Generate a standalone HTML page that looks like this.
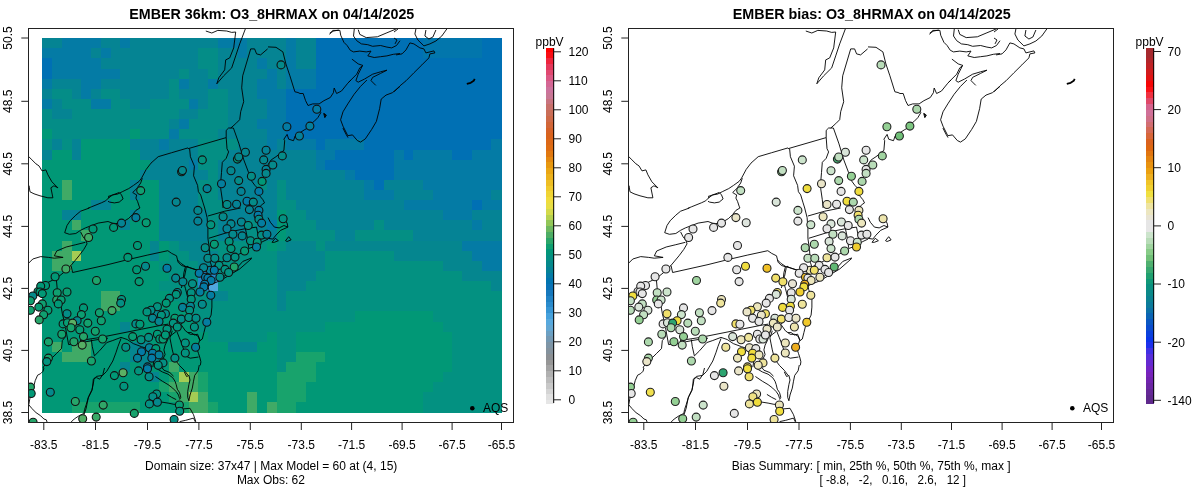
<!DOCTYPE html><html><head><meta charset="utf-8"><style>html,body{margin:0;padding:0;background:#fff;overflow:hidden}svg{display:block;will-change:transform}text{font-family:'Liberation Sans',sans-serif}</style></head><body>
<svg width="1200" height="502" viewBox="0 0 1200 502">
<rect width="1200" height="502" fill="#fff"/>
<defs><clipPath id="clipL"><rect x="28.5" y="28.5" width="485" height="394"/></clipPath><clipPath id="clipR"><rect x="628.5" y="28.5" width="485" height="394"/></clipPath></defs>
<rect shape-rendering="crispEdges" x="42.20" y="38.20" width="10.07" height="10.42" fill="#058493"/>
<rect shape-rendering="crispEdges" x="51.97" y="38.20" width="10.07" height="10.42" fill="#058493"/>
<rect shape-rendering="crispEdges" x="61.73" y="38.20" width="10.07" height="10.42" fill="#047ba5"/>
<rect shape-rendering="crispEdges" x="71.50" y="38.20" width="10.07" height="10.42" fill="#047ba5"/>
<rect shape-rendering="crispEdges" x="81.26" y="38.20" width="10.07" height="10.42" fill="#047ba5"/>
<rect shape-rendering="crispEdges" x="91.03" y="38.20" width="10.07" height="10.42" fill="#047ba5"/>
<rect shape-rendering="crispEdges" x="100.80" y="38.20" width="10.07" height="10.42" fill="#058493"/>
<rect shape-rendering="crispEdges" x="110.56" y="38.20" width="10.07" height="10.42" fill="#058493"/>
<rect shape-rendering="crispEdges" x="120.33" y="38.20" width="10.07" height="10.42" fill="#047ba5"/>
<rect shape-rendering="crispEdges" x="130.09" y="38.20" width="10.07" height="10.42" fill="#058493"/>
<rect shape-rendering="crispEdges" x="139.86" y="38.20" width="10.07" height="10.42" fill="#058493"/>
<rect shape-rendering="crispEdges" x="149.63" y="38.20" width="10.07" height="10.42" fill="#058493"/>
<rect shape-rendering="crispEdges" x="159.39" y="38.20" width="10.07" height="10.42" fill="#058493"/>
<rect shape-rendering="crispEdges" x="169.16" y="38.20" width="10.07" height="10.42" fill="#058493"/>
<rect shape-rendering="crispEdges" x="178.92" y="38.20" width="10.07" height="10.42" fill="#058493"/>
<rect shape-rendering="crispEdges" x="188.69" y="38.20" width="10.07" height="10.42" fill="#058493"/>
<rect shape-rendering="crispEdges" x="198.46" y="38.20" width="10.07" height="10.42" fill="#058493"/>
<rect shape-rendering="crispEdges" x="208.22" y="38.20" width="10.07" height="10.42" fill="#058493"/>
<rect shape-rendering="crispEdges" x="217.99" y="38.20" width="10.07" height="10.42" fill="#047ba5"/>
<rect shape-rendering="crispEdges" x="227.75" y="38.20" width="10.07" height="10.42" fill="#047ba5"/>
<rect shape-rendering="crispEdges" x="237.52" y="38.20" width="10.07" height="10.42" fill="#047ba5"/>
<rect shape-rendering="crispEdges" x="247.29" y="38.20" width="10.07" height="10.42" fill="#058493"/>
<rect shape-rendering="crispEdges" x="257.05" y="38.20" width="10.07" height="10.42" fill="#058493"/>
<rect shape-rendering="crispEdges" x="266.82" y="38.20" width="10.07" height="10.42" fill="#058493"/>
<rect shape-rendering="crispEdges" x="276.58" y="38.20" width="10.07" height="10.42" fill="#058493"/>
<rect shape-rendering="crispEdges" x="286.35" y="38.20" width="10.07" height="10.42" fill="#047ba5"/>
<rect shape-rendering="crispEdges" x="296.11" y="38.20" width="10.07" height="10.42" fill="#058493"/>
<rect shape-rendering="crispEdges" x="305.88" y="38.20" width="10.07" height="10.42" fill="#058493"/>
<rect shape-rendering="crispEdges" x="315.65" y="38.20" width="10.07" height="10.42" fill="#0070b4"/>
<rect shape-rendering="crispEdges" x="325.41" y="38.20" width="10.07" height="10.42" fill="#0070b4"/>
<rect shape-rendering="crispEdges" x="335.18" y="38.20" width="10.07" height="10.42" fill="#0070b4"/>
<rect shape-rendering="crispEdges" x="344.94" y="38.20" width="10.07" height="10.42" fill="#0070b4"/>
<rect shape-rendering="crispEdges" x="354.71" y="38.20" width="10.07" height="10.42" fill="#0070b4"/>
<rect shape-rendering="crispEdges" x="364.48" y="38.20" width="10.07" height="10.42" fill="#0070b4"/>
<rect shape-rendering="crispEdges" x="374.24" y="38.20" width="10.07" height="10.42" fill="#0070b4"/>
<rect shape-rendering="crispEdges" x="384.01" y="38.20" width="10.07" height="10.42" fill="#0070b4"/>
<rect shape-rendering="crispEdges" x="393.77" y="38.20" width="10.07" height="10.42" fill="#0070b4"/>
<rect shape-rendering="crispEdges" x="403.54" y="38.20" width="10.07" height="10.42" fill="#0070b4"/>
<rect shape-rendering="crispEdges" x="413.31" y="38.20" width="10.07" height="10.42" fill="#0070b4"/>
<rect shape-rendering="crispEdges" x="423.07" y="38.20" width="10.07" height="10.42" fill="#0276ac"/>
<rect shape-rendering="crispEdges" x="432.84" y="38.20" width="10.07" height="10.42" fill="#0276ac"/>
<rect shape-rendering="crispEdges" x="442.60" y="38.20" width="10.07" height="10.42" fill="#0276ac"/>
<rect shape-rendering="crispEdges" x="452.37" y="38.20" width="10.07" height="10.42" fill="#0276ac"/>
<rect shape-rendering="crispEdges" x="462.14" y="38.20" width="10.07" height="10.42" fill="#0276ac"/>
<rect shape-rendering="crispEdges" x="471.90" y="38.20" width="10.07" height="10.42" fill="#0276ac"/>
<rect shape-rendering="crispEdges" x="481.67" y="38.20" width="10.07" height="10.42" fill="#0070b4"/>
<rect shape-rendering="crispEdges" x="491.43" y="38.20" width="10.07" height="10.42" fill="#0070b4"/>
<rect shape-rendering="crispEdges" x="42.20" y="48.32" width="10.07" height="10.42" fill="#047ba5"/>
<rect shape-rendering="crispEdges" x="51.97" y="48.32" width="10.07" height="10.42" fill="#047ba5"/>
<rect shape-rendering="crispEdges" x="61.73" y="48.32" width="10.07" height="10.42" fill="#047ba5"/>
<rect shape-rendering="crispEdges" x="71.50" y="48.32" width="10.07" height="10.42" fill="#047ba5"/>
<rect shape-rendering="crispEdges" x="81.26" y="48.32" width="10.07" height="10.42" fill="#047ba5"/>
<rect shape-rendering="crispEdges" x="91.03" y="48.32" width="10.07" height="10.42" fill="#058493"/>
<rect shape-rendering="crispEdges" x="100.80" y="48.32" width="10.07" height="10.42" fill="#047ba5"/>
<rect shape-rendering="crispEdges" x="110.56" y="48.32" width="10.07" height="10.42" fill="#058493"/>
<rect shape-rendering="crispEdges" x="120.33" y="48.32" width="10.07" height="10.42" fill="#058493"/>
<rect shape-rendering="crispEdges" x="130.09" y="48.32" width="10.07" height="10.42" fill="#058493"/>
<rect shape-rendering="crispEdges" x="139.86" y="48.32" width="10.07" height="10.42" fill="#058493"/>
<rect shape-rendering="crispEdges" x="149.63" y="48.32" width="10.07" height="10.42" fill="#058493"/>
<rect shape-rendering="crispEdges" x="159.39" y="48.32" width="10.07" height="10.42" fill="#058493"/>
<rect shape-rendering="crispEdges" x="169.16" y="48.32" width="10.07" height="10.42" fill="#058493"/>
<rect shape-rendering="crispEdges" x="178.92" y="48.32" width="10.07" height="10.42" fill="#058493"/>
<rect shape-rendering="crispEdges" x="188.69" y="48.32" width="10.07" height="10.42" fill="#058493"/>
<rect shape-rendering="crispEdges" x="198.46" y="48.32" width="10.07" height="10.42" fill="#048d87"/>
<rect shape-rendering="crispEdges" x="208.22" y="48.32" width="10.07" height="10.42" fill="#048d87"/>
<rect shape-rendering="crispEdges" x="217.99" y="48.32" width="10.07" height="10.42" fill="#058493"/>
<rect shape-rendering="crispEdges" x="227.75" y="48.32" width="10.07" height="10.42" fill="#058493"/>
<rect shape-rendering="crispEdges" x="237.52" y="48.32" width="10.07" height="10.42" fill="#047ba5"/>
<rect shape-rendering="crispEdges" x="247.29" y="48.32" width="10.07" height="10.42" fill="#058493"/>
<rect shape-rendering="crispEdges" x="257.05" y="48.32" width="10.07" height="10.42" fill="#058493"/>
<rect shape-rendering="crispEdges" x="266.82" y="48.32" width="10.07" height="10.42" fill="#058493"/>
<rect shape-rendering="crispEdges" x="276.58" y="48.32" width="10.07" height="10.42" fill="#058493"/>
<rect shape-rendering="crispEdges" x="286.35" y="48.32" width="10.07" height="10.42" fill="#047ba5"/>
<rect shape-rendering="crispEdges" x="296.11" y="48.32" width="10.07" height="10.42" fill="#058493"/>
<rect shape-rendering="crispEdges" x="305.88" y="48.32" width="10.07" height="10.42" fill="#058493"/>
<rect shape-rendering="crispEdges" x="315.65" y="48.32" width="10.07" height="10.42" fill="#0070b4"/>
<rect shape-rendering="crispEdges" x="325.41" y="48.32" width="10.07" height="10.42" fill="#0070b4"/>
<rect shape-rendering="crispEdges" x="335.18" y="48.32" width="10.07" height="10.42" fill="#0070b4"/>
<rect shape-rendering="crispEdges" x="344.94" y="48.32" width="10.07" height="10.42" fill="#0070b4"/>
<rect shape-rendering="crispEdges" x="354.71" y="48.32" width="10.07" height="10.42" fill="#0070b4"/>
<rect shape-rendering="crispEdges" x="364.48" y="48.32" width="10.07" height="10.42" fill="#0070b4"/>
<rect shape-rendering="crispEdges" x="374.24" y="48.32" width="10.07" height="10.42" fill="#0070b4"/>
<rect shape-rendering="crispEdges" x="384.01" y="48.32" width="10.07" height="10.42" fill="#0070b4"/>
<rect shape-rendering="crispEdges" x="393.77" y="48.32" width="10.07" height="10.42" fill="#0070b4"/>
<rect shape-rendering="crispEdges" x="403.54" y="48.32" width="10.07" height="10.42" fill="#0070b4"/>
<rect shape-rendering="crispEdges" x="413.31" y="48.32" width="10.07" height="10.42" fill="#0070b4"/>
<rect shape-rendering="crispEdges" x="423.07" y="48.32" width="10.07" height="10.42" fill="#0276ac"/>
<rect shape-rendering="crispEdges" x="432.84" y="48.32" width="10.07" height="10.42" fill="#0276ac"/>
<rect shape-rendering="crispEdges" x="442.60" y="48.32" width="10.07" height="10.42" fill="#0276ac"/>
<rect shape-rendering="crispEdges" x="452.37" y="48.32" width="10.07" height="10.42" fill="#0276ac"/>
<rect shape-rendering="crispEdges" x="462.14" y="48.32" width="10.07" height="10.42" fill="#0276ac"/>
<rect shape-rendering="crispEdges" x="471.90" y="48.32" width="10.07" height="10.42" fill="#0276ac"/>
<rect shape-rendering="crispEdges" x="481.67" y="48.32" width="10.07" height="10.42" fill="#0070b4"/>
<rect shape-rendering="crispEdges" x="491.43" y="48.32" width="10.07" height="10.42" fill="#0070b4"/>
<rect shape-rendering="crispEdges" x="42.20" y="58.44" width="10.07" height="10.42" fill="#0070b4"/>
<rect shape-rendering="crispEdges" x="51.97" y="58.44" width="10.07" height="10.42" fill="#047ba5"/>
<rect shape-rendering="crispEdges" x="61.73" y="58.44" width="10.07" height="10.42" fill="#047ba5"/>
<rect shape-rendering="crispEdges" x="71.50" y="58.44" width="10.07" height="10.42" fill="#047ba5"/>
<rect shape-rendering="crispEdges" x="81.26" y="58.44" width="10.07" height="10.42" fill="#047ba5"/>
<rect shape-rendering="crispEdges" x="91.03" y="58.44" width="10.07" height="10.42" fill="#047ba5"/>
<rect shape-rendering="crispEdges" x="100.80" y="58.44" width="10.07" height="10.42" fill="#058493"/>
<rect shape-rendering="crispEdges" x="110.56" y="58.44" width="10.07" height="10.42" fill="#058493"/>
<rect shape-rendering="crispEdges" x="120.33" y="58.44" width="10.07" height="10.42" fill="#058493"/>
<rect shape-rendering="crispEdges" x="130.09" y="58.44" width="10.07" height="10.42" fill="#058493"/>
<rect shape-rendering="crispEdges" x="139.86" y="58.44" width="10.07" height="10.42" fill="#058493"/>
<rect shape-rendering="crispEdges" x="149.63" y="58.44" width="10.07" height="10.42" fill="#058493"/>
<rect shape-rendering="crispEdges" x="159.39" y="58.44" width="10.07" height="10.42" fill="#058493"/>
<rect shape-rendering="crispEdges" x="169.16" y="58.44" width="10.07" height="10.42" fill="#058493"/>
<rect shape-rendering="crispEdges" x="178.92" y="58.44" width="10.07" height="10.42" fill="#058493"/>
<rect shape-rendering="crispEdges" x="188.69" y="58.44" width="10.07" height="10.42" fill="#058493"/>
<rect shape-rendering="crispEdges" x="198.46" y="58.44" width="10.07" height="10.42" fill="#048d87"/>
<rect shape-rendering="crispEdges" x="208.22" y="58.44" width="10.07" height="10.42" fill="#048d87"/>
<rect shape-rendering="crispEdges" x="217.99" y="58.44" width="10.07" height="10.42" fill="#058493"/>
<rect shape-rendering="crispEdges" x="227.75" y="58.44" width="10.07" height="10.42" fill="#058493"/>
<rect shape-rendering="crispEdges" x="237.52" y="58.44" width="10.07" height="10.42" fill="#058493"/>
<rect shape-rendering="crispEdges" x="247.29" y="58.44" width="10.07" height="10.42" fill="#058493"/>
<rect shape-rendering="crispEdges" x="257.05" y="58.44" width="10.07" height="10.42" fill="#047ba5"/>
<rect shape-rendering="crispEdges" x="266.82" y="58.44" width="10.07" height="10.42" fill="#058493"/>
<rect shape-rendering="crispEdges" x="276.58" y="58.44" width="10.07" height="10.42" fill="#058493"/>
<rect shape-rendering="crispEdges" x="286.35" y="58.44" width="10.07" height="10.42" fill="#047ba5"/>
<rect shape-rendering="crispEdges" x="296.11" y="58.44" width="10.07" height="10.42" fill="#058493"/>
<rect shape-rendering="crispEdges" x="305.88" y="58.44" width="10.07" height="10.42" fill="#058493"/>
<rect shape-rendering="crispEdges" x="315.65" y="58.44" width="10.07" height="10.42" fill="#0070b4"/>
<rect shape-rendering="crispEdges" x="325.41" y="58.44" width="10.07" height="10.42" fill="#0070b4"/>
<rect shape-rendering="crispEdges" x="335.18" y="58.44" width="10.07" height="10.42" fill="#0070b4"/>
<rect shape-rendering="crispEdges" x="344.94" y="58.44" width="10.07" height="10.42" fill="#0070b4"/>
<rect shape-rendering="crispEdges" x="354.71" y="58.44" width="10.07" height="10.42" fill="#0070b4"/>
<rect shape-rendering="crispEdges" x="364.48" y="58.44" width="10.07" height="10.42" fill="#0070b4"/>
<rect shape-rendering="crispEdges" x="374.24" y="58.44" width="10.07" height="10.42" fill="#0070b4"/>
<rect shape-rendering="crispEdges" x="384.01" y="58.44" width="10.07" height="10.42" fill="#0070b4"/>
<rect shape-rendering="crispEdges" x="393.77" y="58.44" width="10.07" height="10.42" fill="#0070b4"/>
<rect shape-rendering="crispEdges" x="403.54" y="58.44" width="10.07" height="10.42" fill="#0070b4"/>
<rect shape-rendering="crispEdges" x="413.31" y="58.44" width="10.07" height="10.42" fill="#0070b4"/>
<rect shape-rendering="crispEdges" x="423.07" y="58.44" width="10.07" height="10.42" fill="#0070b4"/>
<rect shape-rendering="crispEdges" x="432.84" y="58.44" width="10.07" height="10.42" fill="#0070b4"/>
<rect shape-rendering="crispEdges" x="442.60" y="58.44" width="10.07" height="10.42" fill="#0070b4"/>
<rect shape-rendering="crispEdges" x="452.37" y="58.44" width="10.07" height="10.42" fill="#0070b4"/>
<rect shape-rendering="crispEdges" x="462.14" y="58.44" width="10.07" height="10.42" fill="#0070b4"/>
<rect shape-rendering="crispEdges" x="471.90" y="58.44" width="10.07" height="10.42" fill="#0070b4"/>
<rect shape-rendering="crispEdges" x="481.67" y="58.44" width="10.07" height="10.42" fill="#0070b4"/>
<rect shape-rendering="crispEdges" x="491.43" y="58.44" width="10.07" height="10.42" fill="#0070b4"/>
<rect shape-rendering="crispEdges" x="42.20" y="68.56" width="10.07" height="10.42" fill="#0070b4"/>
<rect shape-rendering="crispEdges" x="51.97" y="68.56" width="10.07" height="10.42" fill="#047ba5"/>
<rect shape-rendering="crispEdges" x="61.73" y="68.56" width="10.07" height="10.42" fill="#047ba5"/>
<rect shape-rendering="crispEdges" x="71.50" y="68.56" width="10.07" height="10.42" fill="#047ba5"/>
<rect shape-rendering="crispEdges" x="81.26" y="68.56" width="10.07" height="10.42" fill="#047ba5"/>
<rect shape-rendering="crispEdges" x="91.03" y="68.56" width="10.07" height="10.42" fill="#047ba5"/>
<rect shape-rendering="crispEdges" x="100.80" y="68.56" width="10.07" height="10.42" fill="#047ba5"/>
<rect shape-rendering="crispEdges" x="110.56" y="68.56" width="10.07" height="10.42" fill="#047ba5"/>
<rect shape-rendering="crispEdges" x="120.33" y="68.56" width="10.07" height="10.42" fill="#058493"/>
<rect shape-rendering="crispEdges" x="130.09" y="68.56" width="10.07" height="10.42" fill="#058493"/>
<rect shape-rendering="crispEdges" x="139.86" y="68.56" width="10.07" height="10.42" fill="#058493"/>
<rect shape-rendering="crispEdges" x="149.63" y="68.56" width="10.07" height="10.42" fill="#058493"/>
<rect shape-rendering="crispEdges" x="159.39" y="68.56" width="10.07" height="10.42" fill="#058493"/>
<rect shape-rendering="crispEdges" x="169.16" y="68.56" width="10.07" height="10.42" fill="#058493"/>
<rect shape-rendering="crispEdges" x="178.92" y="68.56" width="10.07" height="10.42" fill="#048d87"/>
<rect shape-rendering="crispEdges" x="188.69" y="68.56" width="10.07" height="10.42" fill="#058493"/>
<rect shape-rendering="crispEdges" x="198.46" y="68.56" width="10.07" height="10.42" fill="#058493"/>
<rect shape-rendering="crispEdges" x="208.22" y="68.56" width="10.07" height="10.42" fill="#048d87"/>
<rect shape-rendering="crispEdges" x="217.99" y="68.56" width="10.07" height="10.42" fill="#058493"/>
<rect shape-rendering="crispEdges" x="227.75" y="68.56" width="10.07" height="10.42" fill="#058493"/>
<rect shape-rendering="crispEdges" x="237.52" y="68.56" width="10.07" height="10.42" fill="#058493"/>
<rect shape-rendering="crispEdges" x="247.29" y="68.56" width="10.07" height="10.42" fill="#058493"/>
<rect shape-rendering="crispEdges" x="257.05" y="68.56" width="10.07" height="10.42" fill="#058493"/>
<rect shape-rendering="crispEdges" x="266.82" y="68.56" width="10.07" height="10.42" fill="#047ba5"/>
<rect shape-rendering="crispEdges" x="276.58" y="68.56" width="10.07" height="10.42" fill="#058493"/>
<rect shape-rendering="crispEdges" x="286.35" y="68.56" width="10.07" height="10.42" fill="#047ba5"/>
<rect shape-rendering="crispEdges" x="296.11" y="68.56" width="10.07" height="10.42" fill="#047ba5"/>
<rect shape-rendering="crispEdges" x="305.88" y="68.56" width="10.07" height="10.42" fill="#047ba5"/>
<rect shape-rendering="crispEdges" x="315.65" y="68.56" width="10.07" height="10.42" fill="#0070b4"/>
<rect shape-rendering="crispEdges" x="325.41" y="68.56" width="10.07" height="10.42" fill="#0070b4"/>
<rect shape-rendering="crispEdges" x="335.18" y="68.56" width="10.07" height="10.42" fill="#0070b4"/>
<rect shape-rendering="crispEdges" x="344.94" y="68.56" width="10.07" height="10.42" fill="#0070b4"/>
<rect shape-rendering="crispEdges" x="354.71" y="68.56" width="10.07" height="10.42" fill="#0070b4"/>
<rect shape-rendering="crispEdges" x="364.48" y="68.56" width="10.07" height="10.42" fill="#0070b4"/>
<rect shape-rendering="crispEdges" x="374.24" y="68.56" width="10.07" height="10.42" fill="#0070b4"/>
<rect shape-rendering="crispEdges" x="384.01" y="68.56" width="10.07" height="10.42" fill="#0070b4"/>
<rect shape-rendering="crispEdges" x="393.77" y="68.56" width="10.07" height="10.42" fill="#0070b4"/>
<rect shape-rendering="crispEdges" x="403.54" y="68.56" width="10.07" height="10.42" fill="#0070b4"/>
<rect shape-rendering="crispEdges" x="413.31" y="68.56" width="10.07" height="10.42" fill="#0070b4"/>
<rect shape-rendering="crispEdges" x="423.07" y="68.56" width="10.07" height="10.42" fill="#0070b4"/>
<rect shape-rendering="crispEdges" x="432.84" y="68.56" width="10.07" height="10.42" fill="#0070b4"/>
<rect shape-rendering="crispEdges" x="442.60" y="68.56" width="10.07" height="10.42" fill="#0070b4"/>
<rect shape-rendering="crispEdges" x="452.37" y="68.56" width="10.07" height="10.42" fill="#0070b4"/>
<rect shape-rendering="crispEdges" x="462.14" y="68.56" width="10.07" height="10.42" fill="#0070b4"/>
<rect shape-rendering="crispEdges" x="471.90" y="68.56" width="10.07" height="10.42" fill="#0070b4"/>
<rect shape-rendering="crispEdges" x="481.67" y="68.56" width="10.07" height="10.42" fill="#0070b4"/>
<rect shape-rendering="crispEdges" x="491.43" y="68.56" width="10.07" height="10.42" fill="#0070b4"/>
<rect shape-rendering="crispEdges" x="42.20" y="78.68" width="10.07" height="10.42" fill="#047ba5"/>
<rect shape-rendering="crispEdges" x="51.97" y="78.68" width="10.07" height="10.42" fill="#058493"/>
<rect shape-rendering="crispEdges" x="61.73" y="78.68" width="10.07" height="10.42" fill="#058493"/>
<rect shape-rendering="crispEdges" x="71.50" y="78.68" width="10.07" height="10.42" fill="#058493"/>
<rect shape-rendering="crispEdges" x="81.26" y="78.68" width="10.07" height="10.42" fill="#047ba5"/>
<rect shape-rendering="crispEdges" x="91.03" y="78.68" width="10.07" height="10.42" fill="#047ba5"/>
<rect shape-rendering="crispEdges" x="100.80" y="78.68" width="10.07" height="10.42" fill="#058493"/>
<rect shape-rendering="crispEdges" x="110.56" y="78.68" width="10.07" height="10.42" fill="#058493"/>
<rect shape-rendering="crispEdges" x="120.33" y="78.68" width="10.07" height="10.42" fill="#058493"/>
<rect shape-rendering="crispEdges" x="130.09" y="78.68" width="10.07" height="10.42" fill="#058493"/>
<rect shape-rendering="crispEdges" x="139.86" y="78.68" width="10.07" height="10.42" fill="#058493"/>
<rect shape-rendering="crispEdges" x="149.63" y="78.68" width="10.07" height="10.42" fill="#058493"/>
<rect shape-rendering="crispEdges" x="159.39" y="78.68" width="10.07" height="10.42" fill="#058493"/>
<rect shape-rendering="crispEdges" x="169.16" y="78.68" width="10.07" height="10.42" fill="#048d87"/>
<rect shape-rendering="crispEdges" x="178.92" y="78.68" width="10.07" height="10.42" fill="#047ba5"/>
<rect shape-rendering="crispEdges" x="188.69" y="78.68" width="10.07" height="10.42" fill="#058493"/>
<rect shape-rendering="crispEdges" x="198.46" y="78.68" width="10.07" height="10.42" fill="#058493"/>
<rect shape-rendering="crispEdges" x="208.22" y="78.68" width="10.07" height="10.42" fill="#047ba5"/>
<rect shape-rendering="crispEdges" x="217.99" y="78.68" width="10.07" height="10.42" fill="#058493"/>
<rect shape-rendering="crispEdges" x="227.75" y="78.68" width="10.07" height="10.42" fill="#058493"/>
<rect shape-rendering="crispEdges" x="237.52" y="78.68" width="10.07" height="10.42" fill="#058493"/>
<rect shape-rendering="crispEdges" x="247.29" y="78.68" width="10.07" height="10.42" fill="#058493"/>
<rect shape-rendering="crispEdges" x="257.05" y="78.68" width="10.07" height="10.42" fill="#047ba5"/>
<rect shape-rendering="crispEdges" x="266.82" y="78.68" width="10.07" height="10.42" fill="#047ba5"/>
<rect shape-rendering="crispEdges" x="276.58" y="78.68" width="10.07" height="10.42" fill="#058493"/>
<rect shape-rendering="crispEdges" x="286.35" y="78.68" width="10.07" height="10.42" fill="#047ba5"/>
<rect shape-rendering="crispEdges" x="296.11" y="78.68" width="10.07" height="10.42" fill="#047ba5"/>
<rect shape-rendering="crispEdges" x="305.88" y="78.68" width="10.07" height="10.42" fill="#047ba5"/>
<rect shape-rendering="crispEdges" x="315.65" y="78.68" width="10.07" height="10.42" fill="#0070b4"/>
<rect shape-rendering="crispEdges" x="325.41" y="78.68" width="10.07" height="10.42" fill="#0070b4"/>
<rect shape-rendering="crispEdges" x="335.18" y="78.68" width="10.07" height="10.42" fill="#0070b4"/>
<rect shape-rendering="crispEdges" x="344.94" y="78.68" width="10.07" height="10.42" fill="#0070b4"/>
<rect shape-rendering="crispEdges" x="354.71" y="78.68" width="10.07" height="10.42" fill="#0070b4"/>
<rect shape-rendering="crispEdges" x="364.48" y="78.68" width="10.07" height="10.42" fill="#0070b4"/>
<rect shape-rendering="crispEdges" x="374.24" y="78.68" width="10.07" height="10.42" fill="#0070b4"/>
<rect shape-rendering="crispEdges" x="384.01" y="78.68" width="10.07" height="10.42" fill="#0070b4"/>
<rect shape-rendering="crispEdges" x="393.77" y="78.68" width="10.07" height="10.42" fill="#0070b4"/>
<rect shape-rendering="crispEdges" x="403.54" y="78.68" width="10.07" height="10.42" fill="#0070b4"/>
<rect shape-rendering="crispEdges" x="413.31" y="78.68" width="10.07" height="10.42" fill="#0070b4"/>
<rect shape-rendering="crispEdges" x="423.07" y="78.68" width="10.07" height="10.42" fill="#0070b4"/>
<rect shape-rendering="crispEdges" x="432.84" y="78.68" width="10.07" height="10.42" fill="#0070b4"/>
<rect shape-rendering="crispEdges" x="442.60" y="78.68" width="10.07" height="10.42" fill="#0070b4"/>
<rect shape-rendering="crispEdges" x="452.37" y="78.68" width="10.07" height="10.42" fill="#0070b4"/>
<rect shape-rendering="crispEdges" x="462.14" y="78.68" width="10.07" height="10.42" fill="#0070b4"/>
<rect shape-rendering="crispEdges" x="471.90" y="78.68" width="10.07" height="10.42" fill="#0070b4"/>
<rect shape-rendering="crispEdges" x="481.67" y="78.68" width="10.07" height="10.42" fill="#0070b4"/>
<rect shape-rendering="crispEdges" x="491.43" y="78.68" width="10.07" height="10.42" fill="#0070b4"/>
<rect shape-rendering="crispEdges" x="42.20" y="88.79" width="10.07" height="10.42" fill="#058493"/>
<rect shape-rendering="crispEdges" x="51.97" y="88.79" width="10.07" height="10.42" fill="#048d87"/>
<rect shape-rendering="crispEdges" x="61.73" y="88.79" width="10.07" height="10.42" fill="#048d87"/>
<rect shape-rendering="crispEdges" x="71.50" y="88.79" width="10.07" height="10.42" fill="#058493"/>
<rect shape-rendering="crispEdges" x="81.26" y="88.79" width="10.07" height="10.42" fill="#047ba5"/>
<rect shape-rendering="crispEdges" x="91.03" y="88.79" width="10.07" height="10.42" fill="#058493"/>
<rect shape-rendering="crispEdges" x="100.80" y="88.79" width="10.07" height="10.42" fill="#048d87"/>
<rect shape-rendering="crispEdges" x="110.56" y="88.79" width="10.07" height="10.42" fill="#048d87"/>
<rect shape-rendering="crispEdges" x="120.33" y="88.79" width="10.07" height="10.42" fill="#058493"/>
<rect shape-rendering="crispEdges" x="130.09" y="88.79" width="10.07" height="10.42" fill="#058493"/>
<rect shape-rendering="crispEdges" x="139.86" y="88.79" width="10.07" height="10.42" fill="#058493"/>
<rect shape-rendering="crispEdges" x="149.63" y="88.79" width="10.07" height="10.42" fill="#058493"/>
<rect shape-rendering="crispEdges" x="159.39" y="88.79" width="10.07" height="10.42" fill="#058493"/>
<rect shape-rendering="crispEdges" x="169.16" y="88.79" width="10.07" height="10.42" fill="#048d87"/>
<rect shape-rendering="crispEdges" x="178.92" y="88.79" width="10.07" height="10.42" fill="#058493"/>
<rect shape-rendering="crispEdges" x="188.69" y="88.79" width="10.07" height="10.42" fill="#058493"/>
<rect shape-rendering="crispEdges" x="198.46" y="88.79" width="10.07" height="10.42" fill="#058493"/>
<rect shape-rendering="crispEdges" x="208.22" y="88.79" width="10.07" height="10.42" fill="#048d87"/>
<rect shape-rendering="crispEdges" x="217.99" y="88.79" width="10.07" height="10.42" fill="#048d87"/>
<rect shape-rendering="crispEdges" x="227.75" y="88.79" width="10.07" height="10.42" fill="#058493"/>
<rect shape-rendering="crispEdges" x="237.52" y="88.79" width="10.07" height="10.42" fill="#058493"/>
<rect shape-rendering="crispEdges" x="247.29" y="88.79" width="10.07" height="10.42" fill="#058493"/>
<rect shape-rendering="crispEdges" x="257.05" y="88.79" width="10.07" height="10.42" fill="#047ba5"/>
<rect shape-rendering="crispEdges" x="266.82" y="88.79" width="10.07" height="10.42" fill="#047ba5"/>
<rect shape-rendering="crispEdges" x="276.58" y="88.79" width="10.07" height="10.42" fill="#047ba5"/>
<rect shape-rendering="crispEdges" x="286.35" y="88.79" width="10.07" height="10.42" fill="#0070b4"/>
<rect shape-rendering="crispEdges" x="296.11" y="88.79" width="10.07" height="10.42" fill="#0070b4"/>
<rect shape-rendering="crispEdges" x="305.88" y="88.79" width="10.07" height="10.42" fill="#0070b4"/>
<rect shape-rendering="crispEdges" x="315.65" y="88.79" width="10.07" height="10.42" fill="#0070b4"/>
<rect shape-rendering="crispEdges" x="325.41" y="88.79" width="10.07" height="10.42" fill="#0070b4"/>
<rect shape-rendering="crispEdges" x="335.18" y="88.79" width="10.07" height="10.42" fill="#0070b4"/>
<rect shape-rendering="crispEdges" x="344.94" y="88.79" width="10.07" height="10.42" fill="#0070b4"/>
<rect shape-rendering="crispEdges" x="354.71" y="88.79" width="10.07" height="10.42" fill="#0070b4"/>
<rect shape-rendering="crispEdges" x="364.48" y="88.79" width="10.07" height="10.42" fill="#0070b4"/>
<rect shape-rendering="crispEdges" x="374.24" y="88.79" width="10.07" height="10.42" fill="#0070b4"/>
<rect shape-rendering="crispEdges" x="384.01" y="88.79" width="10.07" height="10.42" fill="#0070b4"/>
<rect shape-rendering="crispEdges" x="393.77" y="88.79" width="10.07" height="10.42" fill="#0070b4"/>
<rect shape-rendering="crispEdges" x="403.54" y="88.79" width="10.07" height="10.42" fill="#0070b4"/>
<rect shape-rendering="crispEdges" x="413.31" y="88.79" width="10.07" height="10.42" fill="#0070b4"/>
<rect shape-rendering="crispEdges" x="423.07" y="88.79" width="10.07" height="10.42" fill="#0070b4"/>
<rect shape-rendering="crispEdges" x="432.84" y="88.79" width="10.07" height="10.42" fill="#0070b4"/>
<rect shape-rendering="crispEdges" x="442.60" y="88.79" width="10.07" height="10.42" fill="#0070b4"/>
<rect shape-rendering="crispEdges" x="452.37" y="88.79" width="10.07" height="10.42" fill="#0070b4"/>
<rect shape-rendering="crispEdges" x="462.14" y="88.79" width="10.07" height="10.42" fill="#0070b4"/>
<rect shape-rendering="crispEdges" x="471.90" y="88.79" width="10.07" height="10.42" fill="#0070b4"/>
<rect shape-rendering="crispEdges" x="481.67" y="88.79" width="10.07" height="10.42" fill="#0070b4"/>
<rect shape-rendering="crispEdges" x="491.43" y="88.79" width="10.07" height="10.42" fill="#0070b4"/>
<rect shape-rendering="crispEdges" x="42.20" y="98.91" width="10.07" height="10.42" fill="#047ba5"/>
<rect shape-rendering="crispEdges" x="51.97" y="98.91" width="10.07" height="10.42" fill="#058493"/>
<rect shape-rendering="crispEdges" x="61.73" y="98.91" width="10.07" height="10.42" fill="#048d87"/>
<rect shape-rendering="crispEdges" x="71.50" y="98.91" width="10.07" height="10.42" fill="#048d87"/>
<rect shape-rendering="crispEdges" x="81.26" y="98.91" width="10.07" height="10.42" fill="#048d87"/>
<rect shape-rendering="crispEdges" x="91.03" y="98.91" width="10.07" height="10.42" fill="#047ba5"/>
<rect shape-rendering="crispEdges" x="100.80" y="98.91" width="10.07" height="10.42" fill="#047ba5"/>
<rect shape-rendering="crispEdges" x="110.56" y="98.91" width="10.07" height="10.42" fill="#048d87"/>
<rect shape-rendering="crispEdges" x="120.33" y="98.91" width="10.07" height="10.42" fill="#048d87"/>
<rect shape-rendering="crispEdges" x="130.09" y="98.91" width="10.07" height="10.42" fill="#058493"/>
<rect shape-rendering="crispEdges" x="139.86" y="98.91" width="10.07" height="10.42" fill="#058493"/>
<rect shape-rendering="crispEdges" x="149.63" y="98.91" width="10.07" height="10.42" fill="#048d87"/>
<rect shape-rendering="crispEdges" x="159.39" y="98.91" width="10.07" height="10.42" fill="#048d87"/>
<rect shape-rendering="crispEdges" x="169.16" y="98.91" width="10.07" height="10.42" fill="#048d87"/>
<rect shape-rendering="crispEdges" x="178.92" y="98.91" width="10.07" height="10.42" fill="#048d87"/>
<rect shape-rendering="crispEdges" x="188.69" y="98.91" width="10.07" height="10.42" fill="#047ba5"/>
<rect shape-rendering="crispEdges" x="198.46" y="98.91" width="10.07" height="10.42" fill="#058493"/>
<rect shape-rendering="crispEdges" x="208.22" y="98.91" width="10.07" height="10.42" fill="#048d87"/>
<rect shape-rendering="crispEdges" x="217.99" y="98.91" width="10.07" height="10.42" fill="#048d87"/>
<rect shape-rendering="crispEdges" x="227.75" y="98.91" width="10.07" height="10.42" fill="#058493"/>
<rect shape-rendering="crispEdges" x="237.52" y="98.91" width="10.07" height="10.42" fill="#058493"/>
<rect shape-rendering="crispEdges" x="247.29" y="98.91" width="10.07" height="10.42" fill="#058493"/>
<rect shape-rendering="crispEdges" x="257.05" y="98.91" width="10.07" height="10.42" fill="#058493"/>
<rect shape-rendering="crispEdges" x="266.82" y="98.91" width="10.07" height="10.42" fill="#047ba5"/>
<rect shape-rendering="crispEdges" x="276.58" y="98.91" width="10.07" height="10.42" fill="#047ba5"/>
<rect shape-rendering="crispEdges" x="286.35" y="98.91" width="10.07" height="10.42" fill="#0070b4"/>
<rect shape-rendering="crispEdges" x="296.11" y="98.91" width="10.07" height="10.42" fill="#0070b4"/>
<rect shape-rendering="crispEdges" x="305.88" y="98.91" width="10.07" height="10.42" fill="#0070b4"/>
<rect shape-rendering="crispEdges" x="315.65" y="98.91" width="10.07" height="10.42" fill="#0070b4"/>
<rect shape-rendering="crispEdges" x="325.41" y="98.91" width="10.07" height="10.42" fill="#0070b4"/>
<rect shape-rendering="crispEdges" x="335.18" y="98.91" width="10.07" height="10.42" fill="#0070b4"/>
<rect shape-rendering="crispEdges" x="344.94" y="98.91" width="10.07" height="10.42" fill="#0070b4"/>
<rect shape-rendering="crispEdges" x="354.71" y="98.91" width="10.07" height="10.42" fill="#0070b4"/>
<rect shape-rendering="crispEdges" x="364.48" y="98.91" width="10.07" height="10.42" fill="#0070b4"/>
<rect shape-rendering="crispEdges" x="374.24" y="98.91" width="10.07" height="10.42" fill="#0070b4"/>
<rect shape-rendering="crispEdges" x="384.01" y="98.91" width="10.07" height="10.42" fill="#0070b4"/>
<rect shape-rendering="crispEdges" x="393.77" y="98.91" width="10.07" height="10.42" fill="#0070b4"/>
<rect shape-rendering="crispEdges" x="403.54" y="98.91" width="10.07" height="10.42" fill="#0070b4"/>
<rect shape-rendering="crispEdges" x="413.31" y="98.91" width="10.07" height="10.42" fill="#0070b4"/>
<rect shape-rendering="crispEdges" x="423.07" y="98.91" width="10.07" height="10.42" fill="#0070b4"/>
<rect shape-rendering="crispEdges" x="432.84" y="98.91" width="10.07" height="10.42" fill="#0070b4"/>
<rect shape-rendering="crispEdges" x="442.60" y="98.91" width="10.07" height="10.42" fill="#0070b4"/>
<rect shape-rendering="crispEdges" x="452.37" y="98.91" width="10.07" height="10.42" fill="#0070b4"/>
<rect shape-rendering="crispEdges" x="462.14" y="98.91" width="10.07" height="10.42" fill="#0070b4"/>
<rect shape-rendering="crispEdges" x="471.90" y="98.91" width="10.07" height="10.42" fill="#0070b4"/>
<rect shape-rendering="crispEdges" x="481.67" y="98.91" width="10.07" height="10.42" fill="#0070b4"/>
<rect shape-rendering="crispEdges" x="491.43" y="98.91" width="10.07" height="10.42" fill="#0070b4"/>
<rect shape-rendering="crispEdges" x="42.20" y="109.03" width="10.07" height="10.42" fill="#048d87"/>
<rect shape-rendering="crispEdges" x="51.97" y="109.03" width="10.07" height="10.42" fill="#058493"/>
<rect shape-rendering="crispEdges" x="61.73" y="109.03" width="10.07" height="10.42" fill="#058493"/>
<rect shape-rendering="crispEdges" x="71.50" y="109.03" width="10.07" height="10.42" fill="#048d87"/>
<rect shape-rendering="crispEdges" x="81.26" y="109.03" width="10.07" height="10.42" fill="#048d87"/>
<rect shape-rendering="crispEdges" x="91.03" y="109.03" width="10.07" height="10.42" fill="#048d87"/>
<rect shape-rendering="crispEdges" x="100.80" y="109.03" width="10.07" height="10.42" fill="#048d87"/>
<rect shape-rendering="crispEdges" x="110.56" y="109.03" width="10.07" height="10.42" fill="#048d87"/>
<rect shape-rendering="crispEdges" x="120.33" y="109.03" width="10.07" height="10.42" fill="#048d87"/>
<rect shape-rendering="crispEdges" x="130.09" y="109.03" width="10.07" height="10.42" fill="#048d87"/>
<rect shape-rendering="crispEdges" x="139.86" y="109.03" width="10.07" height="10.42" fill="#048d87"/>
<rect shape-rendering="crispEdges" x="149.63" y="109.03" width="10.07" height="10.42" fill="#048d87"/>
<rect shape-rendering="crispEdges" x="159.39" y="109.03" width="10.07" height="10.42" fill="#048d87"/>
<rect shape-rendering="crispEdges" x="169.16" y="109.03" width="10.07" height="10.42" fill="#048d87"/>
<rect shape-rendering="crispEdges" x="178.92" y="109.03" width="10.07" height="10.42" fill="#058493"/>
<rect shape-rendering="crispEdges" x="188.69" y="109.03" width="10.07" height="10.42" fill="#058493"/>
<rect shape-rendering="crispEdges" x="198.46" y="109.03" width="10.07" height="10.42" fill="#048d87"/>
<rect shape-rendering="crispEdges" x="208.22" y="109.03" width="10.07" height="10.42" fill="#048d87"/>
<rect shape-rendering="crispEdges" x="217.99" y="109.03" width="10.07" height="10.42" fill="#048d87"/>
<rect shape-rendering="crispEdges" x="227.75" y="109.03" width="10.07" height="10.42" fill="#058493"/>
<rect shape-rendering="crispEdges" x="237.52" y="109.03" width="10.07" height="10.42" fill="#058493"/>
<rect shape-rendering="crispEdges" x="247.29" y="109.03" width="10.07" height="10.42" fill="#058493"/>
<rect shape-rendering="crispEdges" x="257.05" y="109.03" width="10.07" height="10.42" fill="#058493"/>
<rect shape-rendering="crispEdges" x="266.82" y="109.03" width="10.07" height="10.42" fill="#047ba5"/>
<rect shape-rendering="crispEdges" x="276.58" y="109.03" width="10.07" height="10.42" fill="#047ba5"/>
<rect shape-rendering="crispEdges" x="286.35" y="109.03" width="10.07" height="10.42" fill="#0070b4"/>
<rect shape-rendering="crispEdges" x="296.11" y="109.03" width="10.07" height="10.42" fill="#0070b4"/>
<rect shape-rendering="crispEdges" x="305.88" y="109.03" width="10.07" height="10.42" fill="#0070b4"/>
<rect shape-rendering="crispEdges" x="315.65" y="109.03" width="10.07" height="10.42" fill="#0070b4"/>
<rect shape-rendering="crispEdges" x="325.41" y="109.03" width="10.07" height="10.42" fill="#0070b4"/>
<rect shape-rendering="crispEdges" x="335.18" y="109.03" width="10.07" height="10.42" fill="#0070b4"/>
<rect shape-rendering="crispEdges" x="344.94" y="109.03" width="10.07" height="10.42" fill="#0070b4"/>
<rect shape-rendering="crispEdges" x="354.71" y="109.03" width="10.07" height="10.42" fill="#0070b4"/>
<rect shape-rendering="crispEdges" x="364.48" y="109.03" width="10.07" height="10.42" fill="#0070b4"/>
<rect shape-rendering="crispEdges" x="374.24" y="109.03" width="10.07" height="10.42" fill="#0070b4"/>
<rect shape-rendering="crispEdges" x="384.01" y="109.03" width="10.07" height="10.42" fill="#0070b4"/>
<rect shape-rendering="crispEdges" x="393.77" y="109.03" width="10.07" height="10.42" fill="#0070b4"/>
<rect shape-rendering="crispEdges" x="403.54" y="109.03" width="10.07" height="10.42" fill="#0070b4"/>
<rect shape-rendering="crispEdges" x="413.31" y="109.03" width="10.07" height="10.42" fill="#0070b4"/>
<rect shape-rendering="crispEdges" x="423.07" y="109.03" width="10.07" height="10.42" fill="#0070b4"/>
<rect shape-rendering="crispEdges" x="432.84" y="109.03" width="10.07" height="10.42" fill="#0070b4"/>
<rect shape-rendering="crispEdges" x="442.60" y="109.03" width="10.07" height="10.42" fill="#0070b4"/>
<rect shape-rendering="crispEdges" x="452.37" y="109.03" width="10.07" height="10.42" fill="#0070b4"/>
<rect shape-rendering="crispEdges" x="462.14" y="109.03" width="10.07" height="10.42" fill="#0070b4"/>
<rect shape-rendering="crispEdges" x="471.90" y="109.03" width="10.07" height="10.42" fill="#0070b4"/>
<rect shape-rendering="crispEdges" x="481.67" y="109.03" width="10.07" height="10.42" fill="#0070b4"/>
<rect shape-rendering="crispEdges" x="491.43" y="109.03" width="10.07" height="10.42" fill="#0070b4"/>
<rect shape-rendering="crispEdges" x="42.20" y="119.15" width="10.07" height="10.42" fill="#048d87"/>
<rect shape-rendering="crispEdges" x="51.97" y="119.15" width="10.07" height="10.42" fill="#048d87"/>
<rect shape-rendering="crispEdges" x="61.73" y="119.15" width="10.07" height="10.42" fill="#048d87"/>
<rect shape-rendering="crispEdges" x="71.50" y="119.15" width="10.07" height="10.42" fill="#048d87"/>
<rect shape-rendering="crispEdges" x="81.26" y="119.15" width="10.07" height="10.42" fill="#048d87"/>
<rect shape-rendering="crispEdges" x="91.03" y="119.15" width="10.07" height="10.42" fill="#048d87"/>
<rect shape-rendering="crispEdges" x="100.80" y="119.15" width="10.07" height="10.42" fill="#048d87"/>
<rect shape-rendering="crispEdges" x="110.56" y="119.15" width="10.07" height="10.42" fill="#048d87"/>
<rect shape-rendering="crispEdges" x="120.33" y="119.15" width="10.07" height="10.42" fill="#048d87"/>
<rect shape-rendering="crispEdges" x="130.09" y="119.15" width="10.07" height="10.42" fill="#048d87"/>
<rect shape-rendering="crispEdges" x="139.86" y="119.15" width="10.07" height="10.42" fill="#048d87"/>
<rect shape-rendering="crispEdges" x="149.63" y="119.15" width="10.07" height="10.42" fill="#048d87"/>
<rect shape-rendering="crispEdges" x="159.39" y="119.15" width="10.07" height="10.42" fill="#048d87"/>
<rect shape-rendering="crispEdges" x="169.16" y="119.15" width="10.07" height="10.42" fill="#058493"/>
<rect shape-rendering="crispEdges" x="178.92" y="119.15" width="10.07" height="10.42" fill="#047ba5"/>
<rect shape-rendering="crispEdges" x="188.69" y="119.15" width="10.07" height="10.42" fill="#048d87"/>
<rect shape-rendering="crispEdges" x="198.46" y="119.15" width="10.07" height="10.42" fill="#048d87"/>
<rect shape-rendering="crispEdges" x="208.22" y="119.15" width="10.07" height="10.42" fill="#048d87"/>
<rect shape-rendering="crispEdges" x="217.99" y="119.15" width="10.07" height="10.42" fill="#048d87"/>
<rect shape-rendering="crispEdges" x="227.75" y="119.15" width="10.07" height="10.42" fill="#058493"/>
<rect shape-rendering="crispEdges" x="237.52" y="119.15" width="10.07" height="10.42" fill="#058493"/>
<rect shape-rendering="crispEdges" x="247.29" y="119.15" width="10.07" height="10.42" fill="#058493"/>
<rect shape-rendering="crispEdges" x="257.05" y="119.15" width="10.07" height="10.42" fill="#047ba5"/>
<rect shape-rendering="crispEdges" x="266.82" y="119.15" width="10.07" height="10.42" fill="#047ba5"/>
<rect shape-rendering="crispEdges" x="276.58" y="119.15" width="10.07" height="10.42" fill="#047ba5"/>
<rect shape-rendering="crispEdges" x="286.35" y="119.15" width="10.07" height="10.42" fill="#0070b4"/>
<rect shape-rendering="crispEdges" x="296.11" y="119.15" width="10.07" height="10.42" fill="#0070b4"/>
<rect shape-rendering="crispEdges" x="305.88" y="119.15" width="10.07" height="10.42" fill="#0070b4"/>
<rect shape-rendering="crispEdges" x="315.65" y="119.15" width="10.07" height="10.42" fill="#0070b4"/>
<rect shape-rendering="crispEdges" x="325.41" y="119.15" width="10.07" height="10.42" fill="#0070b4"/>
<rect shape-rendering="crispEdges" x="335.18" y="119.15" width="10.07" height="10.42" fill="#0070b4"/>
<rect shape-rendering="crispEdges" x="344.94" y="119.15" width="10.07" height="10.42" fill="#0070b4"/>
<rect shape-rendering="crispEdges" x="354.71" y="119.15" width="10.07" height="10.42" fill="#0070b4"/>
<rect shape-rendering="crispEdges" x="364.48" y="119.15" width="10.07" height="10.42" fill="#0070b4"/>
<rect shape-rendering="crispEdges" x="374.24" y="119.15" width="10.07" height="10.42" fill="#0070b4"/>
<rect shape-rendering="crispEdges" x="384.01" y="119.15" width="10.07" height="10.42" fill="#0070b4"/>
<rect shape-rendering="crispEdges" x="393.77" y="119.15" width="10.07" height="10.42" fill="#0070b4"/>
<rect shape-rendering="crispEdges" x="403.54" y="119.15" width="10.07" height="10.42" fill="#0070b4"/>
<rect shape-rendering="crispEdges" x="413.31" y="119.15" width="10.07" height="10.42" fill="#0070b4"/>
<rect shape-rendering="crispEdges" x="423.07" y="119.15" width="10.07" height="10.42" fill="#0070b4"/>
<rect shape-rendering="crispEdges" x="432.84" y="119.15" width="10.07" height="10.42" fill="#0070b4"/>
<rect shape-rendering="crispEdges" x="442.60" y="119.15" width="10.07" height="10.42" fill="#0070b4"/>
<rect shape-rendering="crispEdges" x="452.37" y="119.15" width="10.07" height="10.42" fill="#0070b4"/>
<rect shape-rendering="crispEdges" x="462.14" y="119.15" width="10.07" height="10.42" fill="#0070b4"/>
<rect shape-rendering="crispEdges" x="471.90" y="119.15" width="10.07" height="10.42" fill="#0070b4"/>
<rect shape-rendering="crispEdges" x="481.67" y="119.15" width="10.07" height="10.42" fill="#0070b4"/>
<rect shape-rendering="crispEdges" x="491.43" y="119.15" width="10.07" height="10.42" fill="#0070b4"/>
<rect shape-rendering="crispEdges" x="42.20" y="129.27" width="10.07" height="10.42" fill="#019876"/>
<rect shape-rendering="crispEdges" x="51.97" y="129.27" width="10.07" height="10.42" fill="#048d87"/>
<rect shape-rendering="crispEdges" x="61.73" y="129.27" width="10.07" height="10.42" fill="#048d87"/>
<rect shape-rendering="crispEdges" x="71.50" y="129.27" width="10.07" height="10.42" fill="#048d87"/>
<rect shape-rendering="crispEdges" x="81.26" y="129.27" width="10.07" height="10.42" fill="#048d87"/>
<rect shape-rendering="crispEdges" x="91.03" y="129.27" width="10.07" height="10.42" fill="#048d87"/>
<rect shape-rendering="crispEdges" x="100.80" y="129.27" width="10.07" height="10.42" fill="#048d87"/>
<rect shape-rendering="crispEdges" x="110.56" y="129.27" width="10.07" height="10.42" fill="#048d87"/>
<rect shape-rendering="crispEdges" x="120.33" y="129.27" width="10.07" height="10.42" fill="#048d87"/>
<rect shape-rendering="crispEdges" x="130.09" y="129.27" width="10.07" height="10.42" fill="#019876"/>
<rect shape-rendering="crispEdges" x="139.86" y="129.27" width="10.07" height="10.42" fill="#048d87"/>
<rect shape-rendering="crispEdges" x="149.63" y="129.27" width="10.07" height="10.42" fill="#048d87"/>
<rect shape-rendering="crispEdges" x="159.39" y="129.27" width="10.07" height="10.42" fill="#048d87"/>
<rect shape-rendering="crispEdges" x="169.16" y="129.27" width="10.07" height="10.42" fill="#047ba5"/>
<rect shape-rendering="crispEdges" x="178.92" y="129.27" width="10.07" height="10.42" fill="#048d87"/>
<rect shape-rendering="crispEdges" x="188.69" y="129.27" width="10.07" height="10.42" fill="#048d87"/>
<rect shape-rendering="crispEdges" x="198.46" y="129.27" width="10.07" height="10.42" fill="#048d87"/>
<rect shape-rendering="crispEdges" x="208.22" y="129.27" width="10.07" height="10.42" fill="#048d87"/>
<rect shape-rendering="crispEdges" x="217.99" y="129.27" width="10.07" height="10.42" fill="#058493"/>
<rect shape-rendering="crispEdges" x="227.75" y="129.27" width="10.07" height="10.42" fill="#058493"/>
<rect shape-rendering="crispEdges" x="237.52" y="129.27" width="10.07" height="10.42" fill="#058493"/>
<rect shape-rendering="crispEdges" x="247.29" y="129.27" width="10.07" height="10.42" fill="#058493"/>
<rect shape-rendering="crispEdges" x="257.05" y="129.27" width="10.07" height="10.42" fill="#058493"/>
<rect shape-rendering="crispEdges" x="266.82" y="129.27" width="10.07" height="10.42" fill="#047ba5"/>
<rect shape-rendering="crispEdges" x="276.58" y="129.27" width="10.07" height="10.42" fill="#047ba5"/>
<rect shape-rendering="crispEdges" x="286.35" y="129.27" width="10.07" height="10.42" fill="#0070b4"/>
<rect shape-rendering="crispEdges" x="296.11" y="129.27" width="10.07" height="10.42" fill="#0070b4"/>
<rect shape-rendering="crispEdges" x="305.88" y="129.27" width="10.07" height="10.42" fill="#0070b4"/>
<rect shape-rendering="crispEdges" x="315.65" y="129.27" width="10.07" height="10.42" fill="#0070b4"/>
<rect shape-rendering="crispEdges" x="325.41" y="129.27" width="10.07" height="10.42" fill="#0070b4"/>
<rect shape-rendering="crispEdges" x="335.18" y="129.27" width="10.07" height="10.42" fill="#0070b4"/>
<rect shape-rendering="crispEdges" x="344.94" y="129.27" width="10.07" height="10.42" fill="#0070b4"/>
<rect shape-rendering="crispEdges" x="354.71" y="129.27" width="10.07" height="10.42" fill="#0070b4"/>
<rect shape-rendering="crispEdges" x="364.48" y="129.27" width="10.07" height="10.42" fill="#0070b4"/>
<rect shape-rendering="crispEdges" x="374.24" y="129.27" width="10.07" height="10.42" fill="#0070b4"/>
<rect shape-rendering="crispEdges" x="384.01" y="129.27" width="10.07" height="10.42" fill="#0070b4"/>
<rect shape-rendering="crispEdges" x="393.77" y="129.27" width="10.07" height="10.42" fill="#0070b4"/>
<rect shape-rendering="crispEdges" x="403.54" y="129.27" width="10.07" height="10.42" fill="#0070b4"/>
<rect shape-rendering="crispEdges" x="413.31" y="129.27" width="10.07" height="10.42" fill="#0070b4"/>
<rect shape-rendering="crispEdges" x="423.07" y="129.27" width="10.07" height="10.42" fill="#0070b4"/>
<rect shape-rendering="crispEdges" x="432.84" y="129.27" width="10.07" height="10.42" fill="#0070b4"/>
<rect shape-rendering="crispEdges" x="442.60" y="129.27" width="10.07" height="10.42" fill="#0070b4"/>
<rect shape-rendering="crispEdges" x="452.37" y="129.27" width="10.07" height="10.42" fill="#0070b4"/>
<rect shape-rendering="crispEdges" x="462.14" y="129.27" width="10.07" height="10.42" fill="#0070b4"/>
<rect shape-rendering="crispEdges" x="471.90" y="129.27" width="10.07" height="10.42" fill="#0070b4"/>
<rect shape-rendering="crispEdges" x="481.67" y="129.27" width="10.07" height="10.42" fill="#0070b4"/>
<rect shape-rendering="crispEdges" x="491.43" y="129.27" width="10.07" height="10.42" fill="#0070b4"/>
<rect shape-rendering="crispEdges" x="42.20" y="139.39" width="10.07" height="10.42" fill="#048f84"/>
<rect shape-rendering="crispEdges" x="51.97" y="139.39" width="10.07" height="10.42" fill="#058395"/>
<rect shape-rendering="crispEdges" x="61.73" y="139.39" width="10.07" height="10.42" fill="#048f84"/>
<rect shape-rendering="crispEdges" x="71.50" y="139.39" width="10.07" height="10.42" fill="#058395"/>
<rect shape-rendering="crispEdges" x="81.26" y="139.39" width="10.07" height="10.42" fill="#019876"/>
<rect shape-rendering="crispEdges" x="91.03" y="139.39" width="10.07" height="10.42" fill="#019876"/>
<rect shape-rendering="crispEdges" x="100.80" y="139.39" width="10.07" height="10.42" fill="#019876"/>
<rect shape-rendering="crispEdges" x="110.56" y="139.39" width="10.07" height="10.42" fill="#019876"/>
<rect shape-rendering="crispEdges" x="120.33" y="139.39" width="10.07" height="10.42" fill="#019876"/>
<rect shape-rendering="crispEdges" x="130.09" y="139.39" width="10.07" height="10.42" fill="#058395"/>
<rect shape-rendering="crispEdges" x="139.86" y="139.39" width="10.07" height="10.42" fill="#058395"/>
<rect shape-rendering="crispEdges" x="149.63" y="139.39" width="10.07" height="10.42" fill="#058395"/>
<rect shape-rendering="crispEdges" x="159.39" y="139.39" width="10.07" height="10.42" fill="#047ba5"/>
<rect shape-rendering="crispEdges" x="169.16" y="139.39" width="10.07" height="10.42" fill="#058395"/>
<rect shape-rendering="crispEdges" x="178.92" y="139.39" width="10.07" height="10.42" fill="#058395"/>
<rect shape-rendering="crispEdges" x="188.69" y="139.39" width="10.07" height="10.42" fill="#058395"/>
<rect shape-rendering="crispEdges" x="198.46" y="139.39" width="10.07" height="10.42" fill="#048f84"/>
<rect shape-rendering="crispEdges" x="208.22" y="139.39" width="10.07" height="10.42" fill="#048f84"/>
<rect shape-rendering="crispEdges" x="217.99" y="139.39" width="10.07" height="10.42" fill="#048f84"/>
<rect shape-rendering="crispEdges" x="227.75" y="139.39" width="10.07" height="10.42" fill="#048f84"/>
<rect shape-rendering="crispEdges" x="237.52" y="139.39" width="10.07" height="10.42" fill="#058395"/>
<rect shape-rendering="crispEdges" x="247.29" y="139.39" width="10.07" height="10.42" fill="#058395"/>
<rect shape-rendering="crispEdges" x="257.05" y="139.39" width="10.07" height="10.42" fill="#058395"/>
<rect shape-rendering="crispEdges" x="266.82" y="139.39" width="10.07" height="10.42" fill="#047ba5"/>
<rect shape-rendering="crispEdges" x="276.58" y="139.39" width="10.07" height="10.42" fill="#058395"/>
<rect shape-rendering="crispEdges" x="286.35" y="139.39" width="10.07" height="10.42" fill="#047ba5"/>
<rect shape-rendering="crispEdges" x="296.11" y="139.39" width="10.07" height="10.42" fill="#047ba5"/>
<rect shape-rendering="crispEdges" x="305.88" y="139.39" width="10.07" height="10.42" fill="#047ba5"/>
<rect shape-rendering="crispEdges" x="315.65" y="139.39" width="10.07" height="10.42" fill="#0070b4"/>
<rect shape-rendering="crispEdges" x="325.41" y="139.39" width="10.07" height="10.42" fill="#047ba5"/>
<rect shape-rendering="crispEdges" x="335.18" y="139.39" width="10.07" height="10.42" fill="#047ba5"/>
<rect shape-rendering="crispEdges" x="344.94" y="139.39" width="10.07" height="10.42" fill="#047ba5"/>
<rect shape-rendering="crispEdges" x="354.71" y="139.39" width="10.07" height="10.42" fill="#047ba5"/>
<rect shape-rendering="crispEdges" x="364.48" y="139.39" width="10.07" height="10.42" fill="#0070b4"/>
<rect shape-rendering="crispEdges" x="374.24" y="139.39" width="10.07" height="10.42" fill="#0070b4"/>
<rect shape-rendering="crispEdges" x="384.01" y="139.39" width="10.07" height="10.42" fill="#0070b4"/>
<rect shape-rendering="crispEdges" x="393.77" y="139.39" width="10.07" height="10.42" fill="#0070b4"/>
<rect shape-rendering="crispEdges" x="403.54" y="139.39" width="10.07" height="10.42" fill="#0070b4"/>
<rect shape-rendering="crispEdges" x="413.31" y="139.39" width="10.07" height="10.42" fill="#0070b4"/>
<rect shape-rendering="crispEdges" x="423.07" y="139.39" width="10.07" height="10.42" fill="#0070b4"/>
<rect shape-rendering="crispEdges" x="432.84" y="139.39" width="10.07" height="10.42" fill="#0070b4"/>
<rect shape-rendering="crispEdges" x="442.60" y="139.39" width="10.07" height="10.42" fill="#0070b4"/>
<rect shape-rendering="crispEdges" x="452.37" y="139.39" width="10.07" height="10.42" fill="#0070b4"/>
<rect shape-rendering="crispEdges" x="462.14" y="139.39" width="10.07" height="10.42" fill="#0070b4"/>
<rect shape-rendering="crispEdges" x="471.90" y="139.39" width="10.07" height="10.42" fill="#0070b4"/>
<rect shape-rendering="crispEdges" x="481.67" y="139.39" width="10.07" height="10.42" fill="#0070b4"/>
<rect shape-rendering="crispEdges" x="491.43" y="139.39" width="10.07" height="10.42" fill="#047ba5"/>
<rect shape-rendering="crispEdges" x="42.20" y="149.51" width="10.07" height="10.42" fill="#058395"/>
<rect shape-rendering="crispEdges" x="51.97" y="149.51" width="10.07" height="10.42" fill="#019876"/>
<rect shape-rendering="crispEdges" x="61.73" y="149.51" width="10.07" height="10.42" fill="#019876"/>
<rect shape-rendering="crispEdges" x="71.50" y="149.51" width="10.07" height="10.42" fill="#058395"/>
<rect shape-rendering="crispEdges" x="81.26" y="149.51" width="10.07" height="10.42" fill="#019876"/>
<rect shape-rendering="crispEdges" x="91.03" y="149.51" width="10.07" height="10.42" fill="#019876"/>
<rect shape-rendering="crispEdges" x="100.80" y="149.51" width="10.07" height="10.42" fill="#019876"/>
<rect shape-rendering="crispEdges" x="110.56" y="149.51" width="10.07" height="10.42" fill="#019876"/>
<rect shape-rendering="crispEdges" x="120.33" y="149.51" width="10.07" height="10.42" fill="#019876"/>
<rect shape-rendering="crispEdges" x="130.09" y="149.51" width="10.07" height="10.42" fill="#019876"/>
<rect shape-rendering="crispEdges" x="139.86" y="149.51" width="10.07" height="10.42" fill="#058395"/>
<rect shape-rendering="crispEdges" x="149.63" y="149.51" width="10.07" height="10.42" fill="#058395"/>
<rect shape-rendering="crispEdges" x="159.39" y="149.51" width="10.07" height="10.42" fill="#058395"/>
<rect shape-rendering="crispEdges" x="169.16" y="149.51" width="10.07" height="10.42" fill="#058395"/>
<rect shape-rendering="crispEdges" x="178.92" y="149.51" width="10.07" height="10.42" fill="#058395"/>
<rect shape-rendering="crispEdges" x="188.69" y="149.51" width="10.07" height="10.42" fill="#058395"/>
<rect shape-rendering="crispEdges" x="198.46" y="149.51" width="10.07" height="10.42" fill="#048f84"/>
<rect shape-rendering="crispEdges" x="208.22" y="149.51" width="10.07" height="10.42" fill="#048f84"/>
<rect shape-rendering="crispEdges" x="217.99" y="149.51" width="10.07" height="10.42" fill="#048f84"/>
<rect shape-rendering="crispEdges" x="227.75" y="149.51" width="10.07" height="10.42" fill="#058395"/>
<rect shape-rendering="crispEdges" x="237.52" y="149.51" width="10.07" height="10.42" fill="#058395"/>
<rect shape-rendering="crispEdges" x="247.29" y="149.51" width="10.07" height="10.42" fill="#058395"/>
<rect shape-rendering="crispEdges" x="257.05" y="149.51" width="10.07" height="10.42" fill="#058395"/>
<rect shape-rendering="crispEdges" x="266.82" y="149.51" width="10.07" height="10.42" fill="#058395"/>
<rect shape-rendering="crispEdges" x="276.58" y="149.51" width="10.07" height="10.42" fill="#058395"/>
<rect shape-rendering="crispEdges" x="286.35" y="149.51" width="10.07" height="10.42" fill="#058395"/>
<rect shape-rendering="crispEdges" x="296.11" y="149.51" width="10.07" height="10.42" fill="#058395"/>
<rect shape-rendering="crispEdges" x="305.88" y="149.51" width="10.07" height="10.42" fill="#058395"/>
<rect shape-rendering="crispEdges" x="315.65" y="149.51" width="10.07" height="10.42" fill="#047ba5"/>
<rect shape-rendering="crispEdges" x="325.41" y="149.51" width="10.07" height="10.42" fill="#047ba5"/>
<rect shape-rendering="crispEdges" x="335.18" y="149.51" width="10.07" height="10.42" fill="#0070b4"/>
<rect shape-rendering="crispEdges" x="344.94" y="149.51" width="10.07" height="10.42" fill="#0070b4"/>
<rect shape-rendering="crispEdges" x="354.71" y="149.51" width="10.07" height="10.42" fill="#0070b4"/>
<rect shape-rendering="crispEdges" x="364.48" y="149.51" width="10.07" height="10.42" fill="#0070b4"/>
<rect shape-rendering="crispEdges" x="374.24" y="149.51" width="10.07" height="10.42" fill="#0070b4"/>
<rect shape-rendering="crispEdges" x="384.01" y="149.51" width="10.07" height="10.42" fill="#0070b4"/>
<rect shape-rendering="crispEdges" x="393.77" y="149.51" width="10.07" height="10.42" fill="#047ba5"/>
<rect shape-rendering="crispEdges" x="403.54" y="149.51" width="10.07" height="10.42" fill="#0070b4"/>
<rect shape-rendering="crispEdges" x="413.31" y="149.51" width="10.07" height="10.42" fill="#047ba5"/>
<rect shape-rendering="crispEdges" x="423.07" y="149.51" width="10.07" height="10.42" fill="#047ba5"/>
<rect shape-rendering="crispEdges" x="432.84" y="149.51" width="10.07" height="10.42" fill="#047ba5"/>
<rect shape-rendering="crispEdges" x="442.60" y="149.51" width="10.07" height="10.42" fill="#047ba5"/>
<rect shape-rendering="crispEdges" x="452.37" y="149.51" width="10.07" height="10.42" fill="#0070b4"/>
<rect shape-rendering="crispEdges" x="462.14" y="149.51" width="10.07" height="10.42" fill="#0070b4"/>
<rect shape-rendering="crispEdges" x="471.90" y="149.51" width="10.07" height="10.42" fill="#047ba5"/>
<rect shape-rendering="crispEdges" x="481.67" y="149.51" width="10.07" height="10.42" fill="#047ba5"/>
<rect shape-rendering="crispEdges" x="491.43" y="149.51" width="10.07" height="10.42" fill="#047ba5"/>
<rect shape-rendering="crispEdges" x="42.20" y="159.63" width="10.07" height="10.42" fill="#019876"/>
<rect shape-rendering="crispEdges" x="51.97" y="159.63" width="10.07" height="10.42" fill="#019876"/>
<rect shape-rendering="crispEdges" x="61.73" y="159.63" width="10.07" height="10.42" fill="#019876"/>
<rect shape-rendering="crispEdges" x="71.50" y="159.63" width="10.07" height="10.42" fill="#019876"/>
<rect shape-rendering="crispEdges" x="81.26" y="159.63" width="10.07" height="10.42" fill="#019876"/>
<rect shape-rendering="crispEdges" x="91.03" y="159.63" width="10.07" height="10.42" fill="#019876"/>
<rect shape-rendering="crispEdges" x="100.80" y="159.63" width="10.07" height="10.42" fill="#019876"/>
<rect shape-rendering="crispEdges" x="110.56" y="159.63" width="10.07" height="10.42" fill="#019876"/>
<rect shape-rendering="crispEdges" x="120.33" y="159.63" width="10.07" height="10.42" fill="#019876"/>
<rect shape-rendering="crispEdges" x="130.09" y="159.63" width="10.07" height="10.42" fill="#019876"/>
<rect shape-rendering="crispEdges" x="139.86" y="159.63" width="10.07" height="10.42" fill="#019876"/>
<rect shape-rendering="crispEdges" x="149.63" y="159.63" width="10.07" height="10.42" fill="#058395"/>
<rect shape-rendering="crispEdges" x="159.39" y="159.63" width="10.07" height="10.42" fill="#058395"/>
<rect shape-rendering="crispEdges" x="169.16" y="159.63" width="10.07" height="10.42" fill="#058395"/>
<rect shape-rendering="crispEdges" x="178.92" y="159.63" width="10.07" height="10.42" fill="#058395"/>
<rect shape-rendering="crispEdges" x="188.69" y="159.63" width="10.07" height="10.42" fill="#047ba5"/>
<rect shape-rendering="crispEdges" x="198.46" y="159.63" width="10.07" height="10.42" fill="#048f84"/>
<rect shape-rendering="crispEdges" x="208.22" y="159.63" width="10.07" height="10.42" fill="#048f84"/>
<rect shape-rendering="crispEdges" x="217.99" y="159.63" width="10.07" height="10.42" fill="#058395"/>
<rect shape-rendering="crispEdges" x="227.75" y="159.63" width="10.07" height="10.42" fill="#058395"/>
<rect shape-rendering="crispEdges" x="237.52" y="159.63" width="10.07" height="10.42" fill="#058395"/>
<rect shape-rendering="crispEdges" x="247.29" y="159.63" width="10.07" height="10.42" fill="#058395"/>
<rect shape-rendering="crispEdges" x="257.05" y="159.63" width="10.07" height="10.42" fill="#058395"/>
<rect shape-rendering="crispEdges" x="266.82" y="159.63" width="10.07" height="10.42" fill="#058395"/>
<rect shape-rendering="crispEdges" x="276.58" y="159.63" width="10.07" height="10.42" fill="#058395"/>
<rect shape-rendering="crispEdges" x="286.35" y="159.63" width="10.07" height="10.42" fill="#058395"/>
<rect shape-rendering="crispEdges" x="296.11" y="159.63" width="10.07" height="10.42" fill="#058395"/>
<rect shape-rendering="crispEdges" x="305.88" y="159.63" width="10.07" height="10.42" fill="#058395"/>
<rect shape-rendering="crispEdges" x="315.65" y="159.63" width="10.07" height="10.42" fill="#047ba5"/>
<rect shape-rendering="crispEdges" x="325.41" y="159.63" width="10.07" height="10.42" fill="#0070b4"/>
<rect shape-rendering="crispEdges" x="335.18" y="159.63" width="10.07" height="10.42" fill="#0070b4"/>
<rect shape-rendering="crispEdges" x="344.94" y="159.63" width="10.07" height="10.42" fill="#0070b4"/>
<rect shape-rendering="crispEdges" x="354.71" y="159.63" width="10.07" height="10.42" fill="#0070b4"/>
<rect shape-rendering="crispEdges" x="364.48" y="159.63" width="10.07" height="10.42" fill="#0070b4"/>
<rect shape-rendering="crispEdges" x="374.24" y="159.63" width="10.07" height="10.42" fill="#0070b4"/>
<rect shape-rendering="crispEdges" x="384.01" y="159.63" width="10.07" height="10.42" fill="#0070b4"/>
<rect shape-rendering="crispEdges" x="393.77" y="159.63" width="10.07" height="10.42" fill="#047ba5"/>
<rect shape-rendering="crispEdges" x="403.54" y="159.63" width="10.07" height="10.42" fill="#047ba5"/>
<rect shape-rendering="crispEdges" x="413.31" y="159.63" width="10.07" height="10.42" fill="#047ba5"/>
<rect shape-rendering="crispEdges" x="423.07" y="159.63" width="10.07" height="10.42" fill="#047ba5"/>
<rect shape-rendering="crispEdges" x="432.84" y="159.63" width="10.07" height="10.42" fill="#047ba5"/>
<rect shape-rendering="crispEdges" x="442.60" y="159.63" width="10.07" height="10.42" fill="#047ba5"/>
<rect shape-rendering="crispEdges" x="452.37" y="159.63" width="10.07" height="10.42" fill="#047ba5"/>
<rect shape-rendering="crispEdges" x="462.14" y="159.63" width="10.07" height="10.42" fill="#047ba5"/>
<rect shape-rendering="crispEdges" x="471.90" y="159.63" width="10.07" height="10.42" fill="#047ba5"/>
<rect shape-rendering="crispEdges" x="481.67" y="159.63" width="10.07" height="10.42" fill="#047ba5"/>
<rect shape-rendering="crispEdges" x="491.43" y="159.63" width="10.07" height="10.42" fill="#047ba5"/>
<rect shape-rendering="crispEdges" x="42.20" y="169.75" width="10.07" height="10.42" fill="#019876"/>
<rect shape-rendering="crispEdges" x="51.97" y="169.75" width="10.07" height="10.42" fill="#019876"/>
<rect shape-rendering="crispEdges" x="61.73" y="169.75" width="10.07" height="10.42" fill="#019876"/>
<rect shape-rendering="crispEdges" x="71.50" y="169.75" width="10.07" height="10.42" fill="#019876"/>
<rect shape-rendering="crispEdges" x="81.26" y="169.75" width="10.07" height="10.42" fill="#019876"/>
<rect shape-rendering="crispEdges" x="91.03" y="169.75" width="10.07" height="10.42" fill="#019876"/>
<rect shape-rendering="crispEdges" x="100.80" y="169.75" width="10.07" height="10.42" fill="#019876"/>
<rect shape-rendering="crispEdges" x="110.56" y="169.75" width="10.07" height="10.42" fill="#019876"/>
<rect shape-rendering="crispEdges" x="120.33" y="169.75" width="10.07" height="10.42" fill="#019876"/>
<rect shape-rendering="crispEdges" x="130.09" y="169.75" width="10.07" height="10.42" fill="#019876"/>
<rect shape-rendering="crispEdges" x="139.86" y="169.75" width="10.07" height="10.42" fill="#058395"/>
<rect shape-rendering="crispEdges" x="149.63" y="169.75" width="10.07" height="10.42" fill="#058395"/>
<rect shape-rendering="crispEdges" x="159.39" y="169.75" width="10.07" height="10.42" fill="#058395"/>
<rect shape-rendering="crispEdges" x="169.16" y="169.75" width="10.07" height="10.42" fill="#058395"/>
<rect shape-rendering="crispEdges" x="178.92" y="169.75" width="10.07" height="10.42" fill="#058395"/>
<rect shape-rendering="crispEdges" x="188.69" y="169.75" width="10.07" height="10.42" fill="#058395"/>
<rect shape-rendering="crispEdges" x="198.46" y="169.75" width="10.07" height="10.42" fill="#058395"/>
<rect shape-rendering="crispEdges" x="208.22" y="169.75" width="10.07" height="10.42" fill="#048f84"/>
<rect shape-rendering="crispEdges" x="217.99" y="169.75" width="10.07" height="10.42" fill="#058395"/>
<rect shape-rendering="crispEdges" x="227.75" y="169.75" width="10.07" height="10.42" fill="#058395"/>
<rect shape-rendering="crispEdges" x="237.52" y="169.75" width="10.07" height="10.42" fill="#058395"/>
<rect shape-rendering="crispEdges" x="247.29" y="169.75" width="10.07" height="10.42" fill="#058395"/>
<rect shape-rendering="crispEdges" x="257.05" y="169.75" width="10.07" height="10.42" fill="#058395"/>
<rect shape-rendering="crispEdges" x="266.82" y="169.75" width="10.07" height="10.42" fill="#058395"/>
<rect shape-rendering="crispEdges" x="276.58" y="169.75" width="10.07" height="10.42" fill="#058395"/>
<rect shape-rendering="crispEdges" x="286.35" y="169.75" width="10.07" height="10.42" fill="#058395"/>
<rect shape-rendering="crispEdges" x="296.11" y="169.75" width="10.07" height="10.42" fill="#058395"/>
<rect shape-rendering="crispEdges" x="305.88" y="169.75" width="10.07" height="10.42" fill="#058395"/>
<rect shape-rendering="crispEdges" x="315.65" y="169.75" width="10.07" height="10.42" fill="#058395"/>
<rect shape-rendering="crispEdges" x="325.41" y="169.75" width="10.07" height="10.42" fill="#058395"/>
<rect shape-rendering="crispEdges" x="335.18" y="169.75" width="10.07" height="10.42" fill="#058395"/>
<rect shape-rendering="crispEdges" x="344.94" y="169.75" width="10.07" height="10.42" fill="#047ba5"/>
<rect shape-rendering="crispEdges" x="354.71" y="169.75" width="10.07" height="10.42" fill="#0070b4"/>
<rect shape-rendering="crispEdges" x="364.48" y="169.75" width="10.07" height="10.42" fill="#0070b4"/>
<rect shape-rendering="crispEdges" x="374.24" y="169.75" width="10.07" height="10.42" fill="#0070b4"/>
<rect shape-rendering="crispEdges" x="384.01" y="169.75" width="10.07" height="10.42" fill="#0070b4"/>
<rect shape-rendering="crispEdges" x="393.77" y="169.75" width="10.07" height="10.42" fill="#047ba5"/>
<rect shape-rendering="crispEdges" x="403.54" y="169.75" width="10.07" height="10.42" fill="#047ba5"/>
<rect shape-rendering="crispEdges" x="413.31" y="169.75" width="10.07" height="10.42" fill="#047ba5"/>
<rect shape-rendering="crispEdges" x="423.07" y="169.75" width="10.07" height="10.42" fill="#047ba5"/>
<rect shape-rendering="crispEdges" x="432.84" y="169.75" width="10.07" height="10.42" fill="#047ba5"/>
<rect shape-rendering="crispEdges" x="442.60" y="169.75" width="10.07" height="10.42" fill="#047ba5"/>
<rect shape-rendering="crispEdges" x="452.37" y="169.75" width="10.07" height="10.42" fill="#047ba5"/>
<rect shape-rendering="crispEdges" x="462.14" y="169.75" width="10.07" height="10.42" fill="#047ba5"/>
<rect shape-rendering="crispEdges" x="471.90" y="169.75" width="10.07" height="10.42" fill="#047ba5"/>
<rect shape-rendering="crispEdges" x="481.67" y="169.75" width="10.07" height="10.42" fill="#047ba5"/>
<rect shape-rendering="crispEdges" x="491.43" y="169.75" width="10.07" height="10.42" fill="#047ba5"/>
<rect shape-rendering="crispEdges" x="42.20" y="179.86" width="10.07" height="10.42" fill="#019876"/>
<rect shape-rendering="crispEdges" x="51.97" y="179.86" width="10.07" height="10.42" fill="#019876"/>
<rect shape-rendering="crispEdges" x="61.73" y="179.86" width="10.07" height="10.42" fill="#40aa66"/>
<rect shape-rendering="crispEdges" x="71.50" y="179.86" width="10.07" height="10.42" fill="#019876"/>
<rect shape-rendering="crispEdges" x="81.26" y="179.86" width="10.07" height="10.42" fill="#019876"/>
<rect shape-rendering="crispEdges" x="91.03" y="179.86" width="10.07" height="10.42" fill="#019876"/>
<rect shape-rendering="crispEdges" x="100.80" y="179.86" width="10.07" height="10.42" fill="#019876"/>
<rect shape-rendering="crispEdges" x="110.56" y="179.86" width="10.07" height="10.42" fill="#019876"/>
<rect shape-rendering="crispEdges" x="120.33" y="179.86" width="10.07" height="10.42" fill="#019876"/>
<rect shape-rendering="crispEdges" x="130.09" y="179.86" width="10.07" height="10.42" fill="#058395"/>
<rect shape-rendering="crispEdges" x="139.86" y="179.86" width="10.07" height="10.42" fill="#019876"/>
<rect shape-rendering="crispEdges" x="149.63" y="179.86" width="10.07" height="10.42" fill="#019876"/>
<rect shape-rendering="crispEdges" x="159.39" y="179.86" width="10.07" height="10.42" fill="#058395"/>
<rect shape-rendering="crispEdges" x="169.16" y="179.86" width="10.07" height="10.42" fill="#058395"/>
<rect shape-rendering="crispEdges" x="178.92" y="179.86" width="10.07" height="10.42" fill="#058395"/>
<rect shape-rendering="crispEdges" x="188.69" y="179.86" width="10.07" height="10.42" fill="#058395"/>
<rect shape-rendering="crispEdges" x="198.46" y="179.86" width="10.07" height="10.42" fill="#048f84"/>
<rect shape-rendering="crispEdges" x="208.22" y="179.86" width="10.07" height="10.42" fill="#048f84"/>
<rect shape-rendering="crispEdges" x="217.99" y="179.86" width="10.07" height="10.42" fill="#058395"/>
<rect shape-rendering="crispEdges" x="227.75" y="179.86" width="10.07" height="10.42" fill="#058395"/>
<rect shape-rendering="crispEdges" x="237.52" y="179.86" width="10.07" height="10.42" fill="#058395"/>
<rect shape-rendering="crispEdges" x="247.29" y="179.86" width="10.07" height="10.42" fill="#058395"/>
<rect shape-rendering="crispEdges" x="257.05" y="179.86" width="10.07" height="10.42" fill="#048f84"/>
<rect shape-rendering="crispEdges" x="266.82" y="179.86" width="10.07" height="10.42" fill="#058395"/>
<rect shape-rendering="crispEdges" x="276.58" y="179.86" width="10.07" height="10.42" fill="#048f84"/>
<rect shape-rendering="crispEdges" x="286.35" y="179.86" width="10.07" height="10.42" fill="#058395"/>
<rect shape-rendering="crispEdges" x="296.11" y="179.86" width="10.07" height="10.42" fill="#058395"/>
<rect shape-rendering="crispEdges" x="305.88" y="179.86" width="10.07" height="10.42" fill="#058395"/>
<rect shape-rendering="crispEdges" x="315.65" y="179.86" width="10.07" height="10.42" fill="#058395"/>
<rect shape-rendering="crispEdges" x="325.41" y="179.86" width="10.07" height="10.42" fill="#058395"/>
<rect shape-rendering="crispEdges" x="335.18" y="179.86" width="10.07" height="10.42" fill="#058395"/>
<rect shape-rendering="crispEdges" x="344.94" y="179.86" width="10.07" height="10.42" fill="#058395"/>
<rect shape-rendering="crispEdges" x="354.71" y="179.86" width="10.07" height="10.42" fill="#058395"/>
<rect shape-rendering="crispEdges" x="364.48" y="179.86" width="10.07" height="10.42" fill="#047ba5"/>
<rect shape-rendering="crispEdges" x="374.24" y="179.86" width="10.07" height="10.42" fill="#0070b4"/>
<rect shape-rendering="crispEdges" x="384.01" y="179.86" width="10.07" height="10.42" fill="#058395"/>
<rect shape-rendering="crispEdges" x="393.77" y="179.86" width="10.07" height="10.42" fill="#058395"/>
<rect shape-rendering="crispEdges" x="403.54" y="179.86" width="10.07" height="10.42" fill="#058395"/>
<rect shape-rendering="crispEdges" x="413.31" y="179.86" width="10.07" height="10.42" fill="#058395"/>
<rect shape-rendering="crispEdges" x="423.07" y="179.86" width="10.07" height="10.42" fill="#047ba5"/>
<rect shape-rendering="crispEdges" x="432.84" y="179.86" width="10.07" height="10.42" fill="#047ba5"/>
<rect shape-rendering="crispEdges" x="442.60" y="179.86" width="10.07" height="10.42" fill="#047ba5"/>
<rect shape-rendering="crispEdges" x="452.37" y="179.86" width="10.07" height="10.42" fill="#047ba5"/>
<rect shape-rendering="crispEdges" x="462.14" y="179.86" width="10.07" height="10.42" fill="#047ba5"/>
<rect shape-rendering="crispEdges" x="471.90" y="179.86" width="10.07" height="10.42" fill="#047ba5"/>
<rect shape-rendering="crispEdges" x="481.67" y="179.86" width="10.07" height="10.42" fill="#047ba5"/>
<rect shape-rendering="crispEdges" x="491.43" y="179.86" width="10.07" height="10.42" fill="#047ba5"/>
<rect shape-rendering="crispEdges" x="42.20" y="189.98" width="10.07" height="10.42" fill="#019876"/>
<rect shape-rendering="crispEdges" x="51.97" y="189.98" width="10.07" height="10.42" fill="#019876"/>
<rect shape-rendering="crispEdges" x="61.73" y="189.98" width="10.07" height="10.42" fill="#40aa66"/>
<rect shape-rendering="crispEdges" x="71.50" y="189.98" width="10.07" height="10.42" fill="#019876"/>
<rect shape-rendering="crispEdges" x="81.26" y="189.98" width="10.07" height="10.42" fill="#019876"/>
<rect shape-rendering="crispEdges" x="91.03" y="189.98" width="10.07" height="10.42" fill="#019876"/>
<rect shape-rendering="crispEdges" x="100.80" y="189.98" width="10.07" height="10.42" fill="#019876"/>
<rect shape-rendering="crispEdges" x="110.56" y="189.98" width="10.07" height="10.42" fill="#019876"/>
<rect shape-rendering="crispEdges" x="120.33" y="189.98" width="10.07" height="10.42" fill="#019876"/>
<rect shape-rendering="crispEdges" x="130.09" y="189.98" width="10.07" height="10.42" fill="#058395"/>
<rect shape-rendering="crispEdges" x="139.86" y="189.98" width="10.07" height="10.42" fill="#019876"/>
<rect shape-rendering="crispEdges" x="149.63" y="189.98" width="10.07" height="10.42" fill="#019876"/>
<rect shape-rendering="crispEdges" x="159.39" y="189.98" width="10.07" height="10.42" fill="#058395"/>
<rect shape-rendering="crispEdges" x="169.16" y="189.98" width="10.07" height="10.42" fill="#058395"/>
<rect shape-rendering="crispEdges" x="178.92" y="189.98" width="10.07" height="10.42" fill="#058395"/>
<rect shape-rendering="crispEdges" x="188.69" y="189.98" width="10.07" height="10.42" fill="#058395"/>
<rect shape-rendering="crispEdges" x="198.46" y="189.98" width="10.07" height="10.42" fill="#048f84"/>
<rect shape-rendering="crispEdges" x="208.22" y="189.98" width="10.07" height="10.42" fill="#048f84"/>
<rect shape-rendering="crispEdges" x="217.99" y="189.98" width="10.07" height="10.42" fill="#058395"/>
<rect shape-rendering="crispEdges" x="227.75" y="189.98" width="10.07" height="10.42" fill="#058395"/>
<rect shape-rendering="crispEdges" x="237.52" y="189.98" width="10.07" height="10.42" fill="#058395"/>
<rect shape-rendering="crispEdges" x="247.29" y="189.98" width="10.07" height="10.42" fill="#058395"/>
<rect shape-rendering="crispEdges" x="257.05" y="189.98" width="10.07" height="10.42" fill="#058395"/>
<rect shape-rendering="crispEdges" x="266.82" y="189.98" width="10.07" height="10.42" fill="#058395"/>
<rect shape-rendering="crispEdges" x="276.58" y="189.98" width="10.07" height="10.42" fill="#048f84"/>
<rect shape-rendering="crispEdges" x="286.35" y="189.98" width="10.07" height="10.42" fill="#058395"/>
<rect shape-rendering="crispEdges" x="296.11" y="189.98" width="10.07" height="10.42" fill="#058395"/>
<rect shape-rendering="crispEdges" x="305.88" y="189.98" width="10.07" height="10.42" fill="#058395"/>
<rect shape-rendering="crispEdges" x="315.65" y="189.98" width="10.07" height="10.42" fill="#058395"/>
<rect shape-rendering="crispEdges" x="325.41" y="189.98" width="10.07" height="10.42" fill="#058395"/>
<rect shape-rendering="crispEdges" x="335.18" y="189.98" width="10.07" height="10.42" fill="#058395"/>
<rect shape-rendering="crispEdges" x="344.94" y="189.98" width="10.07" height="10.42" fill="#058395"/>
<rect shape-rendering="crispEdges" x="354.71" y="189.98" width="10.07" height="10.42" fill="#058395"/>
<rect shape-rendering="crispEdges" x="364.48" y="189.98" width="10.07" height="10.42" fill="#047ba5"/>
<rect shape-rendering="crispEdges" x="374.24" y="189.98" width="10.07" height="10.42" fill="#047ba5"/>
<rect shape-rendering="crispEdges" x="384.01" y="189.98" width="10.07" height="10.42" fill="#047ba5"/>
<rect shape-rendering="crispEdges" x="393.77" y="189.98" width="10.07" height="10.42" fill="#058395"/>
<rect shape-rendering="crispEdges" x="403.54" y="189.98" width="10.07" height="10.42" fill="#058395"/>
<rect shape-rendering="crispEdges" x="413.31" y="189.98" width="10.07" height="10.42" fill="#058395"/>
<rect shape-rendering="crispEdges" x="423.07" y="189.98" width="10.07" height="10.42" fill="#058395"/>
<rect shape-rendering="crispEdges" x="432.84" y="189.98" width="10.07" height="10.42" fill="#047ba5"/>
<rect shape-rendering="crispEdges" x="442.60" y="189.98" width="10.07" height="10.42" fill="#047ba5"/>
<rect shape-rendering="crispEdges" x="452.37" y="189.98" width="10.07" height="10.42" fill="#047ba5"/>
<rect shape-rendering="crispEdges" x="462.14" y="189.98" width="10.07" height="10.42" fill="#047ba5"/>
<rect shape-rendering="crispEdges" x="471.90" y="189.98" width="10.07" height="10.42" fill="#047ba5"/>
<rect shape-rendering="crispEdges" x="481.67" y="189.98" width="10.07" height="10.42" fill="#047ba5"/>
<rect shape-rendering="crispEdges" x="491.43" y="189.98" width="10.07" height="10.42" fill="#058395"/>
<rect shape-rendering="crispEdges" x="42.20" y="200.10" width="10.07" height="10.42" fill="#019876"/>
<rect shape-rendering="crispEdges" x="51.97" y="200.10" width="10.07" height="10.42" fill="#019876"/>
<rect shape-rendering="crispEdges" x="61.73" y="200.10" width="10.07" height="10.42" fill="#019876"/>
<rect shape-rendering="crispEdges" x="71.50" y="200.10" width="10.07" height="10.42" fill="#019876"/>
<rect shape-rendering="crispEdges" x="81.26" y="200.10" width="10.07" height="10.42" fill="#019876"/>
<rect shape-rendering="crispEdges" x="91.03" y="200.10" width="10.07" height="10.42" fill="#058395"/>
<rect shape-rendering="crispEdges" x="100.80" y="200.10" width="10.07" height="10.42" fill="#058395"/>
<rect shape-rendering="crispEdges" x="110.56" y="200.10" width="10.07" height="10.42" fill="#019876"/>
<rect shape-rendering="crispEdges" x="120.33" y="200.10" width="10.07" height="10.42" fill="#019876"/>
<rect shape-rendering="crispEdges" x="130.09" y="200.10" width="10.07" height="10.42" fill="#019876"/>
<rect shape-rendering="crispEdges" x="139.86" y="200.10" width="10.07" height="10.42" fill="#019876"/>
<rect shape-rendering="crispEdges" x="149.63" y="200.10" width="10.07" height="10.42" fill="#019876"/>
<rect shape-rendering="crispEdges" x="159.39" y="200.10" width="10.07" height="10.42" fill="#058395"/>
<rect shape-rendering="crispEdges" x="169.16" y="200.10" width="10.07" height="10.42" fill="#058395"/>
<rect shape-rendering="crispEdges" x="178.92" y="200.10" width="10.07" height="10.42" fill="#058395"/>
<rect shape-rendering="crispEdges" x="188.69" y="200.10" width="10.07" height="10.42" fill="#058395"/>
<rect shape-rendering="crispEdges" x="198.46" y="200.10" width="10.07" height="10.42" fill="#048f84"/>
<rect shape-rendering="crispEdges" x="208.22" y="200.10" width="10.07" height="10.42" fill="#048f84"/>
<rect shape-rendering="crispEdges" x="217.99" y="200.10" width="10.07" height="10.42" fill="#048f84"/>
<rect shape-rendering="crispEdges" x="227.75" y="200.10" width="10.07" height="10.42" fill="#058395"/>
<rect shape-rendering="crispEdges" x="237.52" y="200.10" width="10.07" height="10.42" fill="#058395"/>
<rect shape-rendering="crispEdges" x="247.29" y="200.10" width="10.07" height="10.42" fill="#058395"/>
<rect shape-rendering="crispEdges" x="257.05" y="200.10" width="10.07" height="10.42" fill="#058395"/>
<rect shape-rendering="crispEdges" x="266.82" y="200.10" width="10.07" height="10.42" fill="#058395"/>
<rect shape-rendering="crispEdges" x="276.58" y="200.10" width="10.07" height="10.42" fill="#048f84"/>
<rect shape-rendering="crispEdges" x="286.35" y="200.10" width="10.07" height="10.42" fill="#048f84"/>
<rect shape-rendering="crispEdges" x="296.11" y="200.10" width="10.07" height="10.42" fill="#058395"/>
<rect shape-rendering="crispEdges" x="305.88" y="200.10" width="10.07" height="10.42" fill="#058395"/>
<rect shape-rendering="crispEdges" x="315.65" y="200.10" width="10.07" height="10.42" fill="#058395"/>
<rect shape-rendering="crispEdges" x="325.41" y="200.10" width="10.07" height="10.42" fill="#058395"/>
<rect shape-rendering="crispEdges" x="335.18" y="200.10" width="10.07" height="10.42" fill="#058395"/>
<rect shape-rendering="crispEdges" x="344.94" y="200.10" width="10.07" height="10.42" fill="#058395"/>
<rect shape-rendering="crispEdges" x="354.71" y="200.10" width="10.07" height="10.42" fill="#058395"/>
<rect shape-rendering="crispEdges" x="364.48" y="200.10" width="10.07" height="10.42" fill="#058395"/>
<rect shape-rendering="crispEdges" x="374.24" y="200.10" width="10.07" height="10.42" fill="#058395"/>
<rect shape-rendering="crispEdges" x="384.01" y="200.10" width="10.07" height="10.42" fill="#058395"/>
<rect shape-rendering="crispEdges" x="393.77" y="200.10" width="10.07" height="10.42" fill="#058395"/>
<rect shape-rendering="crispEdges" x="403.54" y="200.10" width="10.07" height="10.42" fill="#047ba5"/>
<rect shape-rendering="crispEdges" x="413.31" y="200.10" width="10.07" height="10.42" fill="#047ba5"/>
<rect shape-rendering="crispEdges" x="423.07" y="200.10" width="10.07" height="10.42" fill="#047ba5"/>
<rect shape-rendering="crispEdges" x="432.84" y="200.10" width="10.07" height="10.42" fill="#047ba5"/>
<rect shape-rendering="crispEdges" x="442.60" y="200.10" width="10.07" height="10.42" fill="#047ba5"/>
<rect shape-rendering="crispEdges" x="452.37" y="200.10" width="10.07" height="10.42" fill="#047ba5"/>
<rect shape-rendering="crispEdges" x="462.14" y="200.10" width="10.07" height="10.42" fill="#047ba5"/>
<rect shape-rendering="crispEdges" x="471.90" y="200.10" width="10.07" height="10.42" fill="#0070b4"/>
<rect shape-rendering="crispEdges" x="481.67" y="200.10" width="10.07" height="10.42" fill="#047ba5"/>
<rect shape-rendering="crispEdges" x="491.43" y="200.10" width="10.07" height="10.42" fill="#047ba5"/>
<rect shape-rendering="crispEdges" x="42.20" y="210.22" width="10.07" height="10.42" fill="#019876"/>
<rect shape-rendering="crispEdges" x="51.97" y="210.22" width="10.07" height="10.42" fill="#019876"/>
<rect shape-rendering="crispEdges" x="61.73" y="210.22" width="10.07" height="10.42" fill="#058395"/>
<rect shape-rendering="crispEdges" x="71.50" y="210.22" width="10.07" height="10.42" fill="#058395"/>
<rect shape-rendering="crispEdges" x="81.26" y="210.22" width="10.07" height="10.42" fill="#019876"/>
<rect shape-rendering="crispEdges" x="91.03" y="210.22" width="10.07" height="10.42" fill="#019876"/>
<rect shape-rendering="crispEdges" x="100.80" y="210.22" width="10.07" height="10.42" fill="#019876"/>
<rect shape-rendering="crispEdges" x="110.56" y="210.22" width="10.07" height="10.42" fill="#019876"/>
<rect shape-rendering="crispEdges" x="120.33" y="210.22" width="10.07" height="10.42" fill="#019876"/>
<rect shape-rendering="crispEdges" x="130.09" y="210.22" width="10.07" height="10.42" fill="#058395"/>
<rect shape-rendering="crispEdges" x="139.86" y="210.22" width="10.07" height="10.42" fill="#019876"/>
<rect shape-rendering="crispEdges" x="149.63" y="210.22" width="10.07" height="10.42" fill="#019876"/>
<rect shape-rendering="crispEdges" x="159.39" y="210.22" width="10.07" height="10.42" fill="#058395"/>
<rect shape-rendering="crispEdges" x="169.16" y="210.22" width="10.07" height="10.42" fill="#058395"/>
<rect shape-rendering="crispEdges" x="178.92" y="210.22" width="10.07" height="10.42" fill="#058395"/>
<rect shape-rendering="crispEdges" x="188.69" y="210.22" width="10.07" height="10.42" fill="#058395"/>
<rect shape-rendering="crispEdges" x="198.46" y="210.22" width="10.07" height="10.42" fill="#058395"/>
<rect shape-rendering="crispEdges" x="208.22" y="210.22" width="10.07" height="10.42" fill="#048f84"/>
<rect shape-rendering="crispEdges" x="217.99" y="210.22" width="10.07" height="10.42" fill="#048f84"/>
<rect shape-rendering="crispEdges" x="227.75" y="210.22" width="10.07" height="10.42" fill="#058395"/>
<rect shape-rendering="crispEdges" x="237.52" y="210.22" width="10.07" height="10.42" fill="#058395"/>
<rect shape-rendering="crispEdges" x="247.29" y="210.22" width="10.07" height="10.42" fill="#058395"/>
<rect shape-rendering="crispEdges" x="257.05" y="210.22" width="10.07" height="10.42" fill="#058395"/>
<rect shape-rendering="crispEdges" x="266.82" y="210.22" width="10.07" height="10.42" fill="#058395"/>
<rect shape-rendering="crispEdges" x="276.58" y="210.22" width="10.07" height="10.42" fill="#019876"/>
<rect shape-rendering="crispEdges" x="286.35" y="210.22" width="10.07" height="10.42" fill="#048f84"/>
<rect shape-rendering="crispEdges" x="296.11" y="210.22" width="10.07" height="10.42" fill="#048f84"/>
<rect shape-rendering="crispEdges" x="305.88" y="210.22" width="10.07" height="10.42" fill="#058395"/>
<rect shape-rendering="crispEdges" x="315.65" y="210.22" width="10.07" height="10.42" fill="#058395"/>
<rect shape-rendering="crispEdges" x="325.41" y="210.22" width="10.07" height="10.42" fill="#058395"/>
<rect shape-rendering="crispEdges" x="335.18" y="210.22" width="10.07" height="10.42" fill="#058395"/>
<rect shape-rendering="crispEdges" x="344.94" y="210.22" width="10.07" height="10.42" fill="#058395"/>
<rect shape-rendering="crispEdges" x="354.71" y="210.22" width="10.07" height="10.42" fill="#058395"/>
<rect shape-rendering="crispEdges" x="364.48" y="210.22" width="10.07" height="10.42" fill="#058395"/>
<rect shape-rendering="crispEdges" x="374.24" y="210.22" width="10.07" height="10.42" fill="#058395"/>
<rect shape-rendering="crispEdges" x="384.01" y="210.22" width="10.07" height="10.42" fill="#058395"/>
<rect shape-rendering="crispEdges" x="393.77" y="210.22" width="10.07" height="10.42" fill="#058395"/>
<rect shape-rendering="crispEdges" x="403.54" y="210.22" width="10.07" height="10.42" fill="#058395"/>
<rect shape-rendering="crispEdges" x="413.31" y="210.22" width="10.07" height="10.42" fill="#058395"/>
<rect shape-rendering="crispEdges" x="423.07" y="210.22" width="10.07" height="10.42" fill="#058395"/>
<rect shape-rendering="crispEdges" x="432.84" y="210.22" width="10.07" height="10.42" fill="#058395"/>
<rect shape-rendering="crispEdges" x="442.60" y="210.22" width="10.07" height="10.42" fill="#047ba5"/>
<rect shape-rendering="crispEdges" x="452.37" y="210.22" width="10.07" height="10.42" fill="#047ba5"/>
<rect shape-rendering="crispEdges" x="462.14" y="210.22" width="10.07" height="10.42" fill="#047ba5"/>
<rect shape-rendering="crispEdges" x="471.90" y="210.22" width="10.07" height="10.42" fill="#058395"/>
<rect shape-rendering="crispEdges" x="481.67" y="210.22" width="10.07" height="10.42" fill="#058395"/>
<rect shape-rendering="crispEdges" x="491.43" y="210.22" width="10.07" height="10.42" fill="#058395"/>
<rect shape-rendering="crispEdges" x="42.20" y="220.34" width="10.07" height="10.42" fill="#019876"/>
<rect shape-rendering="crispEdges" x="51.97" y="220.34" width="10.07" height="10.42" fill="#019876"/>
<rect shape-rendering="crispEdges" x="61.73" y="220.34" width="10.07" height="10.42" fill="#019876"/>
<rect shape-rendering="crispEdges" x="71.50" y="220.34" width="10.07" height="10.42" fill="#40aa66"/>
<rect shape-rendering="crispEdges" x="81.26" y="220.34" width="10.07" height="10.42" fill="#019876"/>
<rect shape-rendering="crispEdges" x="91.03" y="220.34" width="10.07" height="10.42" fill="#019876"/>
<rect shape-rendering="crispEdges" x="100.80" y="220.34" width="10.07" height="10.42" fill="#019876"/>
<rect shape-rendering="crispEdges" x="110.56" y="220.34" width="10.07" height="10.42" fill="#019876"/>
<rect shape-rendering="crispEdges" x="120.33" y="220.34" width="10.07" height="10.42" fill="#058395"/>
<rect shape-rendering="crispEdges" x="130.09" y="220.34" width="10.07" height="10.42" fill="#019876"/>
<rect shape-rendering="crispEdges" x="139.86" y="220.34" width="10.07" height="10.42" fill="#019876"/>
<rect shape-rendering="crispEdges" x="149.63" y="220.34" width="10.07" height="10.42" fill="#019876"/>
<rect shape-rendering="crispEdges" x="159.39" y="220.34" width="10.07" height="10.42" fill="#058395"/>
<rect shape-rendering="crispEdges" x="169.16" y="220.34" width="10.07" height="10.42" fill="#058395"/>
<rect shape-rendering="crispEdges" x="178.92" y="220.34" width="10.07" height="10.42" fill="#058395"/>
<rect shape-rendering="crispEdges" x="188.69" y="220.34" width="10.07" height="10.42" fill="#058395"/>
<rect shape-rendering="crispEdges" x="198.46" y="220.34" width="10.07" height="10.42" fill="#058395"/>
<rect shape-rendering="crispEdges" x="208.22" y="220.34" width="10.07" height="10.42" fill="#048f84"/>
<rect shape-rendering="crispEdges" x="217.99" y="220.34" width="10.07" height="10.42" fill="#058395"/>
<rect shape-rendering="crispEdges" x="227.75" y="220.34" width="10.07" height="10.42" fill="#058395"/>
<rect shape-rendering="crispEdges" x="237.52" y="220.34" width="10.07" height="10.42" fill="#058395"/>
<rect shape-rendering="crispEdges" x="247.29" y="220.34" width="10.07" height="10.42" fill="#048f84"/>
<rect shape-rendering="crispEdges" x="257.05" y="220.34" width="10.07" height="10.42" fill="#058395"/>
<rect shape-rendering="crispEdges" x="266.82" y="220.34" width="10.07" height="10.42" fill="#047ba5"/>
<rect shape-rendering="crispEdges" x="276.58" y="220.34" width="10.07" height="10.42" fill="#019876"/>
<rect shape-rendering="crispEdges" x="286.35" y="220.34" width="10.07" height="10.42" fill="#048f84"/>
<rect shape-rendering="crispEdges" x="296.11" y="220.34" width="10.07" height="10.42" fill="#048f84"/>
<rect shape-rendering="crispEdges" x="305.88" y="220.34" width="10.07" height="10.42" fill="#048f84"/>
<rect shape-rendering="crispEdges" x="315.65" y="220.34" width="10.07" height="10.42" fill="#058395"/>
<rect shape-rendering="crispEdges" x="325.41" y="220.34" width="10.07" height="10.42" fill="#058395"/>
<rect shape-rendering="crispEdges" x="335.18" y="220.34" width="10.07" height="10.42" fill="#058395"/>
<rect shape-rendering="crispEdges" x="344.94" y="220.34" width="10.07" height="10.42" fill="#058395"/>
<rect shape-rendering="crispEdges" x="354.71" y="220.34" width="10.07" height="10.42" fill="#058395"/>
<rect shape-rendering="crispEdges" x="364.48" y="220.34" width="10.07" height="10.42" fill="#058395"/>
<rect shape-rendering="crispEdges" x="374.24" y="220.34" width="10.07" height="10.42" fill="#048f84"/>
<rect shape-rendering="crispEdges" x="384.01" y="220.34" width="10.07" height="10.42" fill="#058395"/>
<rect shape-rendering="crispEdges" x="393.77" y="220.34" width="10.07" height="10.42" fill="#058395"/>
<rect shape-rendering="crispEdges" x="403.54" y="220.34" width="10.07" height="10.42" fill="#058395"/>
<rect shape-rendering="crispEdges" x="413.31" y="220.34" width="10.07" height="10.42" fill="#058395"/>
<rect shape-rendering="crispEdges" x="423.07" y="220.34" width="10.07" height="10.42" fill="#058395"/>
<rect shape-rendering="crispEdges" x="432.84" y="220.34" width="10.07" height="10.42" fill="#058395"/>
<rect shape-rendering="crispEdges" x="442.60" y="220.34" width="10.07" height="10.42" fill="#058395"/>
<rect shape-rendering="crispEdges" x="452.37" y="220.34" width="10.07" height="10.42" fill="#058395"/>
<rect shape-rendering="crispEdges" x="462.14" y="220.34" width="10.07" height="10.42" fill="#058395"/>
<rect shape-rendering="crispEdges" x="471.90" y="220.34" width="10.07" height="10.42" fill="#047ba5"/>
<rect shape-rendering="crispEdges" x="481.67" y="220.34" width="10.07" height="10.42" fill="#058395"/>
<rect shape-rendering="crispEdges" x="491.43" y="220.34" width="10.07" height="10.42" fill="#058395"/>
<rect shape-rendering="crispEdges" x="42.20" y="230.46" width="10.07" height="10.42" fill="#019876"/>
<rect shape-rendering="crispEdges" x="51.97" y="230.46" width="10.07" height="10.42" fill="#019876"/>
<rect shape-rendering="crispEdges" x="61.73" y="230.46" width="10.07" height="10.42" fill="#019876"/>
<rect shape-rendering="crispEdges" x="71.50" y="230.46" width="10.07" height="10.42" fill="#019876"/>
<rect shape-rendering="crispEdges" x="81.26" y="230.46" width="10.07" height="10.42" fill="#40aa66"/>
<rect shape-rendering="crispEdges" x="91.03" y="230.46" width="10.07" height="10.42" fill="#019876"/>
<rect shape-rendering="crispEdges" x="100.80" y="230.46" width="10.07" height="10.42" fill="#019876"/>
<rect shape-rendering="crispEdges" x="110.56" y="230.46" width="10.07" height="10.42" fill="#019876"/>
<rect shape-rendering="crispEdges" x="120.33" y="230.46" width="10.07" height="10.42" fill="#019876"/>
<rect shape-rendering="crispEdges" x="130.09" y="230.46" width="10.07" height="10.42" fill="#019876"/>
<rect shape-rendering="crispEdges" x="139.86" y="230.46" width="10.07" height="10.42" fill="#019876"/>
<rect shape-rendering="crispEdges" x="149.63" y="230.46" width="10.07" height="10.42" fill="#019876"/>
<rect shape-rendering="crispEdges" x="159.39" y="230.46" width="10.07" height="10.42" fill="#058395"/>
<rect shape-rendering="crispEdges" x="169.16" y="230.46" width="10.07" height="10.42" fill="#058395"/>
<rect shape-rendering="crispEdges" x="178.92" y="230.46" width="10.07" height="10.42" fill="#058395"/>
<rect shape-rendering="crispEdges" x="188.69" y="230.46" width="10.07" height="10.42" fill="#058395"/>
<rect shape-rendering="crispEdges" x="198.46" y="230.46" width="10.07" height="10.42" fill="#058395"/>
<rect shape-rendering="crispEdges" x="208.22" y="230.46" width="10.07" height="10.42" fill="#048f84"/>
<rect shape-rendering="crispEdges" x="217.99" y="230.46" width="10.07" height="10.42" fill="#058395"/>
<rect shape-rendering="crispEdges" x="227.75" y="230.46" width="10.07" height="10.42" fill="#058395"/>
<rect shape-rendering="crispEdges" x="237.52" y="230.46" width="10.07" height="10.42" fill="#058395"/>
<rect shape-rendering="crispEdges" x="247.29" y="230.46" width="10.07" height="10.42" fill="#048f84"/>
<rect shape-rendering="crispEdges" x="257.05" y="230.46" width="10.07" height="10.42" fill="#048f84"/>
<rect shape-rendering="crispEdges" x="266.82" y="230.46" width="10.07" height="10.42" fill="#058395"/>
<rect shape-rendering="crispEdges" x="276.58" y="230.46" width="10.07" height="10.42" fill="#019876"/>
<rect shape-rendering="crispEdges" x="286.35" y="230.46" width="10.07" height="10.42" fill="#048f84"/>
<rect shape-rendering="crispEdges" x="296.11" y="230.46" width="10.07" height="10.42" fill="#048f84"/>
<rect shape-rendering="crispEdges" x="305.88" y="230.46" width="10.07" height="10.42" fill="#048f84"/>
<rect shape-rendering="crispEdges" x="315.65" y="230.46" width="10.07" height="10.42" fill="#048f84"/>
<rect shape-rendering="crispEdges" x="325.41" y="230.46" width="10.07" height="10.42" fill="#048f84"/>
<rect shape-rendering="crispEdges" x="335.18" y="230.46" width="10.07" height="10.42" fill="#058395"/>
<rect shape-rendering="crispEdges" x="344.94" y="230.46" width="10.07" height="10.42" fill="#058395"/>
<rect shape-rendering="crispEdges" x="354.71" y="230.46" width="10.07" height="10.42" fill="#048f84"/>
<rect shape-rendering="crispEdges" x="364.48" y="230.46" width="10.07" height="10.42" fill="#048f84"/>
<rect shape-rendering="crispEdges" x="374.24" y="230.46" width="10.07" height="10.42" fill="#048f84"/>
<rect shape-rendering="crispEdges" x="384.01" y="230.46" width="10.07" height="10.42" fill="#048f84"/>
<rect shape-rendering="crispEdges" x="393.77" y="230.46" width="10.07" height="10.42" fill="#048f84"/>
<rect shape-rendering="crispEdges" x="403.54" y="230.46" width="10.07" height="10.42" fill="#048f84"/>
<rect shape-rendering="crispEdges" x="413.31" y="230.46" width="10.07" height="10.42" fill="#058395"/>
<rect shape-rendering="crispEdges" x="423.07" y="230.46" width="10.07" height="10.42" fill="#058395"/>
<rect shape-rendering="crispEdges" x="432.84" y="230.46" width="10.07" height="10.42" fill="#058395"/>
<rect shape-rendering="crispEdges" x="442.60" y="230.46" width="10.07" height="10.42" fill="#058395"/>
<rect shape-rendering="crispEdges" x="452.37" y="230.46" width="10.07" height="10.42" fill="#058395"/>
<rect shape-rendering="crispEdges" x="462.14" y="230.46" width="10.07" height="10.42" fill="#058395"/>
<rect shape-rendering="crispEdges" x="471.90" y="230.46" width="10.07" height="10.42" fill="#058395"/>
<rect shape-rendering="crispEdges" x="481.67" y="230.46" width="10.07" height="10.42" fill="#058395"/>
<rect shape-rendering="crispEdges" x="491.43" y="230.46" width="10.07" height="10.42" fill="#058395"/>
<rect shape-rendering="crispEdges" x="42.20" y="240.58" width="10.07" height="10.42" fill="#019876"/>
<rect shape-rendering="crispEdges" x="51.97" y="240.58" width="10.07" height="10.42" fill="#019876"/>
<rect shape-rendering="crispEdges" x="61.73" y="240.58" width="10.07" height="10.42" fill="#40aa66"/>
<rect shape-rendering="crispEdges" x="71.50" y="240.58" width="10.07" height="10.42" fill="#019876"/>
<rect shape-rendering="crispEdges" x="81.26" y="240.58" width="10.07" height="10.42" fill="#019876"/>
<rect shape-rendering="crispEdges" x="91.03" y="240.58" width="10.07" height="10.42" fill="#019876"/>
<rect shape-rendering="crispEdges" x="100.80" y="240.58" width="10.07" height="10.42" fill="#019876"/>
<rect shape-rendering="crispEdges" x="110.56" y="240.58" width="10.07" height="10.42" fill="#019876"/>
<rect shape-rendering="crispEdges" x="120.33" y="240.58" width="10.07" height="10.42" fill="#019876"/>
<rect shape-rendering="crispEdges" x="130.09" y="240.58" width="10.07" height="10.42" fill="#019876"/>
<rect shape-rendering="crispEdges" x="139.86" y="240.58" width="10.07" height="10.42" fill="#019876"/>
<rect shape-rendering="crispEdges" x="149.63" y="240.58" width="10.07" height="10.42" fill="#05868f"/>
<rect shape-rendering="crispEdges" x="159.39" y="240.58" width="10.07" height="10.42" fill="#019876"/>
<rect shape-rendering="crispEdges" x="169.16" y="240.58" width="10.07" height="10.42" fill="#039181"/>
<rect shape-rendering="crispEdges" x="178.92" y="240.58" width="10.07" height="10.42" fill="#05868f"/>
<rect shape-rendering="crispEdges" x="188.69" y="240.58" width="10.07" height="10.42" fill="#05868f"/>
<rect shape-rendering="crispEdges" x="198.46" y="240.58" width="10.07" height="10.42" fill="#05868f"/>
<rect shape-rendering="crispEdges" x="208.22" y="240.58" width="10.07" height="10.42" fill="#039181"/>
<rect shape-rendering="crispEdges" x="217.99" y="240.58" width="10.07" height="10.42" fill="#039181"/>
<rect shape-rendering="crispEdges" x="227.75" y="240.58" width="10.07" height="10.42" fill="#039181"/>
<rect shape-rendering="crispEdges" x="237.52" y="240.58" width="10.07" height="10.42" fill="#039181"/>
<rect shape-rendering="crispEdges" x="247.29" y="240.58" width="10.07" height="10.42" fill="#039181"/>
<rect shape-rendering="crispEdges" x="257.05" y="240.58" width="10.07" height="10.42" fill="#039181"/>
<rect shape-rendering="crispEdges" x="266.82" y="240.58" width="10.07" height="10.42" fill="#019876"/>
<rect shape-rendering="crispEdges" x="276.58" y="240.58" width="10.07" height="10.42" fill="#039181"/>
<rect shape-rendering="crispEdges" x="286.35" y="240.58" width="10.07" height="10.42" fill="#05868f"/>
<rect shape-rendering="crispEdges" x="296.11" y="240.58" width="10.07" height="10.42" fill="#05868f"/>
<rect shape-rendering="crispEdges" x="305.88" y="240.58" width="10.07" height="10.42" fill="#05868f"/>
<rect shape-rendering="crispEdges" x="315.65" y="240.58" width="10.07" height="10.42" fill="#039181"/>
<rect shape-rendering="crispEdges" x="325.41" y="240.58" width="10.07" height="10.42" fill="#05868f"/>
<rect shape-rendering="crispEdges" x="335.18" y="240.58" width="10.07" height="10.42" fill="#05868f"/>
<rect shape-rendering="crispEdges" x="344.94" y="240.58" width="10.07" height="10.42" fill="#05868f"/>
<rect shape-rendering="crispEdges" x="354.71" y="240.58" width="10.07" height="10.42" fill="#05868f"/>
<rect shape-rendering="crispEdges" x="364.48" y="240.58" width="10.07" height="10.42" fill="#05868f"/>
<rect shape-rendering="crispEdges" x="374.24" y="240.58" width="10.07" height="10.42" fill="#05868f"/>
<rect shape-rendering="crispEdges" x="384.01" y="240.58" width="10.07" height="10.42" fill="#05868f"/>
<rect shape-rendering="crispEdges" x="393.77" y="240.58" width="10.07" height="10.42" fill="#05868f"/>
<rect shape-rendering="crispEdges" x="403.54" y="240.58" width="10.07" height="10.42" fill="#05868f"/>
<rect shape-rendering="crispEdges" x="413.31" y="240.58" width="10.07" height="10.42" fill="#05868f"/>
<rect shape-rendering="crispEdges" x="423.07" y="240.58" width="10.07" height="10.42" fill="#05868f"/>
<rect shape-rendering="crispEdges" x="432.84" y="240.58" width="10.07" height="10.42" fill="#05868f"/>
<rect shape-rendering="crispEdges" x="442.60" y="240.58" width="10.07" height="10.42" fill="#05868f"/>
<rect shape-rendering="crispEdges" x="452.37" y="240.58" width="10.07" height="10.42" fill="#05868f"/>
<rect shape-rendering="crispEdges" x="462.14" y="240.58" width="10.07" height="10.42" fill="#047ba5"/>
<rect shape-rendering="crispEdges" x="471.90" y="240.58" width="10.07" height="10.42" fill="#047ba5"/>
<rect shape-rendering="crispEdges" x="481.67" y="240.58" width="10.07" height="10.42" fill="#047ba5"/>
<rect shape-rendering="crispEdges" x="491.43" y="240.58" width="10.07" height="10.42" fill="#047ba5"/>
<rect shape-rendering="crispEdges" x="42.20" y="250.70" width="10.07" height="10.42" fill="#019876"/>
<rect shape-rendering="crispEdges" x="51.97" y="250.70" width="10.07" height="10.42" fill="#40aa66"/>
<rect shape-rendering="crispEdges" x="61.73" y="250.70" width="10.07" height="10.42" fill="#40aa66"/>
<rect shape-rendering="crispEdges" x="71.50" y="250.70" width="10.07" height="10.42" fill="#a4cc54"/>
<rect shape-rendering="crispEdges" x="81.26" y="250.70" width="10.07" height="10.42" fill="#019876"/>
<rect shape-rendering="crispEdges" x="91.03" y="250.70" width="10.07" height="10.42" fill="#019876"/>
<rect shape-rendering="crispEdges" x="100.80" y="250.70" width="10.07" height="10.42" fill="#019876"/>
<rect shape-rendering="crispEdges" x="110.56" y="250.70" width="10.07" height="10.42" fill="#019876"/>
<rect shape-rendering="crispEdges" x="120.33" y="250.70" width="10.07" height="10.42" fill="#019876"/>
<rect shape-rendering="crispEdges" x="130.09" y="250.70" width="10.07" height="10.42" fill="#019876"/>
<rect shape-rendering="crispEdges" x="139.86" y="250.70" width="10.07" height="10.42" fill="#019876"/>
<rect shape-rendering="crispEdges" x="149.63" y="250.70" width="10.07" height="10.42" fill="#05868f"/>
<rect shape-rendering="crispEdges" x="159.39" y="250.70" width="10.07" height="10.42" fill="#019876"/>
<rect shape-rendering="crispEdges" x="169.16" y="250.70" width="10.07" height="10.42" fill="#039181"/>
<rect shape-rendering="crispEdges" x="178.92" y="250.70" width="10.07" height="10.42" fill="#039181"/>
<rect shape-rendering="crispEdges" x="188.69" y="250.70" width="10.07" height="10.42" fill="#05868f"/>
<rect shape-rendering="crispEdges" x="198.46" y="250.70" width="10.07" height="10.42" fill="#05868f"/>
<rect shape-rendering="crispEdges" x="208.22" y="250.70" width="10.07" height="10.42" fill="#05868f"/>
<rect shape-rendering="crispEdges" x="217.99" y="250.70" width="10.07" height="10.42" fill="#039181"/>
<rect shape-rendering="crispEdges" x="227.75" y="250.70" width="10.07" height="10.42" fill="#039181"/>
<rect shape-rendering="crispEdges" x="237.52" y="250.70" width="10.07" height="10.42" fill="#039181"/>
<rect shape-rendering="crispEdges" x="247.29" y="250.70" width="10.07" height="10.42" fill="#039181"/>
<rect shape-rendering="crispEdges" x="257.05" y="250.70" width="10.07" height="10.42" fill="#039181"/>
<rect shape-rendering="crispEdges" x="266.82" y="250.70" width="10.07" height="10.42" fill="#039181"/>
<rect shape-rendering="crispEdges" x="276.58" y="250.70" width="10.07" height="10.42" fill="#05868f"/>
<rect shape-rendering="crispEdges" x="286.35" y="250.70" width="10.07" height="10.42" fill="#05868f"/>
<rect shape-rendering="crispEdges" x="296.11" y="250.70" width="10.07" height="10.42" fill="#05868f"/>
<rect shape-rendering="crispEdges" x="305.88" y="250.70" width="10.07" height="10.42" fill="#05868f"/>
<rect shape-rendering="crispEdges" x="315.65" y="250.70" width="10.07" height="10.42" fill="#05868f"/>
<rect shape-rendering="crispEdges" x="325.41" y="250.70" width="10.07" height="10.42" fill="#039181"/>
<rect shape-rendering="crispEdges" x="335.18" y="250.70" width="10.07" height="10.42" fill="#039181"/>
<rect shape-rendering="crispEdges" x="344.94" y="250.70" width="10.07" height="10.42" fill="#039181"/>
<rect shape-rendering="crispEdges" x="354.71" y="250.70" width="10.07" height="10.42" fill="#039181"/>
<rect shape-rendering="crispEdges" x="364.48" y="250.70" width="10.07" height="10.42" fill="#039181"/>
<rect shape-rendering="crispEdges" x="374.24" y="250.70" width="10.07" height="10.42" fill="#039181"/>
<rect shape-rendering="crispEdges" x="384.01" y="250.70" width="10.07" height="10.42" fill="#039181"/>
<rect shape-rendering="crispEdges" x="393.77" y="250.70" width="10.07" height="10.42" fill="#05868f"/>
<rect shape-rendering="crispEdges" x="403.54" y="250.70" width="10.07" height="10.42" fill="#05868f"/>
<rect shape-rendering="crispEdges" x="413.31" y="250.70" width="10.07" height="10.42" fill="#05868f"/>
<rect shape-rendering="crispEdges" x="423.07" y="250.70" width="10.07" height="10.42" fill="#05868f"/>
<rect shape-rendering="crispEdges" x="432.84" y="250.70" width="10.07" height="10.42" fill="#05868f"/>
<rect shape-rendering="crispEdges" x="442.60" y="250.70" width="10.07" height="10.42" fill="#05868f"/>
<rect shape-rendering="crispEdges" x="452.37" y="250.70" width="10.07" height="10.42" fill="#05868f"/>
<rect shape-rendering="crispEdges" x="462.14" y="250.70" width="10.07" height="10.42" fill="#05868f"/>
<rect shape-rendering="crispEdges" x="471.90" y="250.70" width="10.07" height="10.42" fill="#047ba5"/>
<rect shape-rendering="crispEdges" x="481.67" y="250.70" width="10.07" height="10.42" fill="#047ba5"/>
<rect shape-rendering="crispEdges" x="491.43" y="250.70" width="10.07" height="10.42" fill="#047ba5"/>
<rect shape-rendering="crispEdges" x="42.20" y="260.82" width="10.07" height="10.42" fill="#019876"/>
<rect shape-rendering="crispEdges" x="51.97" y="260.82" width="10.07" height="10.42" fill="#40aa66"/>
<rect shape-rendering="crispEdges" x="61.73" y="260.82" width="10.07" height="10.42" fill="#40aa66"/>
<rect shape-rendering="crispEdges" x="71.50" y="260.82" width="10.07" height="10.42" fill="#019876"/>
<rect shape-rendering="crispEdges" x="81.26" y="260.82" width="10.07" height="10.42" fill="#019876"/>
<rect shape-rendering="crispEdges" x="91.03" y="260.82" width="10.07" height="10.42" fill="#019876"/>
<rect shape-rendering="crispEdges" x="100.80" y="260.82" width="10.07" height="10.42" fill="#019876"/>
<rect shape-rendering="crispEdges" x="110.56" y="260.82" width="10.07" height="10.42" fill="#019876"/>
<rect shape-rendering="crispEdges" x="120.33" y="260.82" width="10.07" height="10.42" fill="#019876"/>
<rect shape-rendering="crispEdges" x="130.09" y="260.82" width="10.07" height="10.42" fill="#019876"/>
<rect shape-rendering="crispEdges" x="139.86" y="260.82" width="10.07" height="10.42" fill="#019876"/>
<rect shape-rendering="crispEdges" x="149.63" y="260.82" width="10.07" height="10.42" fill="#019876"/>
<rect shape-rendering="crispEdges" x="159.39" y="260.82" width="10.07" height="10.42" fill="#039181"/>
<rect shape-rendering="crispEdges" x="169.16" y="260.82" width="10.07" height="10.42" fill="#039181"/>
<rect shape-rendering="crispEdges" x="178.92" y="260.82" width="10.07" height="10.42" fill="#039181"/>
<rect shape-rendering="crispEdges" x="188.69" y="260.82" width="10.07" height="10.42" fill="#039181"/>
<rect shape-rendering="crispEdges" x="198.46" y="260.82" width="10.07" height="10.42" fill="#05868f"/>
<rect shape-rendering="crispEdges" x="208.22" y="260.82" width="10.07" height="10.42" fill="#05868f"/>
<rect shape-rendering="crispEdges" x="217.99" y="260.82" width="10.07" height="10.42" fill="#039181"/>
<rect shape-rendering="crispEdges" x="227.75" y="260.82" width="10.07" height="10.42" fill="#039181"/>
<rect shape-rendering="crispEdges" x="237.52" y="260.82" width="10.07" height="10.42" fill="#039181"/>
<rect shape-rendering="crispEdges" x="247.29" y="260.82" width="10.07" height="10.42" fill="#039181"/>
<rect shape-rendering="crispEdges" x="257.05" y="260.82" width="10.07" height="10.42" fill="#039181"/>
<rect shape-rendering="crispEdges" x="266.82" y="260.82" width="10.07" height="10.42" fill="#039181"/>
<rect shape-rendering="crispEdges" x="276.58" y="260.82" width="10.07" height="10.42" fill="#05868f"/>
<rect shape-rendering="crispEdges" x="286.35" y="260.82" width="10.07" height="10.42" fill="#05868f"/>
<rect shape-rendering="crispEdges" x="296.11" y="260.82" width="10.07" height="10.42" fill="#05868f"/>
<rect shape-rendering="crispEdges" x="305.88" y="260.82" width="10.07" height="10.42" fill="#05868f"/>
<rect shape-rendering="crispEdges" x="315.65" y="260.82" width="10.07" height="10.42" fill="#05868f"/>
<rect shape-rendering="crispEdges" x="325.41" y="260.82" width="10.07" height="10.42" fill="#039181"/>
<rect shape-rendering="crispEdges" x="335.18" y="260.82" width="10.07" height="10.42" fill="#039181"/>
<rect shape-rendering="crispEdges" x="344.94" y="260.82" width="10.07" height="10.42" fill="#039181"/>
<rect shape-rendering="crispEdges" x="354.71" y="260.82" width="10.07" height="10.42" fill="#039181"/>
<rect shape-rendering="crispEdges" x="364.48" y="260.82" width="10.07" height="10.42" fill="#039181"/>
<rect shape-rendering="crispEdges" x="374.24" y="260.82" width="10.07" height="10.42" fill="#039181"/>
<rect shape-rendering="crispEdges" x="384.01" y="260.82" width="10.07" height="10.42" fill="#039181"/>
<rect shape-rendering="crispEdges" x="393.77" y="260.82" width="10.07" height="10.42" fill="#039181"/>
<rect shape-rendering="crispEdges" x="403.54" y="260.82" width="10.07" height="10.42" fill="#039181"/>
<rect shape-rendering="crispEdges" x="413.31" y="260.82" width="10.07" height="10.42" fill="#039181"/>
<rect shape-rendering="crispEdges" x="423.07" y="260.82" width="10.07" height="10.42" fill="#039181"/>
<rect shape-rendering="crispEdges" x="432.84" y="260.82" width="10.07" height="10.42" fill="#039181"/>
<rect shape-rendering="crispEdges" x="442.60" y="260.82" width="10.07" height="10.42" fill="#05868f"/>
<rect shape-rendering="crispEdges" x="452.37" y="260.82" width="10.07" height="10.42" fill="#05868f"/>
<rect shape-rendering="crispEdges" x="462.14" y="260.82" width="10.07" height="10.42" fill="#05868f"/>
<rect shape-rendering="crispEdges" x="471.90" y="260.82" width="10.07" height="10.42" fill="#05868f"/>
<rect shape-rendering="crispEdges" x="481.67" y="260.82" width="10.07" height="10.42" fill="#047ba5"/>
<rect shape-rendering="crispEdges" x="491.43" y="260.82" width="10.07" height="10.42" fill="#047ba5"/>
<rect shape-rendering="crispEdges" x="42.20" y="270.94" width="10.07" height="10.42" fill="#019876"/>
<rect shape-rendering="crispEdges" x="51.97" y="270.94" width="10.07" height="10.42" fill="#019876"/>
<rect shape-rendering="crispEdges" x="61.73" y="270.94" width="10.07" height="10.42" fill="#019876"/>
<rect shape-rendering="crispEdges" x="71.50" y="270.94" width="10.07" height="10.42" fill="#019876"/>
<rect shape-rendering="crispEdges" x="81.26" y="270.94" width="10.07" height="10.42" fill="#019876"/>
<rect shape-rendering="crispEdges" x="91.03" y="270.94" width="10.07" height="10.42" fill="#019876"/>
<rect shape-rendering="crispEdges" x="100.80" y="270.94" width="10.07" height="10.42" fill="#019876"/>
<rect shape-rendering="crispEdges" x="110.56" y="270.94" width="10.07" height="10.42" fill="#019876"/>
<rect shape-rendering="crispEdges" x="120.33" y="270.94" width="10.07" height="10.42" fill="#019876"/>
<rect shape-rendering="crispEdges" x="130.09" y="270.94" width="10.07" height="10.42" fill="#019876"/>
<rect shape-rendering="crispEdges" x="139.86" y="270.94" width="10.07" height="10.42" fill="#019876"/>
<rect shape-rendering="crispEdges" x="149.63" y="270.94" width="10.07" height="10.42" fill="#019876"/>
<rect shape-rendering="crispEdges" x="159.39" y="270.94" width="10.07" height="10.42" fill="#019876"/>
<rect shape-rendering="crispEdges" x="169.16" y="270.94" width="10.07" height="10.42" fill="#039181"/>
<rect shape-rendering="crispEdges" x="178.92" y="270.94" width="10.07" height="10.42" fill="#039181"/>
<rect shape-rendering="crispEdges" x="188.69" y="270.94" width="10.07" height="10.42" fill="#039181"/>
<rect shape-rendering="crispEdges" x="198.46" y="270.94" width="10.07" height="10.42" fill="#2486c8"/>
<rect shape-rendering="crispEdges" x="208.22" y="270.94" width="10.07" height="10.42" fill="#2486c8"/>
<rect shape-rendering="crispEdges" x="217.99" y="270.94" width="10.07" height="10.42" fill="#039181"/>
<rect shape-rendering="crispEdges" x="227.75" y="270.94" width="10.07" height="10.42" fill="#039181"/>
<rect shape-rendering="crispEdges" x="237.52" y="270.94" width="10.07" height="10.42" fill="#039181"/>
<rect shape-rendering="crispEdges" x="247.29" y="270.94" width="10.07" height="10.42" fill="#039181"/>
<rect shape-rendering="crispEdges" x="257.05" y="270.94" width="10.07" height="10.42" fill="#039181"/>
<rect shape-rendering="crispEdges" x="266.82" y="270.94" width="10.07" height="10.42" fill="#039181"/>
<rect shape-rendering="crispEdges" x="276.58" y="270.94" width="10.07" height="10.42" fill="#05868f"/>
<rect shape-rendering="crispEdges" x="286.35" y="270.94" width="10.07" height="10.42" fill="#05868f"/>
<rect shape-rendering="crispEdges" x="296.11" y="270.94" width="10.07" height="10.42" fill="#05868f"/>
<rect shape-rendering="crispEdges" x="305.88" y="270.94" width="10.07" height="10.42" fill="#05868f"/>
<rect shape-rendering="crispEdges" x="315.65" y="270.94" width="10.07" height="10.42" fill="#039181"/>
<rect shape-rendering="crispEdges" x="325.41" y="270.94" width="10.07" height="10.42" fill="#039181"/>
<rect shape-rendering="crispEdges" x="335.18" y="270.94" width="10.07" height="10.42" fill="#039181"/>
<rect shape-rendering="crispEdges" x="344.94" y="270.94" width="10.07" height="10.42" fill="#039181"/>
<rect shape-rendering="crispEdges" x="354.71" y="270.94" width="10.07" height="10.42" fill="#039181"/>
<rect shape-rendering="crispEdges" x="364.48" y="270.94" width="10.07" height="10.42" fill="#039181"/>
<rect shape-rendering="crispEdges" x="374.24" y="270.94" width="10.07" height="10.42" fill="#039181"/>
<rect shape-rendering="crispEdges" x="384.01" y="270.94" width="10.07" height="10.42" fill="#039181"/>
<rect shape-rendering="crispEdges" x="393.77" y="270.94" width="10.07" height="10.42" fill="#039181"/>
<rect shape-rendering="crispEdges" x="403.54" y="270.94" width="10.07" height="10.42" fill="#039181"/>
<rect shape-rendering="crispEdges" x="413.31" y="270.94" width="10.07" height="10.42" fill="#039181"/>
<rect shape-rendering="crispEdges" x="423.07" y="270.94" width="10.07" height="10.42" fill="#039181"/>
<rect shape-rendering="crispEdges" x="432.84" y="270.94" width="10.07" height="10.42" fill="#039181"/>
<rect shape-rendering="crispEdges" x="442.60" y="270.94" width="10.07" height="10.42" fill="#039181"/>
<rect shape-rendering="crispEdges" x="452.37" y="270.94" width="10.07" height="10.42" fill="#039181"/>
<rect shape-rendering="crispEdges" x="462.14" y="270.94" width="10.07" height="10.42" fill="#05868f"/>
<rect shape-rendering="crispEdges" x="471.90" y="270.94" width="10.07" height="10.42" fill="#05868f"/>
<rect shape-rendering="crispEdges" x="481.67" y="270.94" width="10.07" height="10.42" fill="#05868f"/>
<rect shape-rendering="crispEdges" x="491.43" y="270.94" width="10.07" height="10.42" fill="#05868f"/>
<rect shape-rendering="crispEdges" x="42.20" y="281.05" width="10.07" height="10.42" fill="#019876"/>
<rect shape-rendering="crispEdges" x="51.97" y="281.05" width="10.07" height="10.42" fill="#019876"/>
<rect shape-rendering="crispEdges" x="61.73" y="281.05" width="10.07" height="10.42" fill="#019876"/>
<rect shape-rendering="crispEdges" x="71.50" y="281.05" width="10.07" height="10.42" fill="#019876"/>
<rect shape-rendering="crispEdges" x="81.26" y="281.05" width="10.07" height="10.42" fill="#019876"/>
<rect shape-rendering="crispEdges" x="91.03" y="281.05" width="10.07" height="10.42" fill="#019876"/>
<rect shape-rendering="crispEdges" x="100.80" y="281.05" width="10.07" height="10.42" fill="#019876"/>
<rect shape-rendering="crispEdges" x="110.56" y="281.05" width="10.07" height="10.42" fill="#019876"/>
<rect shape-rendering="crispEdges" x="120.33" y="281.05" width="10.07" height="10.42" fill="#019876"/>
<rect shape-rendering="crispEdges" x="130.09" y="281.05" width="10.07" height="10.42" fill="#019876"/>
<rect shape-rendering="crispEdges" x="139.86" y="281.05" width="10.07" height="10.42" fill="#019876"/>
<rect shape-rendering="crispEdges" x="149.63" y="281.05" width="10.07" height="10.42" fill="#019876"/>
<rect shape-rendering="crispEdges" x="159.39" y="281.05" width="10.07" height="10.42" fill="#039181"/>
<rect shape-rendering="crispEdges" x="169.16" y="281.05" width="10.07" height="10.42" fill="#039181"/>
<rect shape-rendering="crispEdges" x="178.92" y="281.05" width="10.07" height="10.42" fill="#039181"/>
<rect shape-rendering="crispEdges" x="188.69" y="281.05" width="10.07" height="10.42" fill="#039181"/>
<rect shape-rendering="crispEdges" x="198.46" y="281.05" width="10.07" height="10.42" fill="#2486c8"/>
<rect shape-rendering="crispEdges" x="208.22" y="281.05" width="10.07" height="10.42" fill="#50a8e0"/>
<rect shape-rendering="crispEdges" x="217.99" y="281.05" width="10.07" height="10.42" fill="#039181"/>
<rect shape-rendering="crispEdges" x="227.75" y="281.05" width="10.07" height="10.42" fill="#039181"/>
<rect shape-rendering="crispEdges" x="237.52" y="281.05" width="10.07" height="10.42" fill="#039181"/>
<rect shape-rendering="crispEdges" x="247.29" y="281.05" width="10.07" height="10.42" fill="#039181"/>
<rect shape-rendering="crispEdges" x="257.05" y="281.05" width="10.07" height="10.42" fill="#039181"/>
<rect shape-rendering="crispEdges" x="266.82" y="281.05" width="10.07" height="10.42" fill="#039181"/>
<rect shape-rendering="crispEdges" x="276.58" y="281.05" width="10.07" height="10.42" fill="#05868f"/>
<rect shape-rendering="crispEdges" x="286.35" y="281.05" width="10.07" height="10.42" fill="#05868f"/>
<rect shape-rendering="crispEdges" x="296.11" y="281.05" width="10.07" height="10.42" fill="#05868f"/>
<rect shape-rendering="crispEdges" x="305.88" y="281.05" width="10.07" height="10.42" fill="#039181"/>
<rect shape-rendering="crispEdges" x="315.65" y="281.05" width="10.07" height="10.42" fill="#039181"/>
<rect shape-rendering="crispEdges" x="325.41" y="281.05" width="10.07" height="10.42" fill="#039181"/>
<rect shape-rendering="crispEdges" x="335.18" y="281.05" width="10.07" height="10.42" fill="#039181"/>
<rect shape-rendering="crispEdges" x="344.94" y="281.05" width="10.07" height="10.42" fill="#039181"/>
<rect shape-rendering="crispEdges" x="354.71" y="281.05" width="10.07" height="10.42" fill="#039181"/>
<rect shape-rendering="crispEdges" x="364.48" y="281.05" width="10.07" height="10.42" fill="#039181"/>
<rect shape-rendering="crispEdges" x="374.24" y="281.05" width="10.07" height="10.42" fill="#039181"/>
<rect shape-rendering="crispEdges" x="384.01" y="281.05" width="10.07" height="10.42" fill="#039181"/>
<rect shape-rendering="crispEdges" x="393.77" y="281.05" width="10.07" height="10.42" fill="#039181"/>
<rect shape-rendering="crispEdges" x="403.54" y="281.05" width="10.07" height="10.42" fill="#039181"/>
<rect shape-rendering="crispEdges" x="413.31" y="281.05" width="10.07" height="10.42" fill="#039181"/>
<rect shape-rendering="crispEdges" x="423.07" y="281.05" width="10.07" height="10.42" fill="#039181"/>
<rect shape-rendering="crispEdges" x="432.84" y="281.05" width="10.07" height="10.42" fill="#039181"/>
<rect shape-rendering="crispEdges" x="442.60" y="281.05" width="10.07" height="10.42" fill="#039181"/>
<rect shape-rendering="crispEdges" x="452.37" y="281.05" width="10.07" height="10.42" fill="#039181"/>
<rect shape-rendering="crispEdges" x="462.14" y="281.05" width="10.07" height="10.42" fill="#039181"/>
<rect shape-rendering="crispEdges" x="471.90" y="281.05" width="10.07" height="10.42" fill="#039181"/>
<rect shape-rendering="crispEdges" x="481.67" y="281.05" width="10.07" height="10.42" fill="#039181"/>
<rect shape-rendering="crispEdges" x="491.43" y="281.05" width="10.07" height="10.42" fill="#05868f"/>
<rect shape-rendering="crispEdges" x="42.20" y="291.17" width="10.07" height="10.42" fill="#019876"/>
<rect shape-rendering="crispEdges" x="51.97" y="291.17" width="10.07" height="10.42" fill="#019876"/>
<rect shape-rendering="crispEdges" x="61.73" y="291.17" width="10.07" height="10.42" fill="#019876"/>
<rect shape-rendering="crispEdges" x="71.50" y="291.17" width="10.07" height="10.42" fill="#019876"/>
<rect shape-rendering="crispEdges" x="81.26" y="291.17" width="10.07" height="10.42" fill="#019876"/>
<rect shape-rendering="crispEdges" x="91.03" y="291.17" width="10.07" height="10.42" fill="#019876"/>
<rect shape-rendering="crispEdges" x="100.80" y="291.17" width="10.07" height="10.42" fill="#40aa66"/>
<rect shape-rendering="crispEdges" x="110.56" y="291.17" width="10.07" height="10.42" fill="#40aa66"/>
<rect shape-rendering="crispEdges" x="120.33" y="291.17" width="10.07" height="10.42" fill="#019876"/>
<rect shape-rendering="crispEdges" x="130.09" y="291.17" width="10.07" height="10.42" fill="#019876"/>
<rect shape-rendering="crispEdges" x="139.86" y="291.17" width="10.07" height="10.42" fill="#019876"/>
<rect shape-rendering="crispEdges" x="149.63" y="291.17" width="10.07" height="10.42" fill="#019876"/>
<rect shape-rendering="crispEdges" x="159.39" y="291.17" width="10.07" height="10.42" fill="#019876"/>
<rect shape-rendering="crispEdges" x="169.16" y="291.17" width="10.07" height="10.42" fill="#039181"/>
<rect shape-rendering="crispEdges" x="178.92" y="291.17" width="10.07" height="10.42" fill="#039181"/>
<rect shape-rendering="crispEdges" x="188.69" y="291.17" width="10.07" height="10.42" fill="#039181"/>
<rect shape-rendering="crispEdges" x="198.46" y="291.17" width="10.07" height="10.42" fill="#039181"/>
<rect shape-rendering="crispEdges" x="208.22" y="291.17" width="10.07" height="10.42" fill="#05868f"/>
<rect shape-rendering="crispEdges" x="217.99" y="291.17" width="10.07" height="10.42" fill="#05868f"/>
<rect shape-rendering="crispEdges" x="227.75" y="291.17" width="10.07" height="10.42" fill="#039181"/>
<rect shape-rendering="crispEdges" x="237.52" y="291.17" width="10.07" height="10.42" fill="#039181"/>
<rect shape-rendering="crispEdges" x="247.29" y="291.17" width="10.07" height="10.42" fill="#039181"/>
<rect shape-rendering="crispEdges" x="257.05" y="291.17" width="10.07" height="10.42" fill="#039181"/>
<rect shape-rendering="crispEdges" x="266.82" y="291.17" width="10.07" height="10.42" fill="#039181"/>
<rect shape-rendering="crispEdges" x="276.58" y="291.17" width="10.07" height="10.42" fill="#05868f"/>
<rect shape-rendering="crispEdges" x="286.35" y="291.17" width="10.07" height="10.42" fill="#039181"/>
<rect shape-rendering="crispEdges" x="296.11" y="291.17" width="10.07" height="10.42" fill="#039181"/>
<rect shape-rendering="crispEdges" x="305.88" y="291.17" width="10.07" height="10.42" fill="#039181"/>
<rect shape-rendering="crispEdges" x="315.65" y="291.17" width="10.07" height="10.42" fill="#039181"/>
<rect shape-rendering="crispEdges" x="325.41" y="291.17" width="10.07" height="10.42" fill="#039181"/>
<rect shape-rendering="crispEdges" x="335.18" y="291.17" width="10.07" height="10.42" fill="#039181"/>
<rect shape-rendering="crispEdges" x="344.94" y="291.17" width="10.07" height="10.42" fill="#039181"/>
<rect shape-rendering="crispEdges" x="354.71" y="291.17" width="10.07" height="10.42" fill="#039181"/>
<rect shape-rendering="crispEdges" x="364.48" y="291.17" width="10.07" height="10.42" fill="#039181"/>
<rect shape-rendering="crispEdges" x="374.24" y="291.17" width="10.07" height="10.42" fill="#039181"/>
<rect shape-rendering="crispEdges" x="384.01" y="291.17" width="10.07" height="10.42" fill="#039181"/>
<rect shape-rendering="crispEdges" x="393.77" y="291.17" width="10.07" height="10.42" fill="#039181"/>
<rect shape-rendering="crispEdges" x="403.54" y="291.17" width="10.07" height="10.42" fill="#039181"/>
<rect shape-rendering="crispEdges" x="413.31" y="291.17" width="10.07" height="10.42" fill="#039181"/>
<rect shape-rendering="crispEdges" x="423.07" y="291.17" width="10.07" height="10.42" fill="#039181"/>
<rect shape-rendering="crispEdges" x="432.84" y="291.17" width="10.07" height="10.42" fill="#039181"/>
<rect shape-rendering="crispEdges" x="442.60" y="291.17" width="10.07" height="10.42" fill="#039181"/>
<rect shape-rendering="crispEdges" x="452.37" y="291.17" width="10.07" height="10.42" fill="#039181"/>
<rect shape-rendering="crispEdges" x="462.14" y="291.17" width="10.07" height="10.42" fill="#039181"/>
<rect shape-rendering="crispEdges" x="471.90" y="291.17" width="10.07" height="10.42" fill="#039181"/>
<rect shape-rendering="crispEdges" x="481.67" y="291.17" width="10.07" height="10.42" fill="#039181"/>
<rect shape-rendering="crispEdges" x="491.43" y="291.17" width="10.07" height="10.42" fill="#039181"/>
<rect shape-rendering="crispEdges" x="42.20" y="301.29" width="10.07" height="10.42" fill="#019876"/>
<rect shape-rendering="crispEdges" x="51.97" y="301.29" width="10.07" height="10.42" fill="#019876"/>
<rect shape-rendering="crispEdges" x="61.73" y="301.29" width="10.07" height="10.42" fill="#019876"/>
<rect shape-rendering="crispEdges" x="71.50" y="301.29" width="10.07" height="10.42" fill="#019876"/>
<rect shape-rendering="crispEdges" x="81.26" y="301.29" width="10.07" height="10.42" fill="#019876"/>
<rect shape-rendering="crispEdges" x="91.03" y="301.29" width="10.07" height="10.42" fill="#019876"/>
<rect shape-rendering="crispEdges" x="100.80" y="301.29" width="10.07" height="10.42" fill="#40aa66"/>
<rect shape-rendering="crispEdges" x="110.56" y="301.29" width="10.07" height="10.42" fill="#40aa66"/>
<rect shape-rendering="crispEdges" x="120.33" y="301.29" width="10.07" height="10.42" fill="#019876"/>
<rect shape-rendering="crispEdges" x="130.09" y="301.29" width="10.07" height="10.42" fill="#019876"/>
<rect shape-rendering="crispEdges" x="139.86" y="301.29" width="10.07" height="10.42" fill="#019876"/>
<rect shape-rendering="crispEdges" x="149.63" y="301.29" width="10.07" height="10.42" fill="#019876"/>
<rect shape-rendering="crispEdges" x="159.39" y="301.29" width="10.07" height="10.42" fill="#019876"/>
<rect shape-rendering="crispEdges" x="169.16" y="301.29" width="10.07" height="10.42" fill="#019876"/>
<rect shape-rendering="crispEdges" x="178.92" y="301.29" width="10.07" height="10.42" fill="#039181"/>
<rect shape-rendering="crispEdges" x="188.69" y="301.29" width="10.07" height="10.42" fill="#039181"/>
<rect shape-rendering="crispEdges" x="198.46" y="301.29" width="10.07" height="10.42" fill="#039181"/>
<rect shape-rendering="crispEdges" x="208.22" y="301.29" width="10.07" height="10.42" fill="#039181"/>
<rect shape-rendering="crispEdges" x="217.99" y="301.29" width="10.07" height="10.42" fill="#039181"/>
<rect shape-rendering="crispEdges" x="227.75" y="301.29" width="10.07" height="10.42" fill="#039181"/>
<rect shape-rendering="crispEdges" x="237.52" y="301.29" width="10.07" height="10.42" fill="#039181"/>
<rect shape-rendering="crispEdges" x="247.29" y="301.29" width="10.07" height="10.42" fill="#039181"/>
<rect shape-rendering="crispEdges" x="257.05" y="301.29" width="10.07" height="10.42" fill="#039181"/>
<rect shape-rendering="crispEdges" x="266.82" y="301.29" width="10.07" height="10.42" fill="#039181"/>
<rect shape-rendering="crispEdges" x="276.58" y="301.29" width="10.07" height="10.42" fill="#05868f"/>
<rect shape-rendering="crispEdges" x="286.35" y="301.29" width="10.07" height="10.42" fill="#039181"/>
<rect shape-rendering="crispEdges" x="296.11" y="301.29" width="10.07" height="10.42" fill="#039181"/>
<rect shape-rendering="crispEdges" x="305.88" y="301.29" width="10.07" height="10.42" fill="#039181"/>
<rect shape-rendering="crispEdges" x="315.65" y="301.29" width="10.07" height="10.42" fill="#039181"/>
<rect shape-rendering="crispEdges" x="325.41" y="301.29" width="10.07" height="10.42" fill="#039181"/>
<rect shape-rendering="crispEdges" x="335.18" y="301.29" width="10.07" height="10.42" fill="#039181"/>
<rect shape-rendering="crispEdges" x="344.94" y="301.29" width="10.07" height="10.42" fill="#039181"/>
<rect shape-rendering="crispEdges" x="354.71" y="301.29" width="10.07" height="10.42" fill="#039181"/>
<rect shape-rendering="crispEdges" x="364.48" y="301.29" width="10.07" height="10.42" fill="#039181"/>
<rect shape-rendering="crispEdges" x="374.24" y="301.29" width="10.07" height="10.42" fill="#039181"/>
<rect shape-rendering="crispEdges" x="384.01" y="301.29" width="10.07" height="10.42" fill="#039181"/>
<rect shape-rendering="crispEdges" x="393.77" y="301.29" width="10.07" height="10.42" fill="#039181"/>
<rect shape-rendering="crispEdges" x="403.54" y="301.29" width="10.07" height="10.42" fill="#039181"/>
<rect shape-rendering="crispEdges" x="413.31" y="301.29" width="10.07" height="10.42" fill="#039181"/>
<rect shape-rendering="crispEdges" x="423.07" y="301.29" width="10.07" height="10.42" fill="#039181"/>
<rect shape-rendering="crispEdges" x="432.84" y="301.29" width="10.07" height="10.42" fill="#039181"/>
<rect shape-rendering="crispEdges" x="442.60" y="301.29" width="10.07" height="10.42" fill="#039181"/>
<rect shape-rendering="crispEdges" x="452.37" y="301.29" width="10.07" height="10.42" fill="#039181"/>
<rect shape-rendering="crispEdges" x="462.14" y="301.29" width="10.07" height="10.42" fill="#039181"/>
<rect shape-rendering="crispEdges" x="471.90" y="301.29" width="10.07" height="10.42" fill="#039181"/>
<rect shape-rendering="crispEdges" x="481.67" y="301.29" width="10.07" height="10.42" fill="#039181"/>
<rect shape-rendering="crispEdges" x="491.43" y="301.29" width="10.07" height="10.42" fill="#039181"/>
<rect shape-rendering="crispEdges" x="42.20" y="311.41" width="10.07" height="10.42" fill="#019876"/>
<rect shape-rendering="crispEdges" x="51.97" y="311.41" width="10.07" height="10.42" fill="#019876"/>
<rect shape-rendering="crispEdges" x="61.73" y="311.41" width="10.07" height="10.42" fill="#019876"/>
<rect shape-rendering="crispEdges" x="71.50" y="311.41" width="10.07" height="10.42" fill="#019876"/>
<rect shape-rendering="crispEdges" x="81.26" y="311.41" width="10.07" height="10.42" fill="#019876"/>
<rect shape-rendering="crispEdges" x="91.03" y="311.41" width="10.07" height="10.42" fill="#019876"/>
<rect shape-rendering="crispEdges" x="100.80" y="311.41" width="10.07" height="10.42" fill="#019876"/>
<rect shape-rendering="crispEdges" x="110.56" y="311.41" width="10.07" height="10.42" fill="#019876"/>
<rect shape-rendering="crispEdges" x="120.33" y="311.41" width="10.07" height="10.42" fill="#019876"/>
<rect shape-rendering="crispEdges" x="130.09" y="311.41" width="10.07" height="10.42" fill="#019876"/>
<rect shape-rendering="crispEdges" x="139.86" y="311.41" width="10.07" height="10.42" fill="#019876"/>
<rect shape-rendering="crispEdges" x="149.63" y="311.41" width="10.07" height="10.42" fill="#05868f"/>
<rect shape-rendering="crispEdges" x="159.39" y="311.41" width="10.07" height="10.42" fill="#019876"/>
<rect shape-rendering="crispEdges" x="169.16" y="311.41" width="10.07" height="10.42" fill="#019876"/>
<rect shape-rendering="crispEdges" x="178.92" y="311.41" width="10.07" height="10.42" fill="#019876"/>
<rect shape-rendering="crispEdges" x="188.69" y="311.41" width="10.07" height="10.42" fill="#039181"/>
<rect shape-rendering="crispEdges" x="198.46" y="311.41" width="10.07" height="10.42" fill="#039181"/>
<rect shape-rendering="crispEdges" x="208.22" y="311.41" width="10.07" height="10.42" fill="#039181"/>
<rect shape-rendering="crispEdges" x="217.99" y="311.41" width="10.07" height="10.42" fill="#039181"/>
<rect shape-rendering="crispEdges" x="227.75" y="311.41" width="10.07" height="10.42" fill="#039181"/>
<rect shape-rendering="crispEdges" x="237.52" y="311.41" width="10.07" height="10.42" fill="#039181"/>
<rect shape-rendering="crispEdges" x="247.29" y="311.41" width="10.07" height="10.42" fill="#039181"/>
<rect shape-rendering="crispEdges" x="257.05" y="311.41" width="10.07" height="10.42" fill="#039181"/>
<rect shape-rendering="crispEdges" x="266.82" y="311.41" width="10.07" height="10.42" fill="#039181"/>
<rect shape-rendering="crispEdges" x="276.58" y="311.41" width="10.07" height="10.42" fill="#039181"/>
<rect shape-rendering="crispEdges" x="286.35" y="311.41" width="10.07" height="10.42" fill="#039181"/>
<rect shape-rendering="crispEdges" x="296.11" y="311.41" width="10.07" height="10.42" fill="#039181"/>
<rect shape-rendering="crispEdges" x="305.88" y="311.41" width="10.07" height="10.42" fill="#039181"/>
<rect shape-rendering="crispEdges" x="315.65" y="311.41" width="10.07" height="10.42" fill="#039181"/>
<rect shape-rendering="crispEdges" x="325.41" y="311.41" width="10.07" height="10.42" fill="#039181"/>
<rect shape-rendering="crispEdges" x="335.18" y="311.41" width="10.07" height="10.42" fill="#039181"/>
<rect shape-rendering="crispEdges" x="344.94" y="311.41" width="10.07" height="10.42" fill="#039181"/>
<rect shape-rendering="crispEdges" x="354.71" y="311.41" width="10.07" height="10.42" fill="#019876"/>
<rect shape-rendering="crispEdges" x="364.48" y="311.41" width="10.07" height="10.42" fill="#019876"/>
<rect shape-rendering="crispEdges" x="374.24" y="311.41" width="10.07" height="10.42" fill="#019876"/>
<rect shape-rendering="crispEdges" x="384.01" y="311.41" width="10.07" height="10.42" fill="#019876"/>
<rect shape-rendering="crispEdges" x="393.77" y="311.41" width="10.07" height="10.42" fill="#019876"/>
<rect shape-rendering="crispEdges" x="403.54" y="311.41" width="10.07" height="10.42" fill="#019876"/>
<rect shape-rendering="crispEdges" x="413.31" y="311.41" width="10.07" height="10.42" fill="#019876"/>
<rect shape-rendering="crispEdges" x="423.07" y="311.41" width="10.07" height="10.42" fill="#019876"/>
<rect shape-rendering="crispEdges" x="432.84" y="311.41" width="10.07" height="10.42" fill="#039181"/>
<rect shape-rendering="crispEdges" x="442.60" y="311.41" width="10.07" height="10.42" fill="#039181"/>
<rect shape-rendering="crispEdges" x="452.37" y="311.41" width="10.07" height="10.42" fill="#039181"/>
<rect shape-rendering="crispEdges" x="462.14" y="311.41" width="10.07" height="10.42" fill="#039181"/>
<rect shape-rendering="crispEdges" x="471.90" y="311.41" width="10.07" height="10.42" fill="#039181"/>
<rect shape-rendering="crispEdges" x="481.67" y="311.41" width="10.07" height="10.42" fill="#039181"/>
<rect shape-rendering="crispEdges" x="491.43" y="311.41" width="10.07" height="10.42" fill="#039181"/>
<rect shape-rendering="crispEdges" x="42.20" y="321.53" width="10.07" height="10.42" fill="#019876"/>
<rect shape-rendering="crispEdges" x="51.97" y="321.53" width="10.07" height="10.42" fill="#019876"/>
<rect shape-rendering="crispEdges" x="61.73" y="321.53" width="10.07" height="10.42" fill="#019876"/>
<rect shape-rendering="crispEdges" x="71.50" y="321.53" width="10.07" height="10.42" fill="#019876"/>
<rect shape-rendering="crispEdges" x="81.26" y="321.53" width="10.07" height="10.42" fill="#019876"/>
<rect shape-rendering="crispEdges" x="91.03" y="321.53" width="10.07" height="10.42" fill="#019876"/>
<rect shape-rendering="crispEdges" x="100.80" y="321.53" width="10.07" height="10.42" fill="#019876"/>
<rect shape-rendering="crispEdges" x="110.56" y="321.53" width="10.07" height="10.42" fill="#019876"/>
<rect shape-rendering="crispEdges" x="120.33" y="321.53" width="10.07" height="10.42" fill="#05868f"/>
<rect shape-rendering="crispEdges" x="130.09" y="321.53" width="10.07" height="10.42" fill="#019876"/>
<rect shape-rendering="crispEdges" x="139.86" y="321.53" width="10.07" height="10.42" fill="#019876"/>
<rect shape-rendering="crispEdges" x="149.63" y="321.53" width="10.07" height="10.42" fill="#019876"/>
<rect shape-rendering="crispEdges" x="159.39" y="321.53" width="10.07" height="10.42" fill="#019876"/>
<rect shape-rendering="crispEdges" x="169.16" y="321.53" width="10.07" height="10.42" fill="#019876"/>
<rect shape-rendering="crispEdges" x="178.92" y="321.53" width="10.07" height="10.42" fill="#019876"/>
<rect shape-rendering="crispEdges" x="188.69" y="321.53" width="10.07" height="10.42" fill="#019876"/>
<rect shape-rendering="crispEdges" x="198.46" y="321.53" width="10.07" height="10.42" fill="#039181"/>
<rect shape-rendering="crispEdges" x="208.22" y="321.53" width="10.07" height="10.42" fill="#039181"/>
<rect shape-rendering="crispEdges" x="217.99" y="321.53" width="10.07" height="10.42" fill="#039181"/>
<rect shape-rendering="crispEdges" x="227.75" y="321.53" width="10.07" height="10.42" fill="#039181"/>
<rect shape-rendering="crispEdges" x="237.52" y="321.53" width="10.07" height="10.42" fill="#039181"/>
<rect shape-rendering="crispEdges" x="247.29" y="321.53" width="10.07" height="10.42" fill="#039181"/>
<rect shape-rendering="crispEdges" x="257.05" y="321.53" width="10.07" height="10.42" fill="#039181"/>
<rect shape-rendering="crispEdges" x="266.82" y="321.53" width="10.07" height="10.42" fill="#039181"/>
<rect shape-rendering="crispEdges" x="276.58" y="321.53" width="10.07" height="10.42" fill="#039181"/>
<rect shape-rendering="crispEdges" x="286.35" y="321.53" width="10.07" height="10.42" fill="#039181"/>
<rect shape-rendering="crispEdges" x="296.11" y="321.53" width="10.07" height="10.42" fill="#039181"/>
<rect shape-rendering="crispEdges" x="305.88" y="321.53" width="10.07" height="10.42" fill="#039181"/>
<rect shape-rendering="crispEdges" x="315.65" y="321.53" width="10.07" height="10.42" fill="#039181"/>
<rect shape-rendering="crispEdges" x="325.41" y="321.53" width="10.07" height="10.42" fill="#019876"/>
<rect shape-rendering="crispEdges" x="335.18" y="321.53" width="10.07" height="10.42" fill="#019876"/>
<rect shape-rendering="crispEdges" x="344.94" y="321.53" width="10.07" height="10.42" fill="#019876"/>
<rect shape-rendering="crispEdges" x="354.71" y="321.53" width="10.07" height="10.42" fill="#019876"/>
<rect shape-rendering="crispEdges" x="364.48" y="321.53" width="10.07" height="10.42" fill="#019876"/>
<rect shape-rendering="crispEdges" x="374.24" y="321.53" width="10.07" height="10.42" fill="#019876"/>
<rect shape-rendering="crispEdges" x="384.01" y="321.53" width="10.07" height="10.42" fill="#019876"/>
<rect shape-rendering="crispEdges" x="393.77" y="321.53" width="10.07" height="10.42" fill="#019876"/>
<rect shape-rendering="crispEdges" x="403.54" y="321.53" width="10.07" height="10.42" fill="#019876"/>
<rect shape-rendering="crispEdges" x="413.31" y="321.53" width="10.07" height="10.42" fill="#019876"/>
<rect shape-rendering="crispEdges" x="423.07" y="321.53" width="10.07" height="10.42" fill="#019876"/>
<rect shape-rendering="crispEdges" x="432.84" y="321.53" width="10.07" height="10.42" fill="#019876"/>
<rect shape-rendering="crispEdges" x="442.60" y="321.53" width="10.07" height="10.42" fill="#039181"/>
<rect shape-rendering="crispEdges" x="452.37" y="321.53" width="10.07" height="10.42" fill="#039181"/>
<rect shape-rendering="crispEdges" x="462.14" y="321.53" width="10.07" height="10.42" fill="#039181"/>
<rect shape-rendering="crispEdges" x="471.90" y="321.53" width="10.07" height="10.42" fill="#039181"/>
<rect shape-rendering="crispEdges" x="481.67" y="321.53" width="10.07" height="10.42" fill="#039181"/>
<rect shape-rendering="crispEdges" x="491.43" y="321.53" width="10.07" height="10.42" fill="#039181"/>
<rect shape-rendering="crispEdges" x="42.20" y="331.65" width="10.07" height="10.42" fill="#019876"/>
<rect shape-rendering="crispEdges" x="51.97" y="331.65" width="10.07" height="10.42" fill="#019876"/>
<rect shape-rendering="crispEdges" x="61.73" y="331.65" width="10.07" height="10.42" fill="#019876"/>
<rect shape-rendering="crispEdges" x="71.50" y="331.65" width="10.07" height="10.42" fill="#019876"/>
<rect shape-rendering="crispEdges" x="81.26" y="331.65" width="10.07" height="10.42" fill="#019876"/>
<rect shape-rendering="crispEdges" x="91.03" y="331.65" width="10.07" height="10.42" fill="#019876"/>
<rect shape-rendering="crispEdges" x="100.80" y="331.65" width="10.07" height="10.42" fill="#019876"/>
<rect shape-rendering="crispEdges" x="110.56" y="331.65" width="10.07" height="10.42" fill="#019876"/>
<rect shape-rendering="crispEdges" x="120.33" y="331.65" width="10.07" height="10.42" fill="#019876"/>
<rect shape-rendering="crispEdges" x="130.09" y="331.65" width="10.07" height="10.42" fill="#019876"/>
<rect shape-rendering="crispEdges" x="139.86" y="331.65" width="10.07" height="10.42" fill="#019876"/>
<rect shape-rendering="crispEdges" x="149.63" y="331.65" width="10.07" height="10.42" fill="#019876"/>
<rect shape-rendering="crispEdges" x="159.39" y="331.65" width="10.07" height="10.42" fill="#019876"/>
<rect shape-rendering="crispEdges" x="169.16" y="331.65" width="10.07" height="10.42" fill="#019876"/>
<rect shape-rendering="crispEdges" x="178.92" y="331.65" width="10.07" height="10.42" fill="#019876"/>
<rect shape-rendering="crispEdges" x="188.69" y="331.65" width="10.07" height="10.42" fill="#019876"/>
<rect shape-rendering="crispEdges" x="198.46" y="331.65" width="10.07" height="10.42" fill="#019876"/>
<rect shape-rendering="crispEdges" x="208.22" y="331.65" width="10.07" height="10.42" fill="#039181"/>
<rect shape-rendering="crispEdges" x="217.99" y="331.65" width="10.07" height="10.42" fill="#039181"/>
<rect shape-rendering="crispEdges" x="227.75" y="331.65" width="10.07" height="10.42" fill="#039181"/>
<rect shape-rendering="crispEdges" x="237.52" y="331.65" width="10.07" height="10.42" fill="#039181"/>
<rect shape-rendering="crispEdges" x="247.29" y="331.65" width="10.07" height="10.42" fill="#039181"/>
<rect shape-rendering="crispEdges" x="257.05" y="331.65" width="10.07" height="10.42" fill="#039181"/>
<rect shape-rendering="crispEdges" x="266.82" y="331.65" width="10.07" height="10.42" fill="#019876"/>
<rect shape-rendering="crispEdges" x="276.58" y="331.65" width="10.07" height="10.42" fill="#039181"/>
<rect shape-rendering="crispEdges" x="286.35" y="331.65" width="10.07" height="10.42" fill="#039181"/>
<rect shape-rendering="crispEdges" x="296.11" y="331.65" width="10.07" height="10.42" fill="#019876"/>
<rect shape-rendering="crispEdges" x="305.88" y="331.65" width="10.07" height="10.42" fill="#019876"/>
<rect shape-rendering="crispEdges" x="315.65" y="331.65" width="10.07" height="10.42" fill="#019876"/>
<rect shape-rendering="crispEdges" x="325.41" y="331.65" width="10.07" height="10.42" fill="#019876"/>
<rect shape-rendering="crispEdges" x="335.18" y="331.65" width="10.07" height="10.42" fill="#019876"/>
<rect shape-rendering="crispEdges" x="344.94" y="331.65" width="10.07" height="10.42" fill="#019876"/>
<rect shape-rendering="crispEdges" x="354.71" y="331.65" width="10.07" height="10.42" fill="#019876"/>
<rect shape-rendering="crispEdges" x="364.48" y="331.65" width="10.07" height="10.42" fill="#019876"/>
<rect shape-rendering="crispEdges" x="374.24" y="331.65" width="10.07" height="10.42" fill="#019876"/>
<rect shape-rendering="crispEdges" x="384.01" y="331.65" width="10.07" height="10.42" fill="#019876"/>
<rect shape-rendering="crispEdges" x="393.77" y="331.65" width="10.07" height="10.42" fill="#019876"/>
<rect shape-rendering="crispEdges" x="403.54" y="331.65" width="10.07" height="10.42" fill="#019876"/>
<rect shape-rendering="crispEdges" x="413.31" y="331.65" width="10.07" height="10.42" fill="#019876"/>
<rect shape-rendering="crispEdges" x="423.07" y="331.65" width="10.07" height="10.42" fill="#019876"/>
<rect shape-rendering="crispEdges" x="432.84" y="331.65" width="10.07" height="10.42" fill="#019876"/>
<rect shape-rendering="crispEdges" x="442.60" y="331.65" width="10.07" height="10.42" fill="#019876"/>
<rect shape-rendering="crispEdges" x="452.37" y="331.65" width="10.07" height="10.42" fill="#039181"/>
<rect shape-rendering="crispEdges" x="462.14" y="331.65" width="10.07" height="10.42" fill="#039181"/>
<rect shape-rendering="crispEdges" x="471.90" y="331.65" width="10.07" height="10.42" fill="#039181"/>
<rect shape-rendering="crispEdges" x="481.67" y="331.65" width="10.07" height="10.42" fill="#039181"/>
<rect shape-rendering="crispEdges" x="491.43" y="331.65" width="10.07" height="10.42" fill="#039181"/>
<rect shape-rendering="crispEdges" x="42.20" y="341.77" width="10.07" height="10.42" fill="#019876"/>
<rect shape-rendering="crispEdges" x="51.97" y="341.77" width="10.07" height="10.42" fill="#40aa66"/>
<rect shape-rendering="crispEdges" x="61.73" y="341.77" width="10.07" height="10.42" fill="#019876"/>
<rect shape-rendering="crispEdges" x="71.50" y="341.77" width="10.07" height="10.42" fill="#40aa66"/>
<rect shape-rendering="crispEdges" x="81.26" y="341.77" width="10.07" height="10.42" fill="#40aa66"/>
<rect shape-rendering="crispEdges" x="91.03" y="341.77" width="10.07" height="10.42" fill="#019876"/>
<rect shape-rendering="crispEdges" x="100.80" y="341.77" width="10.07" height="10.42" fill="#019876"/>
<rect shape-rendering="crispEdges" x="110.56" y="341.77" width="10.07" height="10.42" fill="#019876"/>
<rect shape-rendering="crispEdges" x="120.33" y="341.77" width="10.07" height="10.42" fill="#019876"/>
<rect shape-rendering="crispEdges" x="130.09" y="341.77" width="10.07" height="10.42" fill="#05868f"/>
<rect shape-rendering="crispEdges" x="139.86" y="341.77" width="10.07" height="10.42" fill="#05868f"/>
<rect shape-rendering="crispEdges" x="149.63" y="341.77" width="10.07" height="10.42" fill="#019876"/>
<rect shape-rendering="crispEdges" x="159.39" y="341.77" width="10.07" height="10.42" fill="#019876"/>
<rect shape-rendering="crispEdges" x="169.16" y="341.77" width="10.07" height="10.42" fill="#019876"/>
<rect shape-rendering="crispEdges" x="178.92" y="341.77" width="10.07" height="10.42" fill="#019876"/>
<rect shape-rendering="crispEdges" x="188.69" y="341.77" width="10.07" height="10.42" fill="#019876"/>
<rect shape-rendering="crispEdges" x="198.46" y="341.77" width="10.07" height="10.42" fill="#019876"/>
<rect shape-rendering="crispEdges" x="208.22" y="341.77" width="10.07" height="10.42" fill="#019876"/>
<rect shape-rendering="crispEdges" x="217.99" y="341.77" width="10.07" height="10.42" fill="#019876"/>
<rect shape-rendering="crispEdges" x="227.75" y="341.77" width="10.07" height="10.42" fill="#05868f"/>
<rect shape-rendering="crispEdges" x="237.52" y="341.77" width="10.07" height="10.42" fill="#05868f"/>
<rect shape-rendering="crispEdges" x="247.29" y="341.77" width="10.07" height="10.42" fill="#05868f"/>
<rect shape-rendering="crispEdges" x="257.05" y="341.77" width="10.07" height="10.42" fill="#019876"/>
<rect shape-rendering="crispEdges" x="266.82" y="341.77" width="10.07" height="10.42" fill="#019876"/>
<rect shape-rendering="crispEdges" x="276.58" y="341.77" width="10.07" height="10.42" fill="#039181"/>
<rect shape-rendering="crispEdges" x="286.35" y="341.77" width="10.07" height="10.42" fill="#039181"/>
<rect shape-rendering="crispEdges" x="296.11" y="341.77" width="10.07" height="10.42" fill="#019876"/>
<rect shape-rendering="crispEdges" x="305.88" y="341.77" width="10.07" height="10.42" fill="#019876"/>
<rect shape-rendering="crispEdges" x="315.65" y="341.77" width="10.07" height="10.42" fill="#019876"/>
<rect shape-rendering="crispEdges" x="325.41" y="341.77" width="10.07" height="10.42" fill="#019876"/>
<rect shape-rendering="crispEdges" x="335.18" y="341.77" width="10.07" height="10.42" fill="#019876"/>
<rect shape-rendering="crispEdges" x="344.94" y="341.77" width="10.07" height="10.42" fill="#019876"/>
<rect shape-rendering="crispEdges" x="354.71" y="341.77" width="10.07" height="10.42" fill="#019876"/>
<rect shape-rendering="crispEdges" x="364.48" y="341.77" width="10.07" height="10.42" fill="#019876"/>
<rect shape-rendering="crispEdges" x="374.24" y="341.77" width="10.07" height="10.42" fill="#019876"/>
<rect shape-rendering="crispEdges" x="384.01" y="341.77" width="10.07" height="10.42" fill="#019876"/>
<rect shape-rendering="crispEdges" x="393.77" y="341.77" width="10.07" height="10.42" fill="#019876"/>
<rect shape-rendering="crispEdges" x="403.54" y="341.77" width="10.07" height="10.42" fill="#019876"/>
<rect shape-rendering="crispEdges" x="413.31" y="341.77" width="10.07" height="10.42" fill="#019876"/>
<rect shape-rendering="crispEdges" x="423.07" y="341.77" width="10.07" height="10.42" fill="#019876"/>
<rect shape-rendering="crispEdges" x="432.84" y="341.77" width="10.07" height="10.42" fill="#019876"/>
<rect shape-rendering="crispEdges" x="442.60" y="341.77" width="10.07" height="10.42" fill="#019876"/>
<rect shape-rendering="crispEdges" x="452.37" y="341.77" width="10.07" height="10.42" fill="#039181"/>
<rect shape-rendering="crispEdges" x="462.14" y="341.77" width="10.07" height="10.42" fill="#039181"/>
<rect shape-rendering="crispEdges" x="471.90" y="341.77" width="10.07" height="10.42" fill="#039181"/>
<rect shape-rendering="crispEdges" x="481.67" y="341.77" width="10.07" height="10.42" fill="#039181"/>
<rect shape-rendering="crispEdges" x="491.43" y="341.77" width="10.07" height="10.42" fill="#039181"/>
<rect shape-rendering="crispEdges" x="42.20" y="351.89" width="10.07" height="10.42" fill="#019876"/>
<rect shape-rendering="crispEdges" x="51.97" y="351.89" width="10.07" height="10.42" fill="#019876"/>
<rect shape-rendering="crispEdges" x="61.73" y="351.89" width="10.07" height="10.42" fill="#40aa66"/>
<rect shape-rendering="crispEdges" x="71.50" y="351.89" width="10.07" height="10.42" fill="#40aa66"/>
<rect shape-rendering="crispEdges" x="81.26" y="351.89" width="10.07" height="10.42" fill="#40aa66"/>
<rect shape-rendering="crispEdges" x="91.03" y="351.89" width="10.07" height="10.42" fill="#019876"/>
<rect shape-rendering="crispEdges" x="100.80" y="351.89" width="10.07" height="10.42" fill="#019876"/>
<rect shape-rendering="crispEdges" x="110.56" y="351.89" width="10.07" height="10.42" fill="#019876"/>
<rect shape-rendering="crispEdges" x="120.33" y="351.89" width="10.07" height="10.42" fill="#019876"/>
<rect shape-rendering="crispEdges" x="130.09" y="351.89" width="10.07" height="10.42" fill="#05868f"/>
<rect shape-rendering="crispEdges" x="139.86" y="351.89" width="10.07" height="10.42" fill="#05868f"/>
<rect shape-rendering="crispEdges" x="149.63" y="351.89" width="10.07" height="10.42" fill="#05868f"/>
<rect shape-rendering="crispEdges" x="159.39" y="351.89" width="10.07" height="10.42" fill="#019876"/>
<rect shape-rendering="crispEdges" x="169.16" y="351.89" width="10.07" height="10.42" fill="#019876"/>
<rect shape-rendering="crispEdges" x="178.92" y="351.89" width="10.07" height="10.42" fill="#019876"/>
<rect shape-rendering="crispEdges" x="188.69" y="351.89" width="10.07" height="10.42" fill="#019876"/>
<rect shape-rendering="crispEdges" x="198.46" y="351.89" width="10.07" height="10.42" fill="#019876"/>
<rect shape-rendering="crispEdges" x="208.22" y="351.89" width="10.07" height="10.42" fill="#019876"/>
<rect shape-rendering="crispEdges" x="217.99" y="351.89" width="10.07" height="10.42" fill="#019876"/>
<rect shape-rendering="crispEdges" x="227.75" y="351.89" width="10.07" height="10.42" fill="#019876"/>
<rect shape-rendering="crispEdges" x="237.52" y="351.89" width="10.07" height="10.42" fill="#019876"/>
<rect shape-rendering="crispEdges" x="247.29" y="351.89" width="10.07" height="10.42" fill="#019876"/>
<rect shape-rendering="crispEdges" x="257.05" y="351.89" width="10.07" height="10.42" fill="#019876"/>
<rect shape-rendering="crispEdges" x="266.82" y="351.89" width="10.07" height="10.42" fill="#019876"/>
<rect shape-rendering="crispEdges" x="276.58" y="351.89" width="10.07" height="10.42" fill="#039181"/>
<rect shape-rendering="crispEdges" x="286.35" y="351.89" width="10.07" height="10.42" fill="#039181"/>
<rect shape-rendering="crispEdges" x="296.11" y="351.89" width="10.07" height="10.42" fill="#18a36c"/>
<rect shape-rendering="crispEdges" x="305.88" y="351.89" width="10.07" height="10.42" fill="#18a36c"/>
<rect shape-rendering="crispEdges" x="315.65" y="351.89" width="10.07" height="10.42" fill="#18a36c"/>
<rect shape-rendering="crispEdges" x="325.41" y="351.89" width="10.07" height="10.42" fill="#019876"/>
<rect shape-rendering="crispEdges" x="335.18" y="351.89" width="10.07" height="10.42" fill="#019876"/>
<rect shape-rendering="crispEdges" x="344.94" y="351.89" width="10.07" height="10.42" fill="#019876"/>
<rect shape-rendering="crispEdges" x="354.71" y="351.89" width="10.07" height="10.42" fill="#019876"/>
<rect shape-rendering="crispEdges" x="364.48" y="351.89" width="10.07" height="10.42" fill="#019876"/>
<rect shape-rendering="crispEdges" x="374.24" y="351.89" width="10.07" height="10.42" fill="#019876"/>
<rect shape-rendering="crispEdges" x="384.01" y="351.89" width="10.07" height="10.42" fill="#019876"/>
<rect shape-rendering="crispEdges" x="393.77" y="351.89" width="10.07" height="10.42" fill="#019876"/>
<rect shape-rendering="crispEdges" x="403.54" y="351.89" width="10.07" height="10.42" fill="#019876"/>
<rect shape-rendering="crispEdges" x="413.31" y="351.89" width="10.07" height="10.42" fill="#019876"/>
<rect shape-rendering="crispEdges" x="423.07" y="351.89" width="10.07" height="10.42" fill="#019876"/>
<rect shape-rendering="crispEdges" x="432.84" y="351.89" width="10.07" height="10.42" fill="#019876"/>
<rect shape-rendering="crispEdges" x="442.60" y="351.89" width="10.07" height="10.42" fill="#019876"/>
<rect shape-rendering="crispEdges" x="452.37" y="351.89" width="10.07" height="10.42" fill="#039181"/>
<rect shape-rendering="crispEdges" x="462.14" y="351.89" width="10.07" height="10.42" fill="#039181"/>
<rect shape-rendering="crispEdges" x="471.90" y="351.89" width="10.07" height="10.42" fill="#039181"/>
<rect shape-rendering="crispEdges" x="481.67" y="351.89" width="10.07" height="10.42" fill="#039181"/>
<rect shape-rendering="crispEdges" x="491.43" y="351.89" width="10.07" height="10.42" fill="#039181"/>
<rect shape-rendering="crispEdges" x="42.20" y="362.01" width="10.07" height="10.42" fill="#019876"/>
<rect shape-rendering="crispEdges" x="51.97" y="362.01" width="10.07" height="10.42" fill="#019876"/>
<rect shape-rendering="crispEdges" x="61.73" y="362.01" width="10.07" height="10.42" fill="#019876"/>
<rect shape-rendering="crispEdges" x="71.50" y="362.01" width="10.07" height="10.42" fill="#019876"/>
<rect shape-rendering="crispEdges" x="81.26" y="362.01" width="10.07" height="10.42" fill="#019876"/>
<rect shape-rendering="crispEdges" x="91.03" y="362.01" width="10.07" height="10.42" fill="#019876"/>
<rect shape-rendering="crispEdges" x="100.80" y="362.01" width="10.07" height="10.42" fill="#019876"/>
<rect shape-rendering="crispEdges" x="110.56" y="362.01" width="10.07" height="10.42" fill="#019876"/>
<rect shape-rendering="crispEdges" x="120.33" y="362.01" width="10.07" height="10.42" fill="#05868f"/>
<rect shape-rendering="crispEdges" x="130.09" y="362.01" width="10.07" height="10.42" fill="#019876"/>
<rect shape-rendering="crispEdges" x="139.86" y="362.01" width="10.07" height="10.42" fill="#05868f"/>
<rect shape-rendering="crispEdges" x="149.63" y="362.01" width="10.07" height="10.42" fill="#019876"/>
<rect shape-rendering="crispEdges" x="159.39" y="362.01" width="10.07" height="10.42" fill="#019876"/>
<rect shape-rendering="crispEdges" x="169.16" y="362.01" width="10.07" height="10.42" fill="#40aa66"/>
<rect shape-rendering="crispEdges" x="178.92" y="362.01" width="10.07" height="10.42" fill="#019876"/>
<rect shape-rendering="crispEdges" x="188.69" y="362.01" width="10.07" height="10.42" fill="#019876"/>
<rect shape-rendering="crispEdges" x="198.46" y="362.01" width="10.07" height="10.42" fill="#019876"/>
<rect shape-rendering="crispEdges" x="208.22" y="362.01" width="10.07" height="10.42" fill="#019876"/>
<rect shape-rendering="crispEdges" x="217.99" y="362.01" width="10.07" height="10.42" fill="#019876"/>
<rect shape-rendering="crispEdges" x="227.75" y="362.01" width="10.07" height="10.42" fill="#019876"/>
<rect shape-rendering="crispEdges" x="237.52" y="362.01" width="10.07" height="10.42" fill="#019876"/>
<rect shape-rendering="crispEdges" x="247.29" y="362.01" width="10.07" height="10.42" fill="#019876"/>
<rect shape-rendering="crispEdges" x="257.05" y="362.01" width="10.07" height="10.42" fill="#019876"/>
<rect shape-rendering="crispEdges" x="266.82" y="362.01" width="10.07" height="10.42" fill="#019876"/>
<rect shape-rendering="crispEdges" x="276.58" y="362.01" width="10.07" height="10.42" fill="#039181"/>
<rect shape-rendering="crispEdges" x="286.35" y="362.01" width="10.07" height="10.42" fill="#18a36c"/>
<rect shape-rendering="crispEdges" x="296.11" y="362.01" width="10.07" height="10.42" fill="#18a36c"/>
<rect shape-rendering="crispEdges" x="305.88" y="362.01" width="10.07" height="10.42" fill="#18a36c"/>
<rect shape-rendering="crispEdges" x="315.65" y="362.01" width="10.07" height="10.42" fill="#019876"/>
<rect shape-rendering="crispEdges" x="325.41" y="362.01" width="10.07" height="10.42" fill="#019876"/>
<rect shape-rendering="crispEdges" x="335.18" y="362.01" width="10.07" height="10.42" fill="#019876"/>
<rect shape-rendering="crispEdges" x="344.94" y="362.01" width="10.07" height="10.42" fill="#019876"/>
<rect shape-rendering="crispEdges" x="354.71" y="362.01" width="10.07" height="10.42" fill="#019876"/>
<rect shape-rendering="crispEdges" x="364.48" y="362.01" width="10.07" height="10.42" fill="#019876"/>
<rect shape-rendering="crispEdges" x="374.24" y="362.01" width="10.07" height="10.42" fill="#019876"/>
<rect shape-rendering="crispEdges" x="384.01" y="362.01" width="10.07" height="10.42" fill="#019876"/>
<rect shape-rendering="crispEdges" x="393.77" y="362.01" width="10.07" height="10.42" fill="#019876"/>
<rect shape-rendering="crispEdges" x="403.54" y="362.01" width="10.07" height="10.42" fill="#019876"/>
<rect shape-rendering="crispEdges" x="413.31" y="362.01" width="10.07" height="10.42" fill="#019876"/>
<rect shape-rendering="crispEdges" x="423.07" y="362.01" width="10.07" height="10.42" fill="#019876"/>
<rect shape-rendering="crispEdges" x="432.84" y="362.01" width="10.07" height="10.42" fill="#019876"/>
<rect shape-rendering="crispEdges" x="442.60" y="362.01" width="10.07" height="10.42" fill="#019876"/>
<rect shape-rendering="crispEdges" x="452.37" y="362.01" width="10.07" height="10.42" fill="#039181"/>
<rect shape-rendering="crispEdges" x="462.14" y="362.01" width="10.07" height="10.42" fill="#039181"/>
<rect shape-rendering="crispEdges" x="471.90" y="362.01" width="10.07" height="10.42" fill="#039181"/>
<rect shape-rendering="crispEdges" x="481.67" y="362.01" width="10.07" height="10.42" fill="#039181"/>
<rect shape-rendering="crispEdges" x="491.43" y="362.01" width="10.07" height="10.42" fill="#039181"/>
<rect shape-rendering="crispEdges" x="42.20" y="372.12" width="10.07" height="10.42" fill="#019876"/>
<rect shape-rendering="crispEdges" x="51.97" y="372.12" width="10.07" height="10.42" fill="#019876"/>
<rect shape-rendering="crispEdges" x="61.73" y="372.12" width="10.07" height="10.42" fill="#019876"/>
<rect shape-rendering="crispEdges" x="71.50" y="372.12" width="10.07" height="10.42" fill="#019876"/>
<rect shape-rendering="crispEdges" x="81.26" y="372.12" width="10.07" height="10.42" fill="#019876"/>
<rect shape-rendering="crispEdges" x="91.03" y="372.12" width="10.07" height="10.42" fill="#019876"/>
<rect shape-rendering="crispEdges" x="100.80" y="372.12" width="10.07" height="10.42" fill="#019876"/>
<rect shape-rendering="crispEdges" x="110.56" y="372.12" width="10.07" height="10.42" fill="#019876"/>
<rect shape-rendering="crispEdges" x="120.33" y="372.12" width="10.07" height="10.42" fill="#019876"/>
<rect shape-rendering="crispEdges" x="130.09" y="372.12" width="10.07" height="10.42" fill="#019876"/>
<rect shape-rendering="crispEdges" x="139.86" y="372.12" width="10.07" height="10.42" fill="#019876"/>
<rect shape-rendering="crispEdges" x="149.63" y="372.12" width="10.07" height="10.42" fill="#05868f"/>
<rect shape-rendering="crispEdges" x="159.39" y="372.12" width="10.07" height="10.42" fill="#019876"/>
<rect shape-rendering="crispEdges" x="169.16" y="372.12" width="10.07" height="10.42" fill="#18a36c"/>
<rect shape-rendering="crispEdges" x="178.92" y="372.12" width="10.07" height="10.42" fill="#a4cc54"/>
<rect shape-rendering="crispEdges" x="188.69" y="372.12" width="10.07" height="10.42" fill="#40aa66"/>
<rect shape-rendering="crispEdges" x="198.46" y="372.12" width="10.07" height="10.42" fill="#18a36c"/>
<rect shape-rendering="crispEdges" x="208.22" y="372.12" width="10.07" height="10.42" fill="#019876"/>
<rect shape-rendering="crispEdges" x="217.99" y="372.12" width="10.07" height="10.42" fill="#019876"/>
<rect shape-rendering="crispEdges" x="227.75" y="372.12" width="10.07" height="10.42" fill="#019876"/>
<rect shape-rendering="crispEdges" x="237.52" y="372.12" width="10.07" height="10.42" fill="#019876"/>
<rect shape-rendering="crispEdges" x="247.29" y="372.12" width="10.07" height="10.42" fill="#019876"/>
<rect shape-rendering="crispEdges" x="257.05" y="372.12" width="10.07" height="10.42" fill="#019876"/>
<rect shape-rendering="crispEdges" x="266.82" y="372.12" width="10.07" height="10.42" fill="#019876"/>
<rect shape-rendering="crispEdges" x="276.58" y="372.12" width="10.07" height="10.42" fill="#18a36c"/>
<rect shape-rendering="crispEdges" x="286.35" y="372.12" width="10.07" height="10.42" fill="#18a36c"/>
<rect shape-rendering="crispEdges" x="296.11" y="372.12" width="10.07" height="10.42" fill="#18a36c"/>
<rect shape-rendering="crispEdges" x="305.88" y="372.12" width="10.07" height="10.42" fill="#18a36c"/>
<rect shape-rendering="crispEdges" x="315.65" y="372.12" width="10.07" height="10.42" fill="#019876"/>
<rect shape-rendering="crispEdges" x="325.41" y="372.12" width="10.07" height="10.42" fill="#019876"/>
<rect shape-rendering="crispEdges" x="335.18" y="372.12" width="10.07" height="10.42" fill="#019876"/>
<rect shape-rendering="crispEdges" x="344.94" y="372.12" width="10.07" height="10.42" fill="#019876"/>
<rect shape-rendering="crispEdges" x="354.71" y="372.12" width="10.07" height="10.42" fill="#019876"/>
<rect shape-rendering="crispEdges" x="364.48" y="372.12" width="10.07" height="10.42" fill="#019876"/>
<rect shape-rendering="crispEdges" x="374.24" y="372.12" width="10.07" height="10.42" fill="#019876"/>
<rect shape-rendering="crispEdges" x="384.01" y="372.12" width="10.07" height="10.42" fill="#019876"/>
<rect shape-rendering="crispEdges" x="393.77" y="372.12" width="10.07" height="10.42" fill="#019876"/>
<rect shape-rendering="crispEdges" x="403.54" y="372.12" width="10.07" height="10.42" fill="#019876"/>
<rect shape-rendering="crispEdges" x="413.31" y="372.12" width="10.07" height="10.42" fill="#019876"/>
<rect shape-rendering="crispEdges" x="423.07" y="372.12" width="10.07" height="10.42" fill="#019876"/>
<rect shape-rendering="crispEdges" x="432.84" y="372.12" width="10.07" height="10.42" fill="#019876"/>
<rect shape-rendering="crispEdges" x="442.60" y="372.12" width="10.07" height="10.42" fill="#039181"/>
<rect shape-rendering="crispEdges" x="452.37" y="372.12" width="10.07" height="10.42" fill="#039181"/>
<rect shape-rendering="crispEdges" x="462.14" y="372.12" width="10.07" height="10.42" fill="#039181"/>
<rect shape-rendering="crispEdges" x="471.90" y="372.12" width="10.07" height="10.42" fill="#039181"/>
<rect shape-rendering="crispEdges" x="481.67" y="372.12" width="10.07" height="10.42" fill="#039181"/>
<rect shape-rendering="crispEdges" x="491.43" y="372.12" width="10.07" height="10.42" fill="#039181"/>
<rect shape-rendering="crispEdges" x="42.20" y="382.24" width="10.07" height="10.42" fill="#019876"/>
<rect shape-rendering="crispEdges" x="51.97" y="382.24" width="10.07" height="10.42" fill="#019876"/>
<rect shape-rendering="crispEdges" x="61.73" y="382.24" width="10.07" height="10.42" fill="#019876"/>
<rect shape-rendering="crispEdges" x="71.50" y="382.24" width="10.07" height="10.42" fill="#019876"/>
<rect shape-rendering="crispEdges" x="81.26" y="382.24" width="10.07" height="10.42" fill="#019876"/>
<rect shape-rendering="crispEdges" x="91.03" y="382.24" width="10.07" height="10.42" fill="#019876"/>
<rect shape-rendering="crispEdges" x="100.80" y="382.24" width="10.07" height="10.42" fill="#019876"/>
<rect shape-rendering="crispEdges" x="110.56" y="382.24" width="10.07" height="10.42" fill="#019876"/>
<rect shape-rendering="crispEdges" x="120.33" y="382.24" width="10.07" height="10.42" fill="#019876"/>
<rect shape-rendering="crispEdges" x="130.09" y="382.24" width="10.07" height="10.42" fill="#019876"/>
<rect shape-rendering="crispEdges" x="139.86" y="382.24" width="10.07" height="10.42" fill="#019876"/>
<rect shape-rendering="crispEdges" x="149.63" y="382.24" width="10.07" height="10.42" fill="#019876"/>
<rect shape-rendering="crispEdges" x="159.39" y="382.24" width="10.07" height="10.42" fill="#18a36c"/>
<rect shape-rendering="crispEdges" x="169.16" y="382.24" width="10.07" height="10.42" fill="#40aa66"/>
<rect shape-rendering="crispEdges" x="178.92" y="382.24" width="10.07" height="10.42" fill="#40aa66"/>
<rect shape-rendering="crispEdges" x="188.69" y="382.24" width="10.07" height="10.42" fill="#40aa66"/>
<rect shape-rendering="crispEdges" x="198.46" y="382.24" width="10.07" height="10.42" fill="#18a36c"/>
<rect shape-rendering="crispEdges" x="208.22" y="382.24" width="10.07" height="10.42" fill="#019876"/>
<rect shape-rendering="crispEdges" x="217.99" y="382.24" width="10.07" height="10.42" fill="#019876"/>
<rect shape-rendering="crispEdges" x="227.75" y="382.24" width="10.07" height="10.42" fill="#019876"/>
<rect shape-rendering="crispEdges" x="237.52" y="382.24" width="10.07" height="10.42" fill="#019876"/>
<rect shape-rendering="crispEdges" x="247.29" y="382.24" width="10.07" height="10.42" fill="#019876"/>
<rect shape-rendering="crispEdges" x="257.05" y="382.24" width="10.07" height="10.42" fill="#019876"/>
<rect shape-rendering="crispEdges" x="266.82" y="382.24" width="10.07" height="10.42" fill="#019876"/>
<rect shape-rendering="crispEdges" x="276.58" y="382.24" width="10.07" height="10.42" fill="#18a36c"/>
<rect shape-rendering="crispEdges" x="286.35" y="382.24" width="10.07" height="10.42" fill="#18a36c"/>
<rect shape-rendering="crispEdges" x="296.11" y="382.24" width="10.07" height="10.42" fill="#18a36c"/>
<rect shape-rendering="crispEdges" x="305.88" y="382.24" width="10.07" height="10.42" fill="#019876"/>
<rect shape-rendering="crispEdges" x="315.65" y="382.24" width="10.07" height="10.42" fill="#019876"/>
<rect shape-rendering="crispEdges" x="325.41" y="382.24" width="10.07" height="10.42" fill="#019876"/>
<rect shape-rendering="crispEdges" x="335.18" y="382.24" width="10.07" height="10.42" fill="#019876"/>
<rect shape-rendering="crispEdges" x="344.94" y="382.24" width="10.07" height="10.42" fill="#019876"/>
<rect shape-rendering="crispEdges" x="354.71" y="382.24" width="10.07" height="10.42" fill="#019876"/>
<rect shape-rendering="crispEdges" x="364.48" y="382.24" width="10.07" height="10.42" fill="#019876"/>
<rect shape-rendering="crispEdges" x="374.24" y="382.24" width="10.07" height="10.42" fill="#019876"/>
<rect shape-rendering="crispEdges" x="384.01" y="382.24" width="10.07" height="10.42" fill="#019876"/>
<rect shape-rendering="crispEdges" x="393.77" y="382.24" width="10.07" height="10.42" fill="#019876"/>
<rect shape-rendering="crispEdges" x="403.54" y="382.24" width="10.07" height="10.42" fill="#019876"/>
<rect shape-rendering="crispEdges" x="413.31" y="382.24" width="10.07" height="10.42" fill="#019876"/>
<rect shape-rendering="crispEdges" x="423.07" y="382.24" width="10.07" height="10.42" fill="#019876"/>
<rect shape-rendering="crispEdges" x="432.84" y="382.24" width="10.07" height="10.42" fill="#039181"/>
<rect shape-rendering="crispEdges" x="442.60" y="382.24" width="10.07" height="10.42" fill="#039181"/>
<rect shape-rendering="crispEdges" x="452.37" y="382.24" width="10.07" height="10.42" fill="#039181"/>
<rect shape-rendering="crispEdges" x="462.14" y="382.24" width="10.07" height="10.42" fill="#039181"/>
<rect shape-rendering="crispEdges" x="471.90" y="382.24" width="10.07" height="10.42" fill="#039181"/>
<rect shape-rendering="crispEdges" x="481.67" y="382.24" width="10.07" height="10.42" fill="#039181"/>
<rect shape-rendering="crispEdges" x="491.43" y="382.24" width="10.07" height="10.42" fill="#039181"/>
<rect shape-rendering="crispEdges" x="42.20" y="392.36" width="10.07" height="10.42" fill="#019876"/>
<rect shape-rendering="crispEdges" x="51.97" y="392.36" width="10.07" height="10.42" fill="#019876"/>
<rect shape-rendering="crispEdges" x="61.73" y="392.36" width="10.07" height="10.42" fill="#019876"/>
<rect shape-rendering="crispEdges" x="71.50" y="392.36" width="10.07" height="10.42" fill="#019876"/>
<rect shape-rendering="crispEdges" x="81.26" y="392.36" width="10.07" height="10.42" fill="#019876"/>
<rect shape-rendering="crispEdges" x="91.03" y="392.36" width="10.07" height="10.42" fill="#019876"/>
<rect shape-rendering="crispEdges" x="100.80" y="392.36" width="10.07" height="10.42" fill="#019876"/>
<rect shape-rendering="crispEdges" x="110.56" y="392.36" width="10.07" height="10.42" fill="#019876"/>
<rect shape-rendering="crispEdges" x="120.33" y="392.36" width="10.07" height="10.42" fill="#019876"/>
<rect shape-rendering="crispEdges" x="130.09" y="392.36" width="10.07" height="10.42" fill="#019876"/>
<rect shape-rendering="crispEdges" x="139.86" y="392.36" width="10.07" height="10.42" fill="#019876"/>
<rect shape-rendering="crispEdges" x="149.63" y="392.36" width="10.07" height="10.42" fill="#019876"/>
<rect shape-rendering="crispEdges" x="159.39" y="392.36" width="10.07" height="10.42" fill="#019876"/>
<rect shape-rendering="crispEdges" x="169.16" y="392.36" width="10.07" height="10.42" fill="#18a36c"/>
<rect shape-rendering="crispEdges" x="178.92" y="392.36" width="10.07" height="10.42" fill="#40aa66"/>
<rect shape-rendering="crispEdges" x="188.69" y="392.36" width="10.07" height="10.42" fill="#a4cc54"/>
<rect shape-rendering="crispEdges" x="198.46" y="392.36" width="10.07" height="10.42" fill="#40aa66"/>
<rect shape-rendering="crispEdges" x="208.22" y="392.36" width="10.07" height="10.42" fill="#019876"/>
<rect shape-rendering="crispEdges" x="217.99" y="392.36" width="10.07" height="10.42" fill="#019876"/>
<rect shape-rendering="crispEdges" x="227.75" y="392.36" width="10.07" height="10.42" fill="#019876"/>
<rect shape-rendering="crispEdges" x="237.52" y="392.36" width="10.07" height="10.42" fill="#019876"/>
<rect shape-rendering="crispEdges" x="247.29" y="392.36" width="10.07" height="10.42" fill="#40aa66"/>
<rect shape-rendering="crispEdges" x="257.05" y="392.36" width="10.07" height="10.42" fill="#019876"/>
<rect shape-rendering="crispEdges" x="266.82" y="392.36" width="10.07" height="10.42" fill="#019876"/>
<rect shape-rendering="crispEdges" x="276.58" y="392.36" width="10.07" height="10.42" fill="#18a36c"/>
<rect shape-rendering="crispEdges" x="286.35" y="392.36" width="10.07" height="10.42" fill="#18a36c"/>
<rect shape-rendering="crispEdges" x="296.11" y="392.36" width="10.07" height="10.42" fill="#18a36c"/>
<rect shape-rendering="crispEdges" x="305.88" y="392.36" width="10.07" height="10.42" fill="#019876"/>
<rect shape-rendering="crispEdges" x="315.65" y="392.36" width="10.07" height="10.42" fill="#019876"/>
<rect shape-rendering="crispEdges" x="325.41" y="392.36" width="10.07" height="10.42" fill="#019876"/>
<rect shape-rendering="crispEdges" x="335.18" y="392.36" width="10.07" height="10.42" fill="#019876"/>
<rect shape-rendering="crispEdges" x="344.94" y="392.36" width="10.07" height="10.42" fill="#019876"/>
<rect shape-rendering="crispEdges" x="354.71" y="392.36" width="10.07" height="10.42" fill="#019876"/>
<rect shape-rendering="crispEdges" x="364.48" y="392.36" width="10.07" height="10.42" fill="#019876"/>
<rect shape-rendering="crispEdges" x="374.24" y="392.36" width="10.07" height="10.42" fill="#019876"/>
<rect shape-rendering="crispEdges" x="384.01" y="392.36" width="10.07" height="10.42" fill="#019876"/>
<rect shape-rendering="crispEdges" x="393.77" y="392.36" width="10.07" height="10.42" fill="#019876"/>
<rect shape-rendering="crispEdges" x="403.54" y="392.36" width="10.07" height="10.42" fill="#019876"/>
<rect shape-rendering="crispEdges" x="413.31" y="392.36" width="10.07" height="10.42" fill="#019876"/>
<rect shape-rendering="crispEdges" x="423.07" y="392.36" width="10.07" height="10.42" fill="#039181"/>
<rect shape-rendering="crispEdges" x="432.84" y="392.36" width="10.07" height="10.42" fill="#039181"/>
<rect shape-rendering="crispEdges" x="442.60" y="392.36" width="10.07" height="10.42" fill="#039181"/>
<rect shape-rendering="crispEdges" x="452.37" y="392.36" width="10.07" height="10.42" fill="#039181"/>
<rect shape-rendering="crispEdges" x="462.14" y="392.36" width="10.07" height="10.42" fill="#039181"/>
<rect shape-rendering="crispEdges" x="471.90" y="392.36" width="10.07" height="10.42" fill="#039181"/>
<rect shape-rendering="crispEdges" x="481.67" y="392.36" width="10.07" height="10.42" fill="#039181"/>
<rect shape-rendering="crispEdges" x="491.43" y="392.36" width="10.07" height="10.42" fill="#039181"/>
<rect shape-rendering="crispEdges" x="42.20" y="402.48" width="10.07" height="10.42" fill="#019876"/>
<rect shape-rendering="crispEdges" x="51.97" y="402.48" width="10.07" height="10.42" fill="#019876"/>
<rect shape-rendering="crispEdges" x="61.73" y="402.48" width="10.07" height="10.42" fill="#019876"/>
<rect shape-rendering="crispEdges" x="71.50" y="402.48" width="10.07" height="10.42" fill="#18a36c"/>
<rect shape-rendering="crispEdges" x="81.26" y="402.48" width="10.07" height="10.42" fill="#18a36c"/>
<rect shape-rendering="crispEdges" x="91.03" y="402.48" width="10.07" height="10.42" fill="#18a36c"/>
<rect shape-rendering="crispEdges" x="100.80" y="402.48" width="10.07" height="10.42" fill="#18a36c"/>
<rect shape-rendering="crispEdges" x="110.56" y="402.48" width="10.07" height="10.42" fill="#18a36c"/>
<rect shape-rendering="crispEdges" x="120.33" y="402.48" width="10.07" height="10.42" fill="#18a36c"/>
<rect shape-rendering="crispEdges" x="130.09" y="402.48" width="10.07" height="10.42" fill="#18a36c"/>
<rect shape-rendering="crispEdges" x="139.86" y="402.48" width="10.07" height="10.42" fill="#019876"/>
<rect shape-rendering="crispEdges" x="149.63" y="402.48" width="10.07" height="10.42" fill="#019876"/>
<rect shape-rendering="crispEdges" x="159.39" y="402.48" width="10.07" height="10.42" fill="#019876"/>
<rect shape-rendering="crispEdges" x="169.16" y="402.48" width="10.07" height="10.42" fill="#019876"/>
<rect shape-rendering="crispEdges" x="178.92" y="402.48" width="10.07" height="10.42" fill="#18a36c"/>
<rect shape-rendering="crispEdges" x="188.69" y="402.48" width="10.07" height="10.42" fill="#40aa66"/>
<rect shape-rendering="crispEdges" x="198.46" y="402.48" width="10.07" height="10.42" fill="#40aa66"/>
<rect shape-rendering="crispEdges" x="208.22" y="402.48" width="10.07" height="10.42" fill="#18a36c"/>
<rect shape-rendering="crispEdges" x="217.99" y="402.48" width="10.07" height="10.42" fill="#019876"/>
<rect shape-rendering="crispEdges" x="227.75" y="402.48" width="10.07" height="10.42" fill="#019876"/>
<rect shape-rendering="crispEdges" x="237.52" y="402.48" width="10.07" height="10.42" fill="#019876"/>
<rect shape-rendering="crispEdges" x="247.29" y="402.48" width="10.07" height="10.42" fill="#40aa66"/>
<rect shape-rendering="crispEdges" x="257.05" y="402.48" width="10.07" height="10.42" fill="#019876"/>
<rect shape-rendering="crispEdges" x="266.82" y="402.48" width="10.07" height="10.42" fill="#40aa66"/>
<rect shape-rendering="crispEdges" x="276.58" y="402.48" width="10.07" height="10.42" fill="#18a36c"/>
<rect shape-rendering="crispEdges" x="286.35" y="402.48" width="10.07" height="10.42" fill="#18a36c"/>
<rect shape-rendering="crispEdges" x="296.11" y="402.48" width="10.07" height="10.42" fill="#019876"/>
<rect shape-rendering="crispEdges" x="305.88" y="402.48" width="10.07" height="10.42" fill="#019876"/>
<rect shape-rendering="crispEdges" x="315.65" y="402.48" width="10.07" height="10.42" fill="#019876"/>
<rect shape-rendering="crispEdges" x="325.41" y="402.48" width="10.07" height="10.42" fill="#019876"/>
<rect shape-rendering="crispEdges" x="335.18" y="402.48" width="10.07" height="10.42" fill="#019876"/>
<rect shape-rendering="crispEdges" x="344.94" y="402.48" width="10.07" height="10.42" fill="#019876"/>
<rect shape-rendering="crispEdges" x="354.71" y="402.48" width="10.07" height="10.42" fill="#019876"/>
<rect shape-rendering="crispEdges" x="364.48" y="402.48" width="10.07" height="10.42" fill="#019876"/>
<rect shape-rendering="crispEdges" x="374.24" y="402.48" width="10.07" height="10.42" fill="#019876"/>
<rect shape-rendering="crispEdges" x="384.01" y="402.48" width="10.07" height="10.42" fill="#019876"/>
<rect shape-rendering="crispEdges" x="393.77" y="402.48" width="10.07" height="10.42" fill="#019876"/>
<rect shape-rendering="crispEdges" x="403.54" y="402.48" width="10.07" height="10.42" fill="#019876"/>
<rect shape-rendering="crispEdges" x="413.31" y="402.48" width="10.07" height="10.42" fill="#019876"/>
<rect shape-rendering="crispEdges" x="423.07" y="402.48" width="10.07" height="10.42" fill="#039181"/>
<rect shape-rendering="crispEdges" x="432.84" y="402.48" width="10.07" height="10.42" fill="#039181"/>
<rect shape-rendering="crispEdges" x="442.60" y="402.48" width="10.07" height="10.42" fill="#039181"/>
<rect shape-rendering="crispEdges" x="452.37" y="402.48" width="10.07" height="10.42" fill="#039181"/>
<rect shape-rendering="crispEdges" x="462.14" y="402.48" width="10.07" height="10.42" fill="#039181"/>
<rect shape-rendering="crispEdges" x="471.90" y="402.48" width="10.07" height="10.42" fill="#039181"/>
<rect shape-rendering="crispEdges" x="481.67" y="402.48" width="10.07" height="10.42" fill="#039181"/>
<rect shape-rendering="crispEdges" x="491.43" y="402.48" width="10.07" height="10.42" fill="#039181"/>
<g clip-path="url(#clipL)"><g transform="translate(0,0)" fill="none" stroke="#000" stroke-width="0.9" stroke-linejoin="round">
<path d="M205.8,31.0 L211.8,33.0 L217.8,30.4 L226.7,31.0 L231.7,32.4 L235.7,32.0"/>
<path d="M235.7,32.0 L234.7,40.0 L233.7,47.9 L229.7,57.9 L225.7,59.9 L224.7,69.9 L218.8,77.8 L216.8,83.8 L223.7,75.8 L231.7,67.9 L235.7,55.9 L239.7,43.9 L245.7,28.0"/>
<path d="M267.6,48.9 L260.6,54.9 L256.6,53.9 L254.6,48.9 L250.7,48.9 L242.7,75.8 L241.7,87.8 L243.7,101.7 L240.7,111.7 L239.7,119.7 L235.7,123.7 L230.7,128.1"/>
<path d="M329.6,34.4 L332.7,30.4 L339.9,30.4 L340.7,35.2 L343.9,42.3 L347.1,45.5 L350.3,50.3 L353.5,51.9 L359.8,51.1 L366.2,51.9 L371.0,51.1 L367.8,55.9 L374.2,57.5 L380.6,56.7 L386.9,55.9 L393.3,54.3 L400.0,53.5"/>
<path d="M354.3,28.8 L353.5,36.0 L356.7,40.7 L361.4,43.9 L367.8,44.7 L372.6,46.3 L380.6,45.5 L386.9,47.1 L391.7,47.9 L396.5,45.5 L400.0,40.7"/>
<path d="M358.2,29.6 L359.8,34.4 L366.2,37.6 L377.4,36.8 L386.9,32.8 L396.5,28.8"/>
<path d="M351.9,59.1 L358.2,63.9 L363.0,65.5 L359.8,67.8 L356.7,74.2 L348.7,82.2"/>
<path d="M362.2,66.2 L358.2,74.2 L355.9,80.6 L358.2,82.2 L364.6,79.0 L372.6,74.2 L380.6,71.8 L386.9,70.2 L380.6,73.4 L372.6,77.4 L371.0,80.6 L375.8,85.4"/>
<path d="M268.0,46.9 L276.0,47.3 L282.9,51.9 L285.9,63.9 L289.9,75.8 L294.9,91.8"/>
<path d="M307.9,128.1 L310.9,123.7 L313.8,121.7 L317.8,117.7 L320.8,112.7 L318.8,107.7"/>
<path d="M323.8,113.7 L325.8,115.7 L324.8,117.7 L323.8,113.7"/>
<path d="M329.8,33.0 L333.8,31.0 L338.8,30.0"/>
<path d="M394.0,91.8 L400.0,85.8 L406.0,80.8 L413.9,72.8 L421.9,64.9 L428.9,57.9 L429.9,53.9 L434.9,52.9 L433.9,50.9 L425.9,52.9 L423.9,48.9 L419.9,47.9 L413.9,43.9 L409.9,42.9 L406.0,49.9 L402.0,53.9 L396.0,54.9"/>
<path d="M415.9,29.0 L414.9,34.0 L417.9,40.0 L423.9,45.9 L429.9,43.9 L435.9,41.0 L441.8,36.0 L446.8,29.0"/>
<path d="M425.9,30.0 L424.9,36.0 L428.9,39.0 L432.9,37.0 L435.9,30.0"/>
<path d="M394.0,32.0 L398.0,29.0"/>
<path d="M394.0,38.0 L397.0,40.0 L395.0,43.9"/>
<path d="M28.0,155.9 L32.0,159.9 L36.0,163.9 L39.0,165.9 L42.0,170.9 L45.9,169.9 L47.9,174.8 L51.9,181.8 L57.9,187.8 L53.9,185.8 L50.9,187.8 L52.9,197.8 L47.9,197.8 L40.0,195.8 L34.0,193.8 L30.0,191.8 L29.0,185.8 L28.0,187.8"/>
<path d="M87.8,208.3 L91.8,206.7 L101.7,202.7 L105.7,200.8 L109.7,196.8"/>
<path d="M108.0,196.5 L112.8,194.9 L117.6,194.1 L122.3,191.7 L128.7,188.6 L133.5,185.4 L139.1,181.4 L141.5,178.2 L146.2,169.4 L151.0,163.1 L158.2,156.7 L171.7,152.7 L188.0,147.9"/>
<path d="M132.7,192.5 L136.7,188.6 L140.7,183.0 L142.3,178.2"/>
<path d="M132.7,192.5 L135.1,194.1 L136.7,194.9 L135.9,198.1 L137.5,201.3 L139.1,206.1 L139.9,208.0"/>
<path d="M108.0,198.1 L112.8,194.9 L119.2,192.5 L121.5,194.9 L123.1,198.9 L119.2,202.1 L114.4,202.9 L109.6,202.1 L108.0,201.3"/>
<path d="M188.0,148.7 L226.2,137.6 L226.2,130.4 L228.6,128.0 L233.4,128.0"/>
<path d="M189.6,148.7 L190.4,156.7 L194.4,166.2 L193.6,175.8 L197.6,185.4 L198.4,191.7 L200.7,194.9 L203.1,202.9 L204.7,208.0"/>
<path d="M226.2,137.6 L227.0,148.7 L228.6,151.9 L226.2,158.3 L222.3,162.3 L221.5,172.6 L220.7,182.2 L220.7,188.6 L222.3,199.7 L223.1,208.0"/>
<path d="M233.4,128.0 L239.0,143.9 L243.8,159.9 L248.6,172.6 L250.2,179.0 L254.9,185.4 L258.1,188.6 L258.9,194.9 L262.9,199.7 L264.5,202.9 L262.1,204.5 L258.9,207.7"/>
<path d="M268.0,164.7 L271.2,159.9 L276.0,156.7 L283.9,150.3 L284.7,140.7 L283.9,139.2 L287.1,134.4 L288.7,139.2 L293.5,140.7 L295.1,136.0 L299.9,132.8 L304.7,129.6 L307.8,128.0"/>
<path d="M342.9,128.0 L346.1,134.4 L348.0,137.6"/>
<path d="M89.4,208.0 L80.6,211.2 L75.8,215.2 L70.2,220.7 L67.0,225.5 L64.7,232.7 L69.4,234.3 L75.8,233.5 L80.6,230.3 L85.4,227.9 L91.7,225.5 L98.1,223.1 L108.0,221.5"/>
<path d="M28.0,263.8 L32.8,259.0 L40.7,256.6 L48.7,257.4 L54.3,258.2 L63.1,257.4 L54.3,255.8 L56.7,251.0 L66.2,247.0 L75.8,244.7 L85.4,242.3"/>
<path d="M80.6,231.9 L83.0,236.7 L86.2,240.7 L87.0,243.9 L83.8,249.4 L79.0,255.8 L71.0,265.4 L64.7,271.7 L56.7,278.1 L47.1,282.9 L37.6,288.0"/>
<path d="M71.0,265.4 L72.6,272.5 L108.0,264.6"/>
<path d="M108.0,221.5 L114.4,223.9 L122.3,222.3 L128.7,218.4 L132.7,214.4 L135.9,210.4 L139.9,208.0"/>
<path d="M108.0,264.6 L127.1,259.8 L147.8,255.0 L167.8,250.7 L171.7,253.4 L176.5,255.8 L178.1,262.2 L181.3,265.4 L186.1,267.0 L188.0,266.2"/>
<path d="M188.0,266.2 L186.1,268.6 L184.5,276.5 L182.9,282.9 L181.3,288.0"/>
<path d="M204.7,208.0 L207.1,217.6 L207.9,228.7 L207.9,238.3 L209.5,249.4 L210.3,262.2 L211.9,267.0"/>
<path d="M207.9,216.0 L224.7,211.2 L240.6,208.0"/>
<path d="M208.7,238.3 L229.4,231.9 L245.4,228.7 L256.5,227.1"/>
<path d="M245.4,228.7 L247.8,239.9 L248.6,247.8"/>
<path d="M256.5,227.1 L258.1,235.1 L262.9,238.3 L268.0,237.5"/>
<path d="M211.9,267.0 L219.9,263.0 L227.8,259.0 L235.8,255.8 L243.8,251.8 L248.6,248.6 L254.9,246.2 L262.9,241.5 L268.0,239.1"/>
<path d="M188.0,267.0 L197.6,270.2 L203.9,273.3"/>
<path d="M268.0,217.6 L270.4,222.3 L274.4,227.1 L279.2,227.9 L283.9,225.5 L287.9,227.1 L287.1,223.1 L285.5,220.7 L282.3,217.6"/>
<path d="M287.9,227.1 L280.7,230.3 L276.0,235.1 L272.8,239.1 L268.0,238.3"/>
<path d="M272.0,242.3 L275.2,238.3 L278.4,240.7 L274.4,242.3 L272.0,242.3"/>
<path d="M285.5,240.7 L288.7,236.7 L291.1,239.9 L287.1,241.5 L285.5,240.7"/>
<path d="M60.7,303.9 L62.3,313.5 L63.9,319.9 L61.5,324.7 L65.5,327.8 L67.0,335.8 L68.6,344.6 L75.8,343.8 L83.8,342.2 L91.7,340.6 L101.3,339.0 L108.0,338.2"/>
<path d="M66.2,335.8 L62.3,340.6 L61.5,348.6 L56.7,353.3 L50.3,359.7 L43.9,366.1 L43.1,368.0"/>
<path d="M207.8,285.5 L208.7,289.6 L211.9,297.6 L211.9,307.1 L211.1,315.1 L208.7,319.9 L205.5,326.2 L203.9,332.6 L202.3,339.0 L200.0,340.6 L197.6,334.2 L194.4,335.0 L191.2,332.6 L188.0,332.6"/>
<path d="M43.9,368.0 L43.1,371.2 L40.7,373.6 L37.6,375.2 L35.2,380.7 L33.6,387.1 L31.2,391.9 L29.6,399.9 L28.8,404.7 L31.2,407.8 L36.0,412.6 L40.7,415.8 L43.9,419.0 L46.3,419.8 L47.1,422.2"/>
<path d="M104.5,368.0 L102.9,374.4 L99.7,379.2 L96.5,377.6 L94.1,378.4 L93.3,383.9 L91.7,390.3 L88.6,396.7 L86.2,404.7 L84.6,409.4 L83.8,413.4 L79.0,415.8 L74.2,419.0 L71.0,422.2"/>
<path d="M300.0,93.5 L303.2,93.5 L305.6,100.7 L308.0,105.5 L312.7,103.9 L319.1,103.9 L323.9,100.7 L330.3,97.5 L333.4,92.7 L334.2,88.0 L336.6,93.5 L341.4,91.1 L347.8,83.2 L351.0,80.0"/>
<path d="M366.9,80.0 L360.5,86.4 L354.1,94.3 L347.8,103.9 L343.0,111.8 L340.6,119.8 L343.0,126.2 L347.8,135.7 L352.5,134.9 L357.3,140.5 L360.5,142.1 L365.3,138.9 L371.7,129.4 L376.4,121.4 L379.6,108.7 L381.2,99.1 L386.0,95.1 L392.4,92.7 L400.0,86.4"/>
<path d="M323.9,113.4 L325.5,116.6 L326.3,115.0 L323.9,113.4"/>
<path d="M80.0,340.5 L100.5,337.4 L121.0,333.3 L141.5,329.2 L162.1,325.1 L168.2,324.1"/>
<path d="M91.3,339.5 L92.3,346.7 L94.4,355.9 L99.5,350.8 L106.7,342.6 L112.8,340.5 L121.0,337.4 L127.2,339.5 L133.3,343.6 L141.5,346.7 L147.7,348.7 L151.8,355.9 L153.8,361.0 L152.8,367.2"/>
<path d="M121.0,338.5 L117.9,346.7 L115.9,352.8 L112.8,361.0 L106.7,371.3 L102.6,375.4 L96.4,376.4 L93.3,379.5 L92.3,389.7 L88.2,397.9 L86.2,408.2 L84.1,414.4 L81.0,420.5 L80.0,423.0"/>
<path d="M177.5,260.0 L180.7,263.2 L185.5,266.4 L195.1,269.6 L199.8,270.4 L206.2,275.9 L209.4,282.3 L207.8,285.5"/>
<path d="M185.5,266.4 L183.9,272.7 L183.1,280.7 L185.5,288.7 L187.1,295.1 L188.7,301.4 L190.3,311.0 L187.9,315.0 L183.9,320.6 L179.1,326.9 L175.9,331.7 L169.6,336.5"/>
<path d="M206.0,287.8 L210.0,284.8 L219.9,280.8 L229.9,274.9 L239.8,268.9 L251.8,258.4"/>
<path d="M219.9,278.8 L229.9,272.9 L237.8,266.9 L242.8,261.4 L251.8,257.9"/>
<path d="M170.5,324.8 L171.1,329.6 L169.3,334.3 L167.5,340.3 L165.1,345.1 L163.9,349.9 L165.1,354.6 L162.7,359.4 L160.3,365.4 L163.9,370.2 L169.9,372.6 L173.5,376.2"/>
<path d="M172.3,330.8 L169.9,337.9 L171.1,343.9 L172.3,349.9 L173.5,354.6 L175.8,360.6 L179.4,365.4 L184.2,370.2 L187.8,375.0"/>
<path d="M177.0,331.9 L179.4,337.9 L181.8,343.9 L184.2,351.1 L185.4,355.8 L190.2,358.2 L198.5,357.0"/>
<path d="M181.2,324.8 L185.4,330.8 L190.2,334.3 L195.0,334.3 L198.5,336.7 L199.7,340.3 L198.5,343.9 L197.3,349.9 L198.5,353.5 L199.7,357.0 L200.9,361.8 L200.3,365.4"/>
<path d="M155.4,376.5 L162.3,381.2 L168.1,384.6 L172.7,388.1 L176.2,391.6 L178.5,395.0 L179.6,398.5"/>
<path d="M156.5,368.5 L162.3,371.9 L168.1,374.2 L172.7,377.7 L175.0,381.2 L176.2,384.6 L177.3,389.2 L179.6,392.7 L180.8,397.3 L179.6,399.6"/>
<path d="M166.9,394.4 L171.6,397.3 L176.2,399.6"/>
<path d="M161.2,402.0 L168.1,403.1 L173.9,404.3 L176.2,404.3"/>
<path d="M184.3,371.9 L186.6,376.5 L188.9,375.4 L190.0,380.0 L188.9,384.6 L187.7,391.6 L187.7,397.3 L188.9,400.8"/>
<path d="M199.3,365.0 L198.1,370.8 L194.7,375.4 L193.5,381.2 L192.3,388.1 L190.0,395.0 L188.9,400.8"/>
<path d="M183.1,408.9 L190.0,408.3 L193.5,414.7 L195.8,421.6"/>
<path d="M179.6,421.6 L185.4,420.4 L193.5,418.1 L195.8,422.7"/>
<path d="M56.5,281.0 L57.5,292.0 L60.7,304.0"/>
<path d="M294.9,91.8 L298.0,92.5 L300.0,93.5"/>
<path d="M466.8,83.8 L470.7,82.8 L473.7,80.8 L474.7,78.8" stroke-width="1.8"/>
</g></g>
<g clip-path="url(#clipL)" stroke="#111" stroke-width="1.1">
<circle cx="38.0" cy="291.5" r="4.0" fill="#019876"/>
<circle cx="45.5" cy="285.5" r="4.0" fill="#019876"/>
<circle cx="181.6" cy="171.8" r="4.0" fill="#049083"/>
<circle cx="182.4" cy="170.5" r="4.0" fill="#05888c"/>
<circle cx="140.7" cy="190.6" r="4.0" fill="#109f70"/>
<circle cx="176.2" cy="202.1" r="4.0" fill="#05868f"/>
<circle cx="281.0" cy="64.9" r="4.0" fill="#058a8a"/>
<circle cx="316.8" cy="109.3" r="4.0" fill="#047ba5"/>
<circle cx="286.9" cy="126.7" r="4.0" fill="#047ca4"/>
<circle cx="309.9" cy="126.1" r="4.0" fill="#047f9e"/>
<circle cx="202.3" cy="159.9" r="4.0" fill="#03937d"/>
<circle cx="245.4" cy="152.2" r="4.0" fill="#05868f"/>
<circle cx="237.4" cy="159.1" r="4.0" fill="#02957a"/>
<circle cx="238.7" cy="157.0" r="4.0" fill="#05888c"/>
<circle cx="266.1" cy="150.3" r="4.0" fill="#058395"/>
<circle cx="263.7" cy="159.9" r="4.0" fill="#05878e"/>
<circle cx="231.0" cy="170.7" r="4.0" fill="#05878e"/>
<circle cx="266.1" cy="169.4" r="4.0" fill="#058395"/>
<circle cx="266.1" cy="173.4" r="4.0" fill="#05888c"/>
<circle cx="251.4" cy="176.3" r="4.0" fill="#048d86"/>
<circle cx="238.7" cy="180.6" r="4.0" fill="#048b89"/>
<circle cx="262.1" cy="181.4" r="4.0" fill="#019877"/>
<circle cx="207.1" cy="188.6" r="4.0" fill="#058296"/>
<circle cx="221.5" cy="183.8" r="4.0" fill="#047f9e"/>
<circle cx="241.1" cy="191.4" r="4.0" fill="#058395"/>
<circle cx="258.9" cy="191.4" r="4.0" fill="#047ba5"/>
<circle cx="247.0" cy="201.3" r="4.0" fill="#047ba5"/>
<circle cx="253.3" cy="202.1" r="4.0" fill="#048b89"/>
<circle cx="227.0" cy="204.5" r="4.0" fill="#048b88"/>
<circle cx="236.6" cy="204.2" r="4.0" fill="#058395"/>
<circle cx="299.4" cy="136.0" r="4.0" fill="#04809b"/>
<circle cx="282.3" cy="155.9" r="4.0" fill="#048c88"/>
<circle cx="272.8" cy="165.0" r="4.0" fill="#058a8b"/>
<circle cx="93.0" cy="229.0" r="4.0" fill="#019876"/>
<circle cx="88.6" cy="237.5" r="4.0" fill="#40aa66"/>
<circle cx="65.9" cy="269.0" r="4.0" fill="#40aa66"/>
<circle cx="55.1" cy="276.8" r="4.0" fill="#019876"/>
<circle cx="40.7" cy="286.1" r="4.0" fill="#019876"/>
<circle cx="96.5" cy="280.5" r="4.0" fill="#1ea46b"/>
<circle cx="113.6" cy="227.4" r="4.0" fill="#019876"/>
<circle cx="121.5" cy="223.1" r="4.0" fill="#058395"/>
<circle cx="135.9" cy="217.6" r="4.0" fill="#047f9e"/>
<circle cx="146.2" cy="222.7" r="4.0" fill="#079b73"/>
<circle cx="137.5" cy="245.5" r="4.0" fill="#019876"/>
<circle cx="127.9" cy="257.4" r="4.0" fill="#019876"/>
<circle cx="145.5" cy="266.2" r="4.0" fill="#048a8a"/>
<circle cx="136.7" cy="269.8" r="4.0" fill="#019876"/>
<circle cx="167.0" cy="268.2" r="4.0" fill="#047ca4"/>
<circle cx="175.7" cy="278.1" r="4.0" fill="#05878e"/>
<circle cx="182.9" cy="281.8" r="4.0" fill="#05878e"/>
<circle cx="139.1" cy="281.6" r="4.0" fill="#059a74"/>
<circle cx="197.9" cy="210.4" r="4.0" fill="#05878e"/>
<circle cx="197.9" cy="221.1" r="4.0" fill="#058395"/>
<circle cx="210.8" cy="224.7" r="4.0" fill="#03937d"/>
<circle cx="223.1" cy="216.8" r="4.0" fill="#058a8a"/>
<circle cx="231.0" cy="223.9" r="4.0" fill="#05868f"/>
<circle cx="227.0" cy="228.7" r="4.0" fill="#058395"/>
<circle cx="241.4" cy="222.0" r="4.0" fill="#05868f"/>
<circle cx="248.2" cy="225.5" r="4.0" fill="#048f84"/>
<circle cx="232.9" cy="234.3" r="4.0" fill="#05888c"/>
<circle cx="242.2" cy="235.9" r="4.0" fill="#05868f"/>
<circle cx="229.1" cy="241.5" r="4.0" fill="#02947c"/>
<circle cx="250.5" cy="240.7" r="4.0" fill="#039181"/>
<circle cx="214.3" cy="244.3" r="4.0" fill="#069a74"/>
<circle cx="205.2" cy="247.8" r="4.0" fill="#048d86"/>
<circle cx="231.0" cy="248.6" r="4.0" fill="#02957a"/>
<circle cx="244.6" cy="251.0" r="4.0" fill="#069a74"/>
<circle cx="257.3" cy="242.3" r="4.0" fill="#02957a"/>
<circle cx="256.5" cy="247.0" r="4.0" fill="#047f9e"/>
<circle cx="261.6" cy="235.1" r="4.0" fill="#048f84"/>
<circle cx="266.9" cy="234.3" r="4.0" fill="#058395"/>
<circle cx="207.9" cy="258.2" r="4.0" fill="#048b89"/>
<circle cx="214.8" cy="258.2" r="4.0" fill="#048c88"/>
<circle cx="227.0" cy="257.7" r="4.0" fill="#058a8b"/>
<circle cx="235.0" cy="257.1" r="4.0" fill="#039181"/>
<circle cx="234.2" cy="267.0" r="4.0" fill="#20a46b"/>
<circle cx="219.1" cy="265.4" r="4.0" fill="#039181"/>
<circle cx="225.0" cy="269.4" r="4.0" fill="#039181"/>
<circle cx="228.6" cy="272.5" r="4.0" fill="#039181"/>
<circle cx="210.3" cy="270.2" r="4.0" fill="#04809b"/>
<circle cx="214.3" cy="270.2" r="4.0" fill="#047ba5"/>
<circle cx="203.6" cy="267.8" r="4.0" fill="#05868f"/>
<circle cx="199.2" cy="273.3" r="4.0" fill="#047ba5"/>
<circle cx="205.5" cy="277.3" r="4.0" fill="#047ba5"/>
<circle cx="207.9" cy="278.1" r="4.0" fill="#047ba5"/>
<circle cx="211.1" cy="280.5" r="4.0" fill="#047ba5"/>
<circle cx="219.9" cy="277.3" r="4.0" fill="#048c88"/>
<circle cx="192.5" cy="283.7" r="4.0" fill="#048e85"/>
<circle cx="204.7" cy="284.2" r="4.0" fill="#047ba5"/>
<circle cx="203.9" cy="286.9" r="4.0" fill="#047ba5"/>
<circle cx="258.9" cy="210.4" r="4.0" fill="#047da1"/>
<circle cx="258.1" cy="215.2" r="4.0" fill="#047ba5"/>
<circle cx="258.9" cy="219.2" r="4.0" fill="#048b89"/>
<circle cx="261.6" cy="223.1" r="4.0" fill="#047da1"/>
<circle cx="249.4" cy="209.6" r="4.0" fill="#058395"/>
<circle cx="283.1" cy="218.8" r="4.0" fill="#039181"/>
<circle cx="40.0" cy="292.0" r="4.0" fill="#019876"/>
<circle cx="42.3" cy="293.6" r="4.0" fill="#019876"/>
<circle cx="32.8" cy="296.0" r="4.0" fill="#048a8a"/>
<circle cx="30.4" cy="300.7" r="4.0" fill="#109f70"/>
<circle cx="57.2" cy="292.8" r="4.0" fill="#109f70"/>
<circle cx="67.0" cy="292.0" r="4.0" fill="#0c9d71"/>
<circle cx="56.7" cy="300.0" r="4.0" fill="#26a56a"/>
<circle cx="61.1" cy="300.0" r="4.0" fill="#0c9d71"/>
<circle cx="58.3" cy="303.9" r="4.0" fill="#019876"/>
<circle cx="42.3" cy="303.9" r="4.0" fill="#109f70"/>
<circle cx="38.8" cy="307.1" r="4.0" fill="#089c73"/>
<circle cx="47.9" cy="310.3" r="4.0" fill="#089c73"/>
<circle cx="43.6" cy="314.8" r="4.0" fill="#109f70"/>
<circle cx="30.4" cy="310.3" r="4.0" fill="#13a16e"/>
<circle cx="39.2" cy="319.9" r="4.0" fill="#26a56a"/>
<circle cx="83.5" cy="307.9" r="4.0" fill="#019876"/>
<circle cx="67.0" cy="313.8" r="4.0" fill="#048d87"/>
<circle cx="81.4" cy="314.6" r="4.0" fill="#0c9d71"/>
<circle cx="77.1" cy="320.7" r="4.0" fill="#05888c"/>
<circle cx="99.4" cy="312.7" r="4.0" fill="#109f70"/>
<circle cx="101.3" cy="320.7" r="4.0" fill="#109f70"/>
<circle cx="87.8" cy="323.1" r="4.0" fill="#13a16e"/>
<circle cx="63.1" cy="323.9" r="4.0" fill="#019876"/>
<circle cx="67.5" cy="322.7" r="4.0" fill="#089c73"/>
<circle cx="72.6" cy="323.1" r="4.0" fill="#5bb064"/>
<circle cx="71.0" cy="327.8" r="4.0" fill="#17a36c"/>
<circle cx="79.8" cy="329.8" r="4.0" fill="#089c73"/>
<circle cx="83.5" cy="336.6" r="4.0" fill="#26a56a"/>
<circle cx="95.3" cy="331.3" r="4.0" fill="#13a16e"/>
<circle cx="61.8" cy="334.2" r="4.0" fill="#13a16e"/>
<circle cx="48.4" cy="341.9" r="4.0" fill="#17a36c"/>
<circle cx="73.9" cy="341.7" r="4.0" fill="#26a56a"/>
<circle cx="82.2" cy="345.1" r="4.0" fill="#56af64"/>
<circle cx="102.6" cy="339.0" r="4.0" fill="#17a36c"/>
<circle cx="48.4" cy="358.1" r="4.0" fill="#17a36c"/>
<circle cx="46.8" cy="361.6" r="4.0" fill="#02947d"/>
<circle cx="91.4" cy="361.0" r="4.0" fill="#17a36c"/>
<circle cx="177.3" cy="292.5" r="4.0" fill="#05878e"/>
<circle cx="176.2" cy="294.4" r="4.0" fill="#02947c"/>
<circle cx="121.5" cy="299.5" r="4.0" fill="#03927f"/>
<circle cx="120.7" cy="303.1" r="4.0" fill="#048f83"/>
<circle cx="112.0" cy="310.6" r="4.0" fill="#40aa66"/>
<circle cx="169.4" cy="298.4" r="4.0" fill="#039181"/>
<circle cx="166.2" cy="303.1" r="4.0" fill="#019876"/>
<circle cx="157.4" cy="306.8" r="4.0" fill="#03927f"/>
<circle cx="151.0" cy="310.3" r="4.0" fill="#048d87"/>
<circle cx="147.0" cy="311.9" r="4.0" fill="#02947d"/>
<circle cx="182.6" cy="307.4" r="4.0" fill="#058298"/>
<circle cx="165.4" cy="313.8" r="4.0" fill="#048d87"/>
<circle cx="161.4" cy="315.1" r="4.0" fill="#02947d"/>
<circle cx="152.6" cy="318.3" r="4.0" fill="#05868f"/>
<circle cx="159.0" cy="321.5" r="4.0" fill="#05868f"/>
<circle cx="174.9" cy="318.3" r="4.0" fill="#089c73"/>
<circle cx="181.3" cy="319.1" r="4.0" fill="#048d87"/>
<circle cx="135.9" cy="323.9" r="4.0" fill="#048d87"/>
<circle cx="139.9" cy="324.3" r="4.0" fill="#019876"/>
<circle cx="173.3" cy="323.1" r="4.0" fill="#03927f"/>
<circle cx="177.3" cy="327.0" r="4.0" fill="#02947d"/>
<circle cx="167.0" cy="329.1" r="4.0" fill="#02947d"/>
<circle cx="132.7" cy="336.6" r="4.0" fill="#089c73"/>
<circle cx="141.1" cy="339.8" r="4.0" fill="#03927f"/>
<circle cx="148.6" cy="337.4" r="4.0" fill="#048f83"/>
<circle cx="157.4" cy="334.2" r="4.0" fill="#019876"/>
<circle cx="159.8" cy="339.0" r="4.0" fill="#019876"/>
<circle cx="163.0" cy="339.0" r="4.0" fill="#089c73"/>
<circle cx="165.4" cy="335.0" r="4.0" fill="#019876"/>
<circle cx="185.3" cy="343.0" r="4.0" fill="#03927f"/>
<circle cx="125.8" cy="347.3" r="4.0" fill="#048f83"/>
<circle cx="149.4" cy="347.8" r="4.0" fill="#058298"/>
<circle cx="155.8" cy="348.6" r="4.0" fill="#019876"/>
<circle cx="141.5" cy="351.7" r="4.0" fill="#047ba5"/>
<circle cx="152.6" cy="353.3" r="4.0" fill="#047ba5"/>
<circle cx="159.0" cy="354.9" r="4.0" fill="#04809b"/>
<circle cx="137.5" cy="358.1" r="4.0" fill="#04809b"/>
<circle cx="151.8" cy="358.1" r="4.0" fill="#047ba5"/>
<circle cx="185.3" cy="353.0" r="4.0" fill="#03927f"/>
<circle cx="174.9" cy="358.1" r="4.0" fill="#048f83"/>
<circle cx="163.0" cy="362.9" r="4.0" fill="#048f83"/>
<circle cx="158.2" cy="365.3" r="4.0" fill="#03927f"/>
<circle cx="147.5" cy="366.9" r="4.0" fill="#047ba5"/>
<circle cx="191.2" cy="292.8" r="4.0" fill="#039181"/>
<circle cx="200.0" cy="292.0" r="4.0" fill="#047f9e"/>
<circle cx="210.8" cy="295.2" r="4.0" fill="#047da1"/>
<circle cx="191.2" cy="299.2" r="4.0" fill="#02947c"/>
<circle cx="202.3" cy="304.3" r="4.0" fill="#058a8b"/>
<circle cx="190.4" cy="306.3" r="4.0" fill="#058592"/>
<circle cx="189.6" cy="310.3" r="4.0" fill="#039181"/>
<circle cx="188.8" cy="317.5" r="4.0" fill="#039181"/>
<circle cx="196.0" cy="318.3" r="4.0" fill="#048d86"/>
<circle cx="206.8" cy="322.3" r="4.0" fill="#047da1"/>
<circle cx="194.4" cy="327.0" r="4.0" fill="#039181"/>
<circle cx="195.6" cy="347.3" r="4.0" fill="#04809b"/>
<circle cx="30.4" cy="387.1" r="4.0" fill="#26a56a"/>
<circle cx="31.2" cy="393.5" r="4.0" fill="#019876"/>
<circle cx="50.3" cy="392.2" r="4.0" fill="#05898b"/>
<circle cx="75.3" cy="401.5" r="4.0" fill="#26a56a"/>
<circle cx="103.2" cy="405.1" r="4.0" fill="#30a768"/>
<circle cx="33.1" cy="422.2" r="4.0" fill="#26a56a"/>
<circle cx="82.7" cy="418.7" r="4.0" fill="#51ae65"/>
<circle cx="96.2" cy="417.1" r="4.0" fill="#38a967"/>
<circle cx="114.4" cy="375.6" r="4.0" fill="#019876"/>
<circle cx="123.1" cy="372.8" r="4.0" fill="#5bb064"/>
<circle cx="138.6" cy="370.9" r="4.0" fill="#02947d"/>
<circle cx="147.5" cy="368.8" r="4.0" fill="#047ba5"/>
<circle cx="149.1" cy="376.8" r="4.0" fill="#048d87"/>
<circle cx="123.9" cy="386.3" r="4.0" fill="#02947d"/>
<circle cx="156.6" cy="394.0" r="4.0" fill="#03927f"/>
<circle cx="152.9" cy="396.7" r="4.0" fill="#048e85"/>
<circle cx="149.4" cy="403.9" r="4.0" fill="#048f83"/>
<circle cx="157.4" cy="402.3" r="4.0" fill="#05888c"/>
<circle cx="179.4" cy="405.0" r="4.0" fill="#099c72"/>
<circle cx="179.7" cy="411.3" r="4.0" fill="#03937e"/>
<circle cx="134.3" cy="413.4" r="4.0" fill="#18a36c"/>
<circle cx="174.1" cy="419.5" r="4.0" fill="#048f83"/>
</g>
<rect x="28.5" y="28.5" width="485" height="394" fill="none" stroke="#222" stroke-width="1"/>
<line x1="21.3" y1="38.0" x2="28.5" y2="38.0" stroke="#222" stroke-width="1"/>
<text transform="translate(12.4,38.0) rotate(-90)" text-anchor="middle" font-size="12" fill="#000">50.5</text>
<line x1="21.3" y1="101.3" x2="28.5" y2="101.3" stroke="#222" stroke-width="1"/>
<text transform="translate(12.4,101.3) rotate(-90)" text-anchor="middle" font-size="12" fill="#000">48.5</text>
<line x1="21.3" y1="163.8" x2="28.5" y2="163.8" stroke="#222" stroke-width="1"/>
<text transform="translate(12.4,163.8) rotate(-90)" text-anchor="middle" font-size="12" fill="#000">46.5</text>
<line x1="21.3" y1="226.4" x2="28.5" y2="226.4" stroke="#222" stroke-width="1"/>
<text transform="translate(12.4,226.4) rotate(-90)" text-anchor="middle" font-size="12" fill="#000">44.5</text>
<line x1="21.3" y1="288.4" x2="28.5" y2="288.4" stroke="#222" stroke-width="1"/>
<text transform="translate(12.4,288.4) rotate(-90)" text-anchor="middle" font-size="12" fill="#000">42.5</text>
<line x1="21.3" y1="350.4" x2="28.5" y2="350.4" stroke="#222" stroke-width="1"/>
<text transform="translate(12.4,350.4) rotate(-90)" text-anchor="middle" font-size="12" fill="#000">40.5</text>
<line x1="21.3" y1="412.5" x2="28.5" y2="412.5" stroke="#222" stroke-width="1"/>
<text transform="translate(12.4,412.5) rotate(-90)" text-anchor="middle" font-size="12" fill="#000">38.5</text>
<line x1="43.8" y1="422.5" x2="43.8" y2="430" stroke="#222" stroke-width="1"/>
<text x="43.8" y="448.5" text-anchor="middle" font-size="12" fill="#000">-83.5</text>
<line x1="95.5" y1="422.5" x2="95.5" y2="430" stroke="#222" stroke-width="1"/>
<text x="95.5" y="448.5" text-anchor="middle" font-size="12" fill="#000">-81.5</text>
<line x1="147.5" y1="422.5" x2="147.5" y2="430" stroke="#222" stroke-width="1"/>
<text x="147.5" y="448.5" text-anchor="middle" font-size="12" fill="#000">-79.5</text>
<line x1="198.9" y1="422.5" x2="198.9" y2="430" stroke="#222" stroke-width="1"/>
<text x="198.9" y="448.5" text-anchor="middle" font-size="12" fill="#000">-77.5</text>
<line x1="250.3" y1="422.5" x2="250.3" y2="430" stroke="#222" stroke-width="1"/>
<text x="250.3" y="448.5" text-anchor="middle" font-size="12" fill="#000">-75.5</text>
<line x1="301.3" y1="422.5" x2="301.3" y2="430" stroke="#222" stroke-width="1"/>
<text x="301.3" y="448.5" text-anchor="middle" font-size="12" fill="#000">-73.5</text>
<line x1="351.6" y1="422.5" x2="351.6" y2="430" stroke="#222" stroke-width="1"/>
<text x="351.6" y="448.5" text-anchor="middle" font-size="12" fill="#000">-71.5</text>
<line x1="402.1" y1="422.5" x2="402.1" y2="430" stroke="#222" stroke-width="1"/>
<text x="402.1" y="448.5" text-anchor="middle" font-size="12" fill="#000">-69.5</text>
<line x1="452.1" y1="422.5" x2="452.1" y2="430" stroke="#222" stroke-width="1"/>
<text x="452.1" y="448.5" text-anchor="middle" font-size="12" fill="#000">-67.5</text>
<line x1="501.5" y1="422.5" x2="501.5" y2="430" stroke="#222" stroke-width="1"/>
<text x="501.5" y="448.5" text-anchor="middle" font-size="12" fill="#000">-65.5</text>
<text x="271.8" y="19.3" text-anchor="middle" font-size="14" font-weight="bold" fill="#000" textLength="285" lengthAdjust="spacingAndGlyphs">EMBER 36km: O3_8HRMAX on 04/14/2025</text>
<text x="271.2" y="469.7" text-anchor="middle" font-size="12" fill="#000">Domain size: 37x47 | Max Model = 60 at (4, 15)</text>
<text x="270.9" y="484.4" text-anchor="middle" font-size="12" fill="#000" xml:space="preserve">Max Obs: 62</text>
<circle cx="472.3" cy="408.3" r="2.3" fill="#000"/>
<text x="483" y="412.3" font-size="12" fill="#000">AQS</text>
<rect shape-rendering="crispEdges" x="545.6" y="399.80" width="8.1" height="3.78" fill="#e6e6e6"/>
<rect shape-rendering="crispEdges" x="545.6" y="394.00" width="8.1" height="6.10" fill="#e0e0e0"/>
<rect shape-rendering="crispEdges" x="545.6" y="388.20" width="8.1" height="6.10" fill="#d4d4d4"/>
<rect shape-rendering="crispEdges" x="545.6" y="382.40" width="8.1" height="6.10" fill="#c8c8c8"/>
<rect shape-rendering="crispEdges" x="545.6" y="376.60" width="8.1" height="6.10" fill="#bcbcbc"/>
<rect shape-rendering="crispEdges" x="545.6" y="370.80" width="8.1" height="6.10" fill="#b0b0b0"/>
<rect shape-rendering="crispEdges" x="545.6" y="365.00" width="8.1" height="6.10" fill="#a3a3a3"/>
<rect shape-rendering="crispEdges" x="545.6" y="359.20" width="8.1" height="6.10" fill="#969696"/>
<rect shape-rendering="crispEdges" x="545.6" y="353.40" width="8.1" height="6.10" fill="#8c9094"/>
<rect shape-rendering="crispEdges" x="545.6" y="347.60" width="8.1" height="6.10" fill="#84929d"/>
<rect shape-rendering="crispEdges" x="545.6" y="341.80" width="8.1" height="6.10" fill="#7e95a6"/>
<rect shape-rendering="crispEdges" x="545.6" y="336.00" width="8.1" height="6.10" fill="#7599b3"/>
<rect shape-rendering="crispEdges" x="545.6" y="330.20" width="8.1" height="6.10" fill="#6ca0c3"/>
<rect shape-rendering="crispEdges" x="545.6" y="324.40" width="8.1" height="6.10" fill="#63a7d3"/>
<rect shape-rendering="crispEdges" x="545.6" y="318.60" width="8.1" height="6.10" fill="#57a9de"/>
<rect shape-rendering="crispEdges" x="545.6" y="312.80" width="8.1" height="6.10" fill="#46a1dc"/>
<rect shape-rendering="crispEdges" x="545.6" y="307.00" width="8.1" height="6.10" fill="#3695d4"/>
<rect shape-rendering="crispEdges" x="545.6" y="301.20" width="8.1" height="6.10" fill="#2a8bcc"/>
<rect shape-rendering="crispEdges" x="545.6" y="295.40" width="8.1" height="6.10" fill="#2082c4"/>
<rect shape-rendering="crispEdges" x="545.6" y="289.60" width="8.1" height="6.10" fill="#1678bc"/>
<rect shape-rendering="crispEdges" x="545.6" y="283.80" width="8.1" height="6.10" fill="#0972b6"/>
<rect shape-rendering="crispEdges" x="545.6" y="278.00" width="8.1" height="6.10" fill="#0174af"/>
<rect shape-rendering="crispEdges" x="545.6" y="272.20" width="8.1" height="6.10" fill="#047ba5"/>
<rect shape-rendering="crispEdges" x="545.6" y="266.40" width="8.1" height="6.10" fill="#058296"/>
<rect shape-rendering="crispEdges" x="545.6" y="260.60" width="8.1" height="6.10" fill="#05898b"/>
<rect shape-rendering="crispEdges" x="545.6" y="254.80" width="8.1" height="6.10" fill="#048f84"/>
<rect shape-rendering="crispEdges" x="545.6" y="249.00" width="8.1" height="6.10" fill="#029679"/>
<rect shape-rendering="crispEdges" x="545.6" y="243.20" width="8.1" height="6.10" fill="#0f9f70"/>
<rect shape-rendering="crispEdges" x="545.6" y="237.40" width="8.1" height="6.10" fill="#2ca669"/>
<rect shape-rendering="crispEdges" x="545.6" y="231.60" width="8.1" height="6.10" fill="#4ead65"/>
<rect shape-rendering="crispEdges" x="545.6" y="225.80" width="8.1" height="6.10" fill="#6eb860"/>
<rect shape-rendering="crispEdges" x="545.6" y="220.00" width="8.1" height="6.10" fill="#92c658"/>
<rect shape-rendering="crispEdges" x="545.6" y="214.20" width="8.1" height="6.10" fill="#b6d250"/>
<rect shape-rendering="crispEdges" x="545.6" y="208.40" width="8.1" height="6.10" fill="#d4da4a"/>
<rect shape-rendering="crispEdges" x="545.6" y="202.60" width="8.1" height="6.10" fill="#e8de44"/>
<rect shape-rendering="crispEdges" x="545.6" y="196.80" width="8.1" height="6.10" fill="#f0dc3c"/>
<rect shape-rendering="crispEdges" x="545.6" y="191.00" width="8.1" height="6.10" fill="#f0d434"/>
<rect shape-rendering="crispEdges" x="545.6" y="185.20" width="8.1" height="6.10" fill="#f0ca2c"/>
<rect shape-rendering="crispEdges" x="545.6" y="179.40" width="8.1" height="6.10" fill="#eebe24"/>
<rect shape-rendering="crispEdges" x="545.6" y="173.60" width="8.1" height="6.10" fill="#ecb21c"/>
<rect shape-rendering="crispEdges" x="545.6" y="167.80" width="8.1" height="6.10" fill="#eaa614"/>
<rect shape-rendering="crispEdges" x="545.6" y="162.00" width="8.1" height="6.10" fill="#e79810"/>
<rect shape-rendering="crispEdges" x="545.6" y="156.20" width="8.1" height="6.10" fill="#e48810"/>
<rect shape-rendering="crispEdges" x="545.6" y="150.40" width="8.1" height="6.10" fill="#e17810"/>
<rect shape-rendering="crispEdges" x="545.6" y="144.60" width="8.1" height="6.10" fill="#df6d13"/>
<rect shape-rendering="crispEdges" x="545.6" y="138.80" width="8.1" height="6.10" fill="#dc6818"/>
<rect shape-rendering="crispEdges" x="545.6" y="133.00" width="8.1" height="6.10" fill="#d9631d"/>
<rect shape-rendering="crispEdges" x="545.6" y="127.20" width="8.1" height="6.10" fill="#d66228"/>
<rect shape-rendering="crispEdges" x="545.6" y="121.40" width="8.1" height="6.10" fill="#d26638"/>
<rect shape-rendering="crispEdges" x="545.6" y="115.60" width="8.1" height="6.10" fill="#ce6a48"/>
<rect shape-rendering="crispEdges" x="545.6" y="109.80" width="8.1" height="6.10" fill="#ca6e58"/>
<rect shape-rendering="crispEdges" x="545.6" y="104.00" width="8.1" height="6.10" fill="#c8716b"/>
<rect shape-rendering="crispEdges" x="545.6" y="98.20" width="8.1" height="6.10" fill="#c87480"/>
<rect shape-rendering="crispEdges" x="545.6" y="92.40" width="8.1" height="6.10" fill="#c87795"/>
<rect shape-rendering="crispEdges" x="545.6" y="86.60" width="8.1" height="6.10" fill="#cc729c"/>
<rect shape-rendering="crispEdges" x="545.6" y="80.80" width="8.1" height="6.10" fill="#d46694"/>
<rect shape-rendering="crispEdges" x="545.6" y="75.00" width="8.1" height="6.10" fill="#db5885"/>
<rect shape-rendering="crispEdges" x="545.6" y="69.20" width="8.1" height="6.10" fill="#e04870"/>
<rect shape-rendering="crispEdges" x="545.6" y="63.40" width="8.1" height="6.10" fill="#e5385b"/>
<rect shape-rendering="crispEdges" x="545.6" y="57.60" width="8.1" height="6.10" fill="#ee243c"/>
<rect shape-rendering="crispEdges" x="545.6" y="51.80" width="8.1" height="6.10" fill="#f90c14"/>
<rect shape-rendering="crispEdges" x="545.6" y="48.32" width="8.1" height="3.78" fill="#ff0000"/>
<line x1="553.7" y1="48.3" x2="553.7" y2="403" stroke="#000" stroke-width="1"/>
<line x1="553.7" y1="399.8" x2="561" y2="399.8" stroke="#222" stroke-width="1"/>
<text x="568.5" y="404.1" font-size="12" fill="#000">0</text>
<line x1="553.7" y1="370.8" x2="561" y2="370.8" stroke="#222" stroke-width="1"/>
<text x="568.5" y="375.1" font-size="12" fill="#000">10</text>
<line x1="553.7" y1="341.8" x2="561" y2="341.8" stroke="#222" stroke-width="1"/>
<text x="568.5" y="346.1" font-size="12" fill="#000">20</text>
<line x1="553.7" y1="312.8" x2="561" y2="312.8" stroke="#222" stroke-width="1"/>
<text x="568.5" y="317.1" font-size="12" fill="#000">30</text>
<line x1="553.7" y1="283.8" x2="561" y2="283.8" stroke="#222" stroke-width="1"/>
<text x="568.5" y="288.1" font-size="12" fill="#000">40</text>
<line x1="553.7" y1="254.8" x2="561" y2="254.8" stroke="#222" stroke-width="1"/>
<text x="568.5" y="259.1" font-size="12" fill="#000">50</text>
<line x1="553.7" y1="225.8" x2="561" y2="225.8" stroke="#222" stroke-width="1"/>
<text x="568.5" y="230.1" font-size="12" fill="#000">60</text>
<line x1="553.7" y1="196.8" x2="561" y2="196.8" stroke="#222" stroke-width="1"/>
<text x="568.5" y="201.1" font-size="12" fill="#000">70</text>
<line x1="553.7" y1="167.8" x2="561" y2="167.8" stroke="#222" stroke-width="1"/>
<text x="568.5" y="172.1" font-size="12" fill="#000">80</text>
<line x1="553.7" y1="138.8" x2="561" y2="138.8" stroke="#222" stroke-width="1"/>
<text x="568.5" y="143.1" font-size="12" fill="#000">90</text>
<line x1="553.7" y1="109.8" x2="561" y2="109.8" stroke="#222" stroke-width="1"/>
<text x="568.5" y="114.1" font-size="12" fill="#000">100</text>
<line x1="553.7" y1="80.8" x2="561" y2="80.8" stroke="#222" stroke-width="1"/>
<text x="568.5" y="85.1" font-size="12" fill="#000">110</text>
<line x1="553.7" y1="51.8" x2="561" y2="51.8" stroke="#222" stroke-width="1"/>
<text x="568.5" y="56.1" font-size="12" fill="#000">120</text>
<text x="549.6" y="45.8" text-anchor="middle" font-size="12" fill="#000">ppbV</text>
<g clip-path="url(#clipR)"><g transform="translate(600,0)" fill="none" stroke="#000" stroke-width="0.9" stroke-linejoin="round">
<path d="M205.8,31.0 L211.8,33.0 L217.8,30.4 L226.7,31.0 L231.7,32.4 L235.7,32.0"/>
<path d="M235.7,32.0 L234.7,40.0 L233.7,47.9 L229.7,57.9 L225.7,59.9 L224.7,69.9 L218.8,77.8 L216.8,83.8 L223.7,75.8 L231.7,67.9 L235.7,55.9 L239.7,43.9 L245.7,28.0"/>
<path d="M267.6,48.9 L260.6,54.9 L256.6,53.9 L254.6,48.9 L250.7,48.9 L242.7,75.8 L241.7,87.8 L243.7,101.7 L240.7,111.7 L239.7,119.7 L235.7,123.7 L230.7,128.1"/>
<path d="M329.6,34.4 L332.7,30.4 L339.9,30.4 L340.7,35.2 L343.9,42.3 L347.1,45.5 L350.3,50.3 L353.5,51.9 L359.8,51.1 L366.2,51.9 L371.0,51.1 L367.8,55.9 L374.2,57.5 L380.6,56.7 L386.9,55.9 L393.3,54.3 L400.0,53.5"/>
<path d="M354.3,28.8 L353.5,36.0 L356.7,40.7 L361.4,43.9 L367.8,44.7 L372.6,46.3 L380.6,45.5 L386.9,47.1 L391.7,47.9 L396.5,45.5 L400.0,40.7"/>
<path d="M358.2,29.6 L359.8,34.4 L366.2,37.6 L377.4,36.8 L386.9,32.8 L396.5,28.8"/>
<path d="M351.9,59.1 L358.2,63.9 L363.0,65.5 L359.8,67.8 L356.7,74.2 L348.7,82.2"/>
<path d="M362.2,66.2 L358.2,74.2 L355.9,80.6 L358.2,82.2 L364.6,79.0 L372.6,74.2 L380.6,71.8 L386.9,70.2 L380.6,73.4 L372.6,77.4 L371.0,80.6 L375.8,85.4"/>
<path d="M268.0,46.9 L276.0,47.3 L282.9,51.9 L285.9,63.9 L289.9,75.8 L294.9,91.8"/>
<path d="M307.9,128.1 L310.9,123.7 L313.8,121.7 L317.8,117.7 L320.8,112.7 L318.8,107.7"/>
<path d="M323.8,113.7 L325.8,115.7 L324.8,117.7 L323.8,113.7"/>
<path d="M329.8,33.0 L333.8,31.0 L338.8,30.0"/>
<path d="M394.0,91.8 L400.0,85.8 L406.0,80.8 L413.9,72.8 L421.9,64.9 L428.9,57.9 L429.9,53.9 L434.9,52.9 L433.9,50.9 L425.9,52.9 L423.9,48.9 L419.9,47.9 L413.9,43.9 L409.9,42.9 L406.0,49.9 L402.0,53.9 L396.0,54.9"/>
<path d="M415.9,29.0 L414.9,34.0 L417.9,40.0 L423.9,45.9 L429.9,43.9 L435.9,41.0 L441.8,36.0 L446.8,29.0"/>
<path d="M425.9,30.0 L424.9,36.0 L428.9,39.0 L432.9,37.0 L435.9,30.0"/>
<path d="M394.0,32.0 L398.0,29.0"/>
<path d="M394.0,38.0 L397.0,40.0 L395.0,43.9"/>
<path d="M28.0,155.9 L32.0,159.9 L36.0,163.9 L39.0,165.9 L42.0,170.9 L45.9,169.9 L47.9,174.8 L51.9,181.8 L57.9,187.8 L53.9,185.8 L50.9,187.8 L52.9,197.8 L47.9,197.8 L40.0,195.8 L34.0,193.8 L30.0,191.8 L29.0,185.8 L28.0,187.8"/>
<path d="M87.8,208.3 L91.8,206.7 L101.7,202.7 L105.7,200.8 L109.7,196.8"/>
<path d="M108.0,196.5 L112.8,194.9 L117.6,194.1 L122.3,191.7 L128.7,188.6 L133.5,185.4 L139.1,181.4 L141.5,178.2 L146.2,169.4 L151.0,163.1 L158.2,156.7 L171.7,152.7 L188.0,147.9"/>
<path d="M132.7,192.5 L136.7,188.6 L140.7,183.0 L142.3,178.2"/>
<path d="M132.7,192.5 L135.1,194.1 L136.7,194.9 L135.9,198.1 L137.5,201.3 L139.1,206.1 L139.9,208.0"/>
<path d="M108.0,198.1 L112.8,194.9 L119.2,192.5 L121.5,194.9 L123.1,198.9 L119.2,202.1 L114.4,202.9 L109.6,202.1 L108.0,201.3"/>
<path d="M188.0,148.7 L226.2,137.6 L226.2,130.4 L228.6,128.0 L233.4,128.0"/>
<path d="M189.6,148.7 L190.4,156.7 L194.4,166.2 L193.6,175.8 L197.6,185.4 L198.4,191.7 L200.7,194.9 L203.1,202.9 L204.7,208.0"/>
<path d="M226.2,137.6 L227.0,148.7 L228.6,151.9 L226.2,158.3 L222.3,162.3 L221.5,172.6 L220.7,182.2 L220.7,188.6 L222.3,199.7 L223.1,208.0"/>
<path d="M233.4,128.0 L239.0,143.9 L243.8,159.9 L248.6,172.6 L250.2,179.0 L254.9,185.4 L258.1,188.6 L258.9,194.9 L262.9,199.7 L264.5,202.9 L262.1,204.5 L258.9,207.7"/>
<path d="M268.0,164.7 L271.2,159.9 L276.0,156.7 L283.9,150.3 L284.7,140.7 L283.9,139.2 L287.1,134.4 L288.7,139.2 L293.5,140.7 L295.1,136.0 L299.9,132.8 L304.7,129.6 L307.8,128.0"/>
<path d="M342.9,128.0 L346.1,134.4 L348.0,137.6"/>
<path d="M89.4,208.0 L80.6,211.2 L75.8,215.2 L70.2,220.7 L67.0,225.5 L64.7,232.7 L69.4,234.3 L75.8,233.5 L80.6,230.3 L85.4,227.9 L91.7,225.5 L98.1,223.1 L108.0,221.5"/>
<path d="M28.0,263.8 L32.8,259.0 L40.7,256.6 L48.7,257.4 L54.3,258.2 L63.1,257.4 L54.3,255.8 L56.7,251.0 L66.2,247.0 L75.8,244.7 L85.4,242.3"/>
<path d="M80.6,231.9 L83.0,236.7 L86.2,240.7 L87.0,243.9 L83.8,249.4 L79.0,255.8 L71.0,265.4 L64.7,271.7 L56.7,278.1 L47.1,282.9 L37.6,288.0"/>
<path d="M71.0,265.4 L72.6,272.5 L108.0,264.6"/>
<path d="M108.0,221.5 L114.4,223.9 L122.3,222.3 L128.7,218.4 L132.7,214.4 L135.9,210.4 L139.9,208.0"/>
<path d="M108.0,264.6 L127.1,259.8 L147.8,255.0 L167.8,250.7 L171.7,253.4 L176.5,255.8 L178.1,262.2 L181.3,265.4 L186.1,267.0 L188.0,266.2"/>
<path d="M188.0,266.2 L186.1,268.6 L184.5,276.5 L182.9,282.9 L181.3,288.0"/>
<path d="M204.7,208.0 L207.1,217.6 L207.9,228.7 L207.9,238.3 L209.5,249.4 L210.3,262.2 L211.9,267.0"/>
<path d="M207.9,216.0 L224.7,211.2 L240.6,208.0"/>
<path d="M208.7,238.3 L229.4,231.9 L245.4,228.7 L256.5,227.1"/>
<path d="M245.4,228.7 L247.8,239.9 L248.6,247.8"/>
<path d="M256.5,227.1 L258.1,235.1 L262.9,238.3 L268.0,237.5"/>
<path d="M211.9,267.0 L219.9,263.0 L227.8,259.0 L235.8,255.8 L243.8,251.8 L248.6,248.6 L254.9,246.2 L262.9,241.5 L268.0,239.1"/>
<path d="M188.0,267.0 L197.6,270.2 L203.9,273.3"/>
<path d="M268.0,217.6 L270.4,222.3 L274.4,227.1 L279.2,227.9 L283.9,225.5 L287.9,227.1 L287.1,223.1 L285.5,220.7 L282.3,217.6"/>
<path d="M287.9,227.1 L280.7,230.3 L276.0,235.1 L272.8,239.1 L268.0,238.3"/>
<path d="M272.0,242.3 L275.2,238.3 L278.4,240.7 L274.4,242.3 L272.0,242.3"/>
<path d="M285.5,240.7 L288.7,236.7 L291.1,239.9 L287.1,241.5 L285.5,240.7"/>
<path d="M60.7,303.9 L62.3,313.5 L63.9,319.9 L61.5,324.7 L65.5,327.8 L67.0,335.8 L68.6,344.6 L75.8,343.8 L83.8,342.2 L91.7,340.6 L101.3,339.0 L108.0,338.2"/>
<path d="M66.2,335.8 L62.3,340.6 L61.5,348.6 L56.7,353.3 L50.3,359.7 L43.9,366.1 L43.1,368.0"/>
<path d="M207.8,285.5 L208.7,289.6 L211.9,297.6 L211.9,307.1 L211.1,315.1 L208.7,319.9 L205.5,326.2 L203.9,332.6 L202.3,339.0 L200.0,340.6 L197.6,334.2 L194.4,335.0 L191.2,332.6 L188.0,332.6"/>
<path d="M43.9,368.0 L43.1,371.2 L40.7,373.6 L37.6,375.2 L35.2,380.7 L33.6,387.1 L31.2,391.9 L29.6,399.9 L28.8,404.7 L31.2,407.8 L36.0,412.6 L40.7,415.8 L43.9,419.0 L46.3,419.8 L47.1,422.2"/>
<path d="M104.5,368.0 L102.9,374.4 L99.7,379.2 L96.5,377.6 L94.1,378.4 L93.3,383.9 L91.7,390.3 L88.6,396.7 L86.2,404.7 L84.6,409.4 L83.8,413.4 L79.0,415.8 L74.2,419.0 L71.0,422.2"/>
<path d="M300.0,93.5 L303.2,93.5 L305.6,100.7 L308.0,105.5 L312.7,103.9 L319.1,103.9 L323.9,100.7 L330.3,97.5 L333.4,92.7 L334.2,88.0 L336.6,93.5 L341.4,91.1 L347.8,83.2 L351.0,80.0"/>
<path d="M366.9,80.0 L360.5,86.4 L354.1,94.3 L347.8,103.9 L343.0,111.8 L340.6,119.8 L343.0,126.2 L347.8,135.7 L352.5,134.9 L357.3,140.5 L360.5,142.1 L365.3,138.9 L371.7,129.4 L376.4,121.4 L379.6,108.7 L381.2,99.1 L386.0,95.1 L392.4,92.7 L400.0,86.4"/>
<path d="M323.9,113.4 L325.5,116.6 L326.3,115.0 L323.9,113.4"/>
<path d="M80.0,340.5 L100.5,337.4 L121.0,333.3 L141.5,329.2 L162.1,325.1 L168.2,324.1"/>
<path d="M91.3,339.5 L92.3,346.7 L94.4,355.9 L99.5,350.8 L106.7,342.6 L112.8,340.5 L121.0,337.4 L127.2,339.5 L133.3,343.6 L141.5,346.7 L147.7,348.7 L151.8,355.9 L153.8,361.0 L152.8,367.2"/>
<path d="M121.0,338.5 L117.9,346.7 L115.9,352.8 L112.8,361.0 L106.7,371.3 L102.6,375.4 L96.4,376.4 L93.3,379.5 L92.3,389.7 L88.2,397.9 L86.2,408.2 L84.1,414.4 L81.0,420.5 L80.0,423.0"/>
<path d="M177.5,260.0 L180.7,263.2 L185.5,266.4 L195.1,269.6 L199.8,270.4 L206.2,275.9 L209.4,282.3 L207.8,285.5"/>
<path d="M185.5,266.4 L183.9,272.7 L183.1,280.7 L185.5,288.7 L187.1,295.1 L188.7,301.4 L190.3,311.0 L187.9,315.0 L183.9,320.6 L179.1,326.9 L175.9,331.7 L169.6,336.5"/>
<path d="M206.0,287.8 L210.0,284.8 L219.9,280.8 L229.9,274.9 L239.8,268.9 L251.8,258.4"/>
<path d="M219.9,278.8 L229.9,272.9 L237.8,266.9 L242.8,261.4 L251.8,257.9"/>
<path d="M170.5,324.8 L171.1,329.6 L169.3,334.3 L167.5,340.3 L165.1,345.1 L163.9,349.9 L165.1,354.6 L162.7,359.4 L160.3,365.4 L163.9,370.2 L169.9,372.6 L173.5,376.2"/>
<path d="M172.3,330.8 L169.9,337.9 L171.1,343.9 L172.3,349.9 L173.5,354.6 L175.8,360.6 L179.4,365.4 L184.2,370.2 L187.8,375.0"/>
<path d="M177.0,331.9 L179.4,337.9 L181.8,343.9 L184.2,351.1 L185.4,355.8 L190.2,358.2 L198.5,357.0"/>
<path d="M181.2,324.8 L185.4,330.8 L190.2,334.3 L195.0,334.3 L198.5,336.7 L199.7,340.3 L198.5,343.9 L197.3,349.9 L198.5,353.5 L199.7,357.0 L200.9,361.8 L200.3,365.4"/>
<path d="M155.4,376.5 L162.3,381.2 L168.1,384.6 L172.7,388.1 L176.2,391.6 L178.5,395.0 L179.6,398.5"/>
<path d="M156.5,368.5 L162.3,371.9 L168.1,374.2 L172.7,377.7 L175.0,381.2 L176.2,384.6 L177.3,389.2 L179.6,392.7 L180.8,397.3 L179.6,399.6"/>
<path d="M166.9,394.4 L171.6,397.3 L176.2,399.6"/>
<path d="M161.2,402.0 L168.1,403.1 L173.9,404.3 L176.2,404.3"/>
<path d="M184.3,371.9 L186.6,376.5 L188.9,375.4 L190.0,380.0 L188.9,384.6 L187.7,391.6 L187.7,397.3 L188.9,400.8"/>
<path d="M199.3,365.0 L198.1,370.8 L194.7,375.4 L193.5,381.2 L192.3,388.1 L190.0,395.0 L188.9,400.8"/>
<path d="M183.1,408.9 L190.0,408.3 L193.5,414.7 L195.8,421.6"/>
<path d="M179.6,421.6 L185.4,420.4 L193.5,418.1 L195.8,422.7"/>
<path d="M56.5,281.0 L57.5,292.0 L60.7,304.0"/>
<path d="M294.9,91.8 L298.0,92.5 L300.0,93.5"/>
<path d="M466.8,83.8 L470.7,82.8 L473.7,80.8 L474.7,78.8" stroke-width="1.8"/>
</g></g>
<g clip-path="url(#clipR)" stroke="#222" stroke-width="1.1">
<circle cx="638.0" cy="291.5" r="4.0" fill="#e6e6e6"/>
<circle cx="645.5" cy="285.5" r="4.0" fill="#e6e6e6"/>
<circle cx="781.6" cy="171.8" r="4.0" fill="#7cc680"/>
<circle cx="782.4" cy="170.5" r="4.0" fill="#c2e0c2"/>
<circle cx="740.7" cy="190.6" r="4.0" fill="#c2e0c2"/>
<circle cx="776.2" cy="202.1" r="4.0" fill="#d9e5d9"/>
<circle cx="881.0" cy="64.9" r="4.0" fill="#b8dcb8"/>
<circle cx="916.8" cy="109.3" r="4.0" fill="#acd8ac"/>
<circle cx="886.9" cy="126.7" r="4.0" fill="#94d094"/>
<circle cx="909.9" cy="126.1" r="4.0" fill="#7cc680"/>
<circle cx="802.3" cy="159.9" r="4.0" fill="#cce4cc"/>
<circle cx="845.4" cy="152.2" r="4.0" fill="#d9e5d9"/>
<circle cx="837.4" cy="159.1" r="4.0" fill="#44ac70"/>
<circle cx="838.7" cy="157.0" r="4.0" fill="#c2e0c2"/>
<circle cx="866.1" cy="150.3" r="4.0" fill="#e6e6e6"/>
<circle cx="863.7" cy="159.9" r="4.0" fill="#cce4cc"/>
<circle cx="831.0" cy="170.7" r="4.0" fill="#cce4cc"/>
<circle cx="866.1" cy="169.4" r="4.0" fill="#e6e6e6"/>
<circle cx="866.1" cy="173.4" r="4.0" fill="#c2e0c2"/>
<circle cx="851.4" cy="176.3" r="4.0" fill="#94d094"/>
<circle cx="838.7" cy="180.6" r="4.0" fill="#acd8ac"/>
<circle cx="862.1" cy="181.4" r="4.0" fill="#acd8ac"/>
<circle cx="807.1" cy="188.6" r="4.0" fill="#f0de3e"/>
<circle cx="821.5" cy="183.8" r="4.0" fill="#eae5c8"/>
<circle cx="841.1" cy="191.4" r="4.0" fill="#e6e6e6"/>
<circle cx="858.9" cy="191.4" r="4.0" fill="#f0dd3d"/>
<circle cx="847.0" cy="201.3" r="4.0" fill="#f0de3e"/>
<circle cx="853.3" cy="202.1" r="4.0" fill="#acd8ac"/>
<circle cx="827.0" cy="204.5" r="4.0" fill="#eae5c8"/>
<circle cx="836.6" cy="204.2" r="4.0" fill="#e6e6e6"/>
<circle cx="899.4" cy="136.0" r="4.0" fill="#70c078"/>
<circle cx="882.3" cy="155.9" r="4.0" fill="#a0d4a0"/>
<circle cx="872.8" cy="165.0" r="4.0" fill="#b8dcb8"/>
<circle cx="693.0" cy="229.0" r="4.0" fill="#e6e6e6"/>
<circle cx="688.6" cy="237.5" r="4.0" fill="#e6e6e6"/>
<circle cx="665.9" cy="269.0" r="4.0" fill="#e6e6e6"/>
<circle cx="655.1" cy="276.8" r="4.0" fill="#e6e6e6"/>
<circle cx="640.7" cy="286.1" r="4.0" fill="#e6e6e6"/>
<circle cx="696.5" cy="280.5" r="4.0" fill="#a0d4a0"/>
<circle cx="713.6" cy="227.4" r="4.0" fill="#e6e6e6"/>
<circle cx="721.5" cy="223.1" r="4.0" fill="#e6e6e6"/>
<circle cx="735.9" cy="217.6" r="4.0" fill="#eae5c8"/>
<circle cx="746.2" cy="222.7" r="4.0" fill="#dee5de"/>
<circle cx="737.5" cy="245.5" r="4.0" fill="#e6e6e6"/>
<circle cx="727.9" cy="257.4" r="4.0" fill="#e6e6e6"/>
<circle cx="745.5" cy="266.2" r="4.0" fill="#f0de3e"/>
<circle cx="736.7" cy="269.8" r="4.0" fill="#e6e6e6"/>
<circle cx="767.0" cy="268.2" r="4.0" fill="#f0c026"/>
<circle cx="775.7" cy="278.1" r="4.0" fill="#f0e06b"/>
<circle cx="782.9" cy="281.8" r="4.0" fill="#f0e06b"/>
<circle cx="739.1" cy="281.6" r="4.0" fill="#e6e6e6"/>
<circle cx="797.9" cy="210.4" r="4.0" fill="#cce4cc"/>
<circle cx="797.9" cy="221.1" r="4.0" fill="#e6e6e6"/>
<circle cx="810.8" cy="224.7" r="4.0" fill="#cce4cc"/>
<circle cx="823.1" cy="216.8" r="4.0" fill="#ece6bd"/>
<circle cx="831.0" cy="223.9" r="4.0" fill="#d9e5d9"/>
<circle cx="827.0" cy="228.7" r="4.0" fill="#e6e6e6"/>
<circle cx="841.4" cy="222.0" r="4.0" fill="#d9e5d9"/>
<circle cx="848.2" cy="225.5" r="4.0" fill="#e6e6e6"/>
<circle cx="832.9" cy="234.3" r="4.0" fill="#c2e0c2"/>
<circle cx="842.2" cy="235.9" r="4.0" fill="#d9e5d9"/>
<circle cx="829.1" cy="241.5" r="4.0" fill="#d9e5d9"/>
<circle cx="850.5" cy="240.7" r="4.0" fill="#e6e6e6"/>
<circle cx="814.3" cy="244.3" r="4.0" fill="#acd8ac"/>
<circle cx="805.2" cy="247.8" r="4.0" fill="#acd8ac"/>
<circle cx="831.0" cy="248.6" r="4.0" fill="#cce4cc"/>
<circle cx="844.6" cy="251.0" r="4.0" fill="#acd8ac"/>
<circle cx="857.3" cy="242.3" r="4.0" fill="#cce4cc"/>
<circle cx="856.5" cy="247.0" r="4.0" fill="#f0ce2e"/>
<circle cx="861.6" cy="235.1" r="4.0" fill="#e6e6e6"/>
<circle cx="866.9" cy="234.3" r="4.0" fill="#e6e6e6"/>
<circle cx="807.9" cy="258.2" r="4.0" fill="#c2e0c2"/>
<circle cx="814.8" cy="258.2" r="4.0" fill="#b8dcb8"/>
<circle cx="827.0" cy="257.7" r="4.0" fill="#eee49b"/>
<circle cx="835.0" cy="257.1" r="4.0" fill="#e6e6e6"/>
<circle cx="834.2" cy="267.0" r="4.0" fill="#60b874"/>
<circle cx="819.1" cy="265.4" r="4.0" fill="#e6e6e6"/>
<circle cx="825.0" cy="269.4" r="4.0" fill="#e6e6e6"/>
<circle cx="828.6" cy="272.5" r="4.0" fill="#e6e6e6"/>
<circle cx="810.3" cy="270.2" r="4.0" fill="#ece6bd"/>
<circle cx="814.3" cy="270.2" r="4.0" fill="#f0e06b"/>
<circle cx="803.6" cy="267.8" r="4.0" fill="#e6e6e6"/>
<circle cx="799.2" cy="273.3" r="4.0" fill="#e6e6e6"/>
<circle cx="805.5" cy="277.3" r="4.0" fill="#f0c026"/>
<circle cx="807.9" cy="278.1" r="4.0" fill="#e6e6e6"/>
<circle cx="811.1" cy="280.5" r="4.0" fill="#ece6bd"/>
<circle cx="819.9" cy="277.3" r="4.0" fill="#ece6bd"/>
<circle cx="792.5" cy="283.7" r="4.0" fill="#e8e4d2"/>
<circle cx="804.7" cy="284.2" r="4.0" fill="#edad1d"/>
<circle cx="803.9" cy="286.9" r="4.0" fill="#f0de3e"/>
<circle cx="858.9" cy="210.4" r="4.0" fill="#ece6bd"/>
<circle cx="858.1" cy="215.2" r="4.0" fill="#f0e06b"/>
<circle cx="858.9" cy="219.2" r="4.0" fill="#acd8ac"/>
<circle cx="861.6" cy="223.1" r="4.0" fill="#ece6bd"/>
<circle cx="849.4" cy="209.6" r="4.0" fill="#e6e6e6"/>
<circle cx="883.1" cy="218.8" r="4.0" fill="#ede5ad"/>
<circle cx="640.0" cy="292.0" r="4.0" fill="#e6e6e6"/>
<circle cx="642.3" cy="293.6" r="4.0" fill="#e6e6e6"/>
<circle cx="632.8" cy="296.0" r="4.0" fill="#f0de3e"/>
<circle cx="630.4" cy="300.7" r="4.0" fill="#c2e0c2"/>
<circle cx="657.2" cy="292.8" r="4.0" fill="#c2e0c2"/>
<circle cx="667.0" cy="292.0" r="4.0" fill="#cce4cc"/>
<circle cx="656.7" cy="300.0" r="4.0" fill="#94d094"/>
<circle cx="661.1" cy="300.0" r="4.0" fill="#cce4cc"/>
<circle cx="658.3" cy="303.9" r="4.0" fill="#e6e6e6"/>
<circle cx="642.3" cy="303.9" r="4.0" fill="#c2e0c2"/>
<circle cx="638.8" cy="307.1" r="4.0" fill="#d9e5d9"/>
<circle cx="647.9" cy="310.3" r="4.0" fill="#d9e5d9"/>
<circle cx="643.6" cy="314.8" r="4.0" fill="#c2e0c2"/>
<circle cx="630.4" cy="310.3" r="4.0" fill="#b8dcb8"/>
<circle cx="639.2" cy="319.9" r="4.0" fill="#94d094"/>
<circle cx="683.5" cy="307.9" r="4.0" fill="#e6e6e6"/>
<circle cx="667.0" cy="313.8" r="4.0" fill="#f0e06b"/>
<circle cx="681.4" cy="314.6" r="4.0" fill="#cce4cc"/>
<circle cx="677.1" cy="320.7" r="4.0" fill="#f0dd3d"/>
<circle cx="699.4" cy="312.7" r="4.0" fill="#c2e0c2"/>
<circle cx="701.3" cy="320.7" r="4.0" fill="#c2e0c2"/>
<circle cx="687.8" cy="323.1" r="4.0" fill="#b8dcb8"/>
<circle cx="663.1" cy="323.9" r="4.0" fill="#e6e6e6"/>
<circle cx="667.5" cy="322.7" r="4.0" fill="#d9e5d9"/>
<circle cx="672.6" cy="323.1" r="4.0" fill="#2ca470"/>
<circle cx="671.0" cy="327.8" r="4.0" fill="#acd8ac"/>
<circle cx="679.8" cy="329.8" r="4.0" fill="#d9e5d9"/>
<circle cx="683.5" cy="336.6" r="4.0" fill="#94d094"/>
<circle cx="695.3" cy="331.3" r="4.0" fill="#b8dcb8"/>
<circle cx="661.8" cy="334.2" r="4.0" fill="#b8dcb8"/>
<circle cx="648.4" cy="341.9" r="4.0" fill="#acd8ac"/>
<circle cx="673.9" cy="341.7" r="4.0" fill="#94d094"/>
<circle cx="682.2" cy="345.1" r="4.0" fill="#c2e0c2"/>
<circle cx="702.6" cy="339.0" r="4.0" fill="#acd8ac"/>
<circle cx="648.4" cy="358.1" r="4.0" fill="#acd8ac"/>
<circle cx="646.8" cy="361.6" r="4.0" fill="#eae5c8"/>
<circle cx="691.4" cy="361.0" r="4.0" fill="#acd8ac"/>
<circle cx="777.3" cy="292.5" r="4.0" fill="#f0e06b"/>
<circle cx="776.2" cy="294.4" r="4.0" fill="#d9e5d9"/>
<circle cx="721.5" cy="299.5" r="4.0" fill="#ece6bd"/>
<circle cx="720.7" cy="303.1" r="4.0" fill="#eee49b"/>
<circle cx="712.0" cy="310.6" r="4.0" fill="#e6e6e6"/>
<circle cx="769.4" cy="298.4" r="4.0" fill="#e6e6e6"/>
<circle cx="766.2" cy="303.1" r="4.0" fill="#e6e6e6"/>
<circle cx="757.4" cy="306.8" r="4.0" fill="#ece6bd"/>
<circle cx="751.0" cy="310.3" r="4.0" fill="#f0e06b"/>
<circle cx="747.0" cy="311.9" r="4.0" fill="#eae5c8"/>
<circle cx="782.6" cy="307.4" r="4.0" fill="#f0dd3d"/>
<circle cx="765.4" cy="313.8" r="4.0" fill="#f0e06b"/>
<circle cx="761.4" cy="315.1" r="4.0" fill="#eae5c8"/>
<circle cx="752.6" cy="318.3" r="4.0" fill="#e6e6e6"/>
<circle cx="759.0" cy="321.5" r="4.0" fill="#e6e6e6"/>
<circle cx="774.9" cy="318.3" r="4.0" fill="#d9e5d9"/>
<circle cx="781.3" cy="319.1" r="4.0" fill="#f0e06b"/>
<circle cx="735.9" cy="323.9" r="4.0" fill="#f0e06b"/>
<circle cx="739.9" cy="324.3" r="4.0" fill="#e6e6e6"/>
<circle cx="773.3" cy="323.1" r="4.0" fill="#ece6bd"/>
<circle cx="777.3" cy="327.0" r="4.0" fill="#eae5c8"/>
<circle cx="767.0" cy="329.1" r="4.0" fill="#eae5c8"/>
<circle cx="732.7" cy="336.6" r="4.0" fill="#d9e5d9"/>
<circle cx="741.1" cy="339.8" r="4.0" fill="#ece6bd"/>
<circle cx="748.6" cy="337.4" r="4.0" fill="#eee49b"/>
<circle cx="757.4" cy="334.2" r="4.0" fill="#e6e6e6"/>
<circle cx="759.8" cy="339.0" r="4.0" fill="#e6e6e6"/>
<circle cx="763.0" cy="339.0" r="4.0" fill="#d9e5d9"/>
<circle cx="765.4" cy="335.0" r="4.0" fill="#e6e6e6"/>
<circle cx="785.3" cy="343.0" r="4.0" fill="#ece6bd"/>
<circle cx="725.8" cy="347.3" r="4.0" fill="#eee49b"/>
<circle cx="749.4" cy="347.8" r="4.0" fill="#eae5c8"/>
<circle cx="755.8" cy="348.6" r="4.0" fill="#e6e6e6"/>
<circle cx="741.5" cy="351.7" r="4.0" fill="#f0de3e"/>
<circle cx="752.6" cy="353.3" r="4.0" fill="#f0dd3d"/>
<circle cx="759.0" cy="354.9" r="4.0" fill="#ece6bd"/>
<circle cx="737.5" cy="358.1" r="4.0" fill="#ece6bd"/>
<circle cx="751.8" cy="358.1" r="4.0" fill="#f0de3e"/>
<circle cx="785.3" cy="353.0" r="4.0" fill="#ece6bd"/>
<circle cx="774.9" cy="358.1" r="4.0" fill="#eee49b"/>
<circle cx="763.0" cy="362.9" r="4.0" fill="#eee49b"/>
<circle cx="758.2" cy="365.3" r="4.0" fill="#ece6bd"/>
<circle cx="747.5" cy="366.9" r="4.0" fill="#f0e06b"/>
<circle cx="791.2" cy="292.8" r="4.0" fill="#e6e6e6"/>
<circle cx="800.0" cy="292.0" r="4.0" fill="#f0ce2e"/>
<circle cx="810.8" cy="295.2" r="4.0" fill="#eee49b"/>
<circle cx="791.2" cy="299.2" r="4.0" fill="#d9e5d9"/>
<circle cx="802.3" cy="304.3" r="4.0" fill="#eee49b"/>
<circle cx="790.4" cy="306.3" r="4.0" fill="#f0de3e"/>
<circle cx="789.6" cy="310.3" r="4.0" fill="#e6e6e6"/>
<circle cx="788.8" cy="317.5" r="4.0" fill="#e6e6e6"/>
<circle cx="796.0" cy="318.3" r="4.0" fill="#eae5c8"/>
<circle cx="806.8" cy="322.3" r="4.0" fill="#f0c82a"/>
<circle cx="794.4" cy="327.0" r="4.0" fill="#ede5ad"/>
<circle cx="795.6" cy="347.3" r="4.0" fill="#edad1d"/>
<circle cx="630.4" cy="387.1" r="4.0" fill="#94d094"/>
<circle cx="631.2" cy="393.5" r="4.0" fill="#e6e6e6"/>
<circle cx="650.3" cy="392.2" r="4.0" fill="#f0e04e"/>
<circle cx="675.3" cy="401.5" r="4.0" fill="#94d094"/>
<circle cx="703.2" cy="405.1" r="4.0" fill="#cce4cc"/>
<circle cx="633.1" cy="422.2" r="4.0" fill="#94d094"/>
<circle cx="682.7" cy="418.7" r="4.0" fill="#94d094"/>
<circle cx="696.2" cy="417.1" r="4.0" fill="#c2e0c2"/>
<circle cx="714.4" cy="375.6" r="4.0" fill="#e6e6e6"/>
<circle cx="723.1" cy="372.8" r="4.0" fill="#2ca470"/>
<circle cx="738.6" cy="370.9" r="4.0" fill="#eae5c8"/>
<circle cx="747.5" cy="368.8" r="4.0" fill="#f0de3e"/>
<circle cx="749.1" cy="376.8" r="4.0" fill="#f0e06b"/>
<circle cx="723.9" cy="386.3" r="4.0" fill="#eae5c8"/>
<circle cx="756.6" cy="394.0" r="4.0" fill="#ece6bd"/>
<circle cx="752.9" cy="396.7" r="4.0" fill="#efe283"/>
<circle cx="749.4" cy="403.9" r="4.0" fill="#eee49b"/>
<circle cx="757.4" cy="402.3" r="4.0" fill="#f0dd3d"/>
<circle cx="779.4" cy="405.0" r="4.0" fill="#ece6bd"/>
<circle cx="779.7" cy="411.3" r="4.0" fill="#f0de3e"/>
<circle cx="734.3" cy="413.4" r="4.0" fill="#e6e6e6"/>
<circle cx="774.1" cy="419.5" r="4.0" fill="#eee49b"/>
</g>
<rect x="628.5" y="28.5" width="485" height="394" fill="none" stroke="#222" stroke-width="1"/>
<line x1="621.3" y1="38.0" x2="628.5" y2="38.0" stroke="#222" stroke-width="1"/>
<text transform="translate(612.4,38.0) rotate(-90)" text-anchor="middle" font-size="12" fill="#000">50.5</text>
<line x1="621.3" y1="101.3" x2="628.5" y2="101.3" stroke="#222" stroke-width="1"/>
<text transform="translate(612.4,101.3) rotate(-90)" text-anchor="middle" font-size="12" fill="#000">48.5</text>
<line x1="621.3" y1="163.8" x2="628.5" y2="163.8" stroke="#222" stroke-width="1"/>
<text transform="translate(612.4,163.8) rotate(-90)" text-anchor="middle" font-size="12" fill="#000">46.5</text>
<line x1="621.3" y1="226.4" x2="628.5" y2="226.4" stroke="#222" stroke-width="1"/>
<text transform="translate(612.4,226.4) rotate(-90)" text-anchor="middle" font-size="12" fill="#000">44.5</text>
<line x1="621.3" y1="288.4" x2="628.5" y2="288.4" stroke="#222" stroke-width="1"/>
<text transform="translate(612.4,288.4) rotate(-90)" text-anchor="middle" font-size="12" fill="#000">42.5</text>
<line x1="621.3" y1="350.4" x2="628.5" y2="350.4" stroke="#222" stroke-width="1"/>
<text transform="translate(612.4,350.4) rotate(-90)" text-anchor="middle" font-size="12" fill="#000">40.5</text>
<line x1="621.3" y1="412.5" x2="628.5" y2="412.5" stroke="#222" stroke-width="1"/>
<text transform="translate(612.4,412.5) rotate(-90)" text-anchor="middle" font-size="12" fill="#000">38.5</text>
<line x1="643.8" y1="422.5" x2="643.8" y2="430" stroke="#222" stroke-width="1"/>
<text x="643.8" y="448.5" text-anchor="middle" font-size="12" fill="#000">-83.5</text>
<line x1="695.5" y1="422.5" x2="695.5" y2="430" stroke="#222" stroke-width="1"/>
<text x="695.5" y="448.5" text-anchor="middle" font-size="12" fill="#000">-81.5</text>
<line x1="747.5" y1="422.5" x2="747.5" y2="430" stroke="#222" stroke-width="1"/>
<text x="747.5" y="448.5" text-anchor="middle" font-size="12" fill="#000">-79.5</text>
<line x1="799.0" y1="422.5" x2="799.0" y2="430" stroke="#222" stroke-width="1"/>
<text x="799.0" y="448.5" text-anchor="middle" font-size="12" fill="#000">-77.5</text>
<line x1="850.4" y1="422.5" x2="850.4" y2="430" stroke="#222" stroke-width="1"/>
<text x="850.4" y="448.5" text-anchor="middle" font-size="12" fill="#000">-75.5</text>
<line x1="901.3" y1="422.5" x2="901.3" y2="430" stroke="#222" stroke-width="1"/>
<text x="901.3" y="448.5" text-anchor="middle" font-size="12" fill="#000">-73.5</text>
<line x1="951.5" y1="422.5" x2="951.5" y2="430" stroke="#222" stroke-width="1"/>
<text x="951.5" y="448.5" text-anchor="middle" font-size="12" fill="#000">-71.5</text>
<line x1="1002.1" y1="422.5" x2="1002.1" y2="430" stroke="#222" stroke-width="1"/>
<text x="1002.1" y="448.5" text-anchor="middle" font-size="12" fill="#000">-69.5</text>
<line x1="1052.1" y1="422.5" x2="1052.1" y2="430" stroke="#222" stroke-width="1"/>
<text x="1052.1" y="448.5" text-anchor="middle" font-size="12" fill="#000">-67.5</text>
<line x1="1101.5" y1="422.5" x2="1101.5" y2="430" stroke="#222" stroke-width="1"/>
<text x="1101.5" y="448.5" text-anchor="middle" font-size="12" fill="#000">-65.5</text>
<text x="871.8" y="19.3" text-anchor="middle" font-size="14" font-weight="bold" fill="#000" textLength="278" lengthAdjust="spacingAndGlyphs">EMBER bias: O3_8HRMAX on 04/14/2025</text>
<text x="871.2" y="469.7" text-anchor="middle" font-size="12" fill="#000">Bias Summary: [ min, 25th %, 50th %, 75th %, max ]</text>
<text x="892.75" y="484.4" text-anchor="middle" font-size="12" fill="#000" xml:space="preserve" textLength="146.5" lengthAdjust="spacingAndGlyphs">[ -8.8,   -2,   0.16,   2.6,   12 ]</text>
<circle cx="1072.3" cy="408.3" r="2.3" fill="#000"/>
<text x="1083" y="412.3" font-size="12" fill="#000">AQS</text>
<rect shape-rendering="crispEdges" x="1146" y="394.49" width="7.7" height="9.01" fill="#5f298c"/>
<rect shape-rendering="crispEdges" x="1146" y="388.67" width="7.7" height="6.11" fill="#652897"/>
<rect shape-rendering="crispEdges" x="1146" y="382.86" width="7.7" height="6.11" fill="#6b26a3"/>
<rect shape-rendering="crispEdges" x="1146" y="377.04" width="7.7" height="6.11" fill="#7124af"/>
<rect shape-rendering="crispEdges" x="1146" y="371.23" width="7.7" height="6.11" fill="#7723ba"/>
<rect shape-rendering="crispEdges" x="1146" y="365.42" width="7.7" height="6.11" fill="#7324c5"/>
<rect shape-rendering="crispEdges" x="1146" y="359.60" width="7.7" height="6.11" fill="#6529d0"/>
<rect shape-rendering="crispEdges" x="1146" y="353.79" width="7.7" height="6.11" fill="#572edb"/>
<rect shape-rendering="crispEdges" x="1146" y="347.97" width="7.7" height="6.11" fill="#3f30e4"/>
<rect shape-rendering="crispEdges" x="1146" y="342.16" width="7.7" height="6.11" fill="#1c30ec"/>
<rect shape-rendering="crispEdges" x="1146" y="336.35" width="7.7" height="6.11" fill="#0a35e9"/>
<rect shape-rendering="crispEdges" x="1146" y="330.53" width="7.7" height="6.11" fill="#0a40dc"/>
<rect shape-rendering="crispEdges" x="1146" y="324.72" width="7.7" height="6.11" fill="#0a4bcf"/>
<rect shape-rendering="crispEdges" x="1146" y="318.90" width="7.7" height="6.11" fill="#0a57c1"/>
<rect shape-rendering="crispEdges" x="1146" y="313.09" width="7.7" height="6.11" fill="#0b64b4"/>
<rect shape-rendering="crispEdges" x="1146" y="307.28" width="7.7" height="6.11" fill="#0c71a7"/>
<rect shape-rendering="crispEdges" x="1146" y="301.46" width="7.7" height="6.11" fill="#0c7b9b"/>
<rect shape-rendering="crispEdges" x="1146" y="295.65" width="7.7" height="6.11" fill="#0b8292"/>
<rect shape-rendering="crispEdges" x="1146" y="289.83" width="7.7" height="6.11" fill="#0b8989"/>
<rect shape-rendering="crispEdges" x="1146" y="284.02" width="7.7" height="6.11" fill="#0a9080"/>
<rect shape-rendering="crispEdges" x="1146" y="278.21" width="7.7" height="6.11" fill="#109878"/>
<rect shape-rendering="crispEdges" x="1146" y="272.39" width="7.7" height="6.11" fill="#20a070"/>
<rect shape-rendering="crispEdges" x="1146" y="266.58" width="7.7" height="6.11" fill="#38a870"/>
<rect shape-rendering="crispEdges" x="1146" y="260.76" width="7.7" height="6.11" fill="#50b070"/>
<rect shape-rendering="crispEdges" x="1146" y="254.95" width="7.7" height="6.11" fill="#70c078"/>
<rect shape-rendering="crispEdges" x="1146" y="249.14" width="7.7" height="6.11" fill="#88cc88"/>
<rect shape-rendering="crispEdges" x="1146" y="243.32" width="7.7" height="6.11" fill="#a0d4a0"/>
<rect shape-rendering="crispEdges" x="1146" y="237.51" width="7.7" height="6.11" fill="#b8dcb8"/>
<rect shape-rendering="crispEdges" x="1146" y="231.69" width="7.7" height="6.11" fill="#cce4cc"/>
<rect shape-rendering="crispEdges" x="1146" y="225.88" width="7.7" height="6.11" fill="#e6e6e6"/>
<rect shape-rendering="crispEdges" x="1146" y="220.07" width="7.7" height="6.11" fill="#e6e6e6"/>
<rect shape-rendering="crispEdges" x="1146" y="214.25" width="7.7" height="6.11" fill="#e8e4d4"/>
<rect shape-rendering="crispEdges" x="1146" y="208.44" width="7.7" height="6.11" fill="#ece6c0"/>
<rect shape-rendering="crispEdges" x="1146" y="202.62" width="7.7" height="6.11" fill="#eee4a0"/>
<rect shape-rendering="crispEdges" x="1146" y="196.81" width="7.7" height="6.11" fill="#f0e070"/>
<rect shape-rendering="crispEdges" x="1146" y="191.00" width="7.7" height="6.11" fill="#f0e040"/>
<rect shape-rendering="crispEdges" x="1146" y="185.18" width="7.7" height="6.11" fill="#f0d030"/>
<rect shape-rendering="crispEdges" x="1146" y="179.37" width="7.7" height="6.11" fill="#f0c428"/>
<rect shape-rendering="crispEdges" x="1146" y="173.55" width="7.7" height="6.11" fill="#eeb020"/>
<rect shape-rendering="crispEdges" x="1146" y="167.74" width="7.7" height="6.11" fill="#eba010"/>
<rect shape-rendering="crispEdges" x="1146" y="161.93" width="7.7" height="6.11" fill="#e89210"/>
<rect shape-rendering="crispEdges" x="1146" y="156.11" width="7.7" height="6.11" fill="#e48410"/>
<rect shape-rendering="crispEdges" x="1146" y="150.30" width="7.7" height="6.11" fill="#e17510"/>
<rect shape-rendering="crispEdges" x="1146" y="144.48" width="7.7" height="6.11" fill="#de6710"/>
<rect shape-rendering="crispEdges" x="1146" y="138.67" width="7.7" height="6.11" fill="#da621e"/>
<rect shape-rendering="crispEdges" x="1146" y="132.86" width="7.7" height="6.11" fill="#d8663a"/>
<rect shape-rendering="crispEdges" x="1146" y="127.04" width="7.7" height="6.11" fill="#d46a56"/>
<rect shape-rendering="crispEdges" x="1146" y="121.23" width="7.7" height="6.11" fill="#d26e72"/>
<rect shape-rendering="crispEdges" x="1146" y="115.41" width="7.7" height="6.11" fill="#d07088"/>
<rect shape-rendering="crispEdges" x="1146" y="109.60" width="7.7" height="6.11" fill="#d07098"/>
<rect shape-rendering="crispEdges" x="1146" y="103.79" width="7.7" height="6.11" fill="#d5638d"/>
<rect shape-rendering="crispEdges" x="1146" y="97.97" width="7.7" height="6.11" fill="#e04868"/>
<rect shape-rendering="crispEdges" x="1146" y="92.16" width="7.7" height="6.11" fill="#f03040"/>
<rect shape-rendering="crispEdges" x="1146" y="86.34" width="7.7" height="6.11" fill="#fa1015"/>
<rect shape-rendering="crispEdges" x="1146" y="80.53" width="7.7" height="6.11" fill="#f50606"/>
<rect shape-rendering="crispEdges" x="1146" y="74.72" width="7.7" height="6.11" fill="#e21212"/>
<rect shape-rendering="crispEdges" x="1146" y="68.90" width="7.7" height="6.11" fill="#d01b1c"/>
<rect shape-rendering="crispEdges" x="1146" y="63.09" width="7.7" height="6.11" fill="#c02124"/>
<rect shape-rendering="crispEdges" x="1146" y="57.27" width="7.7" height="6.11" fill="#b2252a"/>
<rect shape-rendering="crispEdges" x="1146" y="48.30" width="7.7" height="9.27" fill="#a6292e"/>
<line x1="1153.7" y1="48.3" x2="1153.7" y2="403" stroke="#000" stroke-width="1"/>
<line x1="1153.7" y1="400.3" x2="1161" y2="400.3" stroke="#222" stroke-width="1"/>
<text x="1167.6" y="404.7" font-size="12" fill="#000">-140</text>
<line x1="1153.7" y1="342.2" x2="1161" y2="342.2" stroke="#222" stroke-width="1"/>
<text x="1167.6" y="346.6" font-size="12" fill="#000">-20</text>
<line x1="1153.7" y1="284.0" x2="1161" y2="284.0" stroke="#222" stroke-width="1"/>
<text x="1167.6" y="288.4" font-size="12" fill="#000">-10</text>
<line x1="1153.7" y1="225.9" x2="1161" y2="225.9" stroke="#222" stroke-width="1"/>
<text x="1167.6" y="230.3" font-size="12" fill="#000">0</text>
<line x1="1153.7" y1="167.7" x2="1161" y2="167.7" stroke="#222" stroke-width="1"/>
<text x="1167.6" y="172.1" font-size="12" fill="#000">10</text>
<line x1="1153.7" y1="109.6" x2="1161" y2="109.6" stroke="#222" stroke-width="1"/>
<text x="1167.6" y="114.0" font-size="12" fill="#000">20</text>
<line x1="1153.7" y1="51.5" x2="1161" y2="51.5" stroke="#222" stroke-width="1"/>
<text x="1167.6" y="55.9" font-size="12" fill="#000">70</text>
<text x="1149.6" y="45.8" text-anchor="middle" font-size="12" fill="#000">ppbV</text>
</svg></body></html>
